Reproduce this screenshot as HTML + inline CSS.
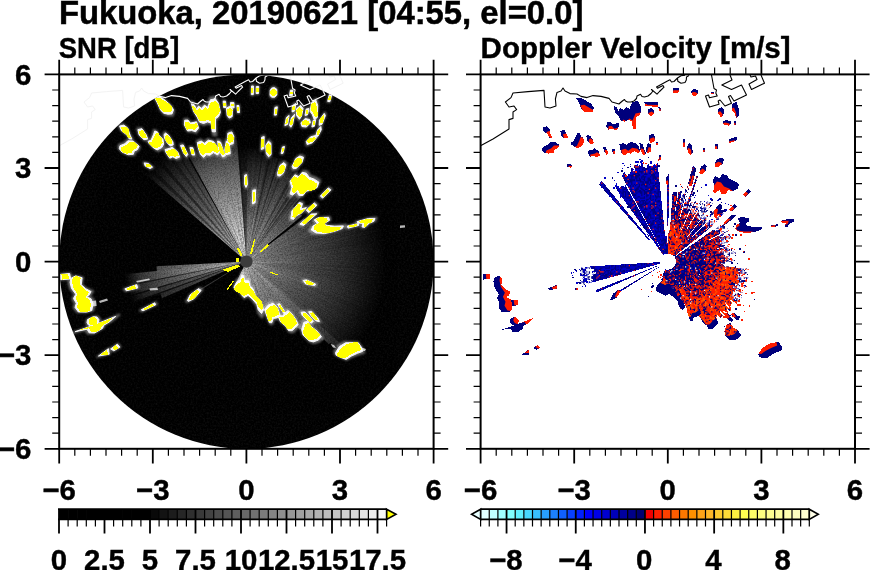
<!DOCTYPE html>
<html><head><meta charset="utf-8"><title>Fukuoka radar</title>
<style>html,body{margin:0;padding:0;background:#fff;}svg{display:block;}</style></head>
<body>
<svg width="870" height="570" viewBox="0 0 870 570" font-family="Liberation Sans, sans-serif" font-weight="bold" fill="#000">
<rect width="870" height="570" fill="#fff"/>
<defs>
<radialGradient id="gA" gradientUnits="userSpaceOnUse" cx="246.4" cy="261.6" r="128"><stop offset="0.0" stop-color="#fff" stop-opacity="0.93"/><stop offset="0.062" stop-color="#fff" stop-opacity="0.91"/><stop offset="0.25" stop-color="#fff" stop-opacity="0.8"/><stop offset="0.484" stop-color="#fff" stop-opacity="0.6"/><stop offset="0.719" stop-color="#fff" stop-opacity="0.4"/><stop offset="0.844" stop-color="#fff" stop-opacity="0.28"/><stop offset="0.938" stop-color="#fff" stop-opacity="0.13"/><stop offset="1.0" stop-color="#fff" stop-opacity="0"/></radialGradient>
<radialGradient id="gL" gradientUnits="userSpaceOnUse" cx="246.4" cy="261.6" r="136"><stop offset="0.0" stop-color="#fff" stop-opacity="0.9"/><stop offset="0.059" stop-color="#fff" stop-opacity="0.88"/><stop offset="0.221" stop-color="#fff" stop-opacity="0.72"/><stop offset="0.441" stop-color="#fff" stop-opacity="0.46"/><stop offset="0.662" stop-color="#fff" stop-opacity="0.29"/><stop offset="0.809" stop-color="#fff" stop-opacity="0.17"/><stop offset="0.912" stop-color="#fff" stop-opacity="0.07"/><stop offset="1.0" stop-color="#fff" stop-opacity="0"/></radialGradient>
<radialGradient id="gN" gradientUnits="userSpaceOnUse" cx="246.4" cy="261.6" r="115"><stop offset="0.0" stop-color="#fff" stop-opacity="0.86"/><stop offset="0.07" stop-color="#fff" stop-opacity="0.84"/><stop offset="0.217" stop-color="#fff" stop-opacity="0.68"/><stop offset="0.435" stop-color="#fff" stop-opacity="0.44"/><stop offset="0.652" stop-color="#fff" stop-opacity="0.29"/><stop offset="0.826" stop-color="#fff" stop-opacity="0.17"/><stop offset="0.939" stop-color="#fff" stop-opacity="0.07"/><stop offset="1.0" stop-color="#fff" stop-opacity="0"/></radialGradient>
<radialGradient id="gE" gradientUnits="userSpaceOnUse" cx="246.4" cy="261.6" r="112"><stop offset="0.0" stop-color="#fff" stop-opacity="0.734"/><stop offset="0.071" stop-color="#fff" stop-opacity="0.691"/><stop offset="0.268" stop-color="#fff" stop-opacity="0.54"/><stop offset="0.446" stop-color="#fff" stop-opacity="0.432"/><stop offset="0.714" stop-color="#fff" stop-opacity="0.292"/><stop offset="0.875" stop-color="#fff" stop-opacity="0.13"/><stop offset="1.0" stop-color="#fff" stop-opacity="0.0"/></radialGradient>
<radialGradient id="gE2" gradientUnits="userSpaceOnUse" cx="246.4" cy="261.6" r="140"><stop offset="0.0" stop-color="#fff" stop-opacity="0.734"/><stop offset="0.057" stop-color="#fff" stop-opacity="0.691"/><stop offset="0.214" stop-color="#fff" stop-opacity="0.497"/><stop offset="0.429" stop-color="#fff" stop-opacity="0.324"/><stop offset="0.714" stop-color="#fff" stop-opacity="0.162"/><stop offset="0.914" stop-color="#fff" stop-opacity="0.043"/><stop offset="1.0" stop-color="#fff" stop-opacity="0.0"/></radialGradient>
<radialGradient id="gS" gradientUnits="userSpaceOnUse" cx="246.4" cy="261.6" r="142"><stop offset="0.0" stop-color="#fff" stop-opacity="0.756"/><stop offset="0.056" stop-color="#fff" stop-opacity="0.713"/><stop offset="0.211" stop-color="#fff" stop-opacity="0.562"/><stop offset="0.423" stop-color="#fff" stop-opacity="0.41"/><stop offset="0.704" stop-color="#fff" stop-opacity="0.248"/><stop offset="0.88" stop-color="#fff" stop-opacity="0.13"/><stop offset="1.0" stop-color="#fff" stop-opacity="0.0"/></radialGradient>
<radialGradient id="gW" gradientUnits="userSpaceOnUse" cx="246.4" cy="261.6" r="122"><stop offset="0.0" stop-color="#fff" stop-opacity="0.756"/><stop offset="0.066" stop-color="#fff" stop-opacity="0.734"/><stop offset="0.385" stop-color="#fff" stop-opacity="0.562"/><stop offset="0.713" stop-color="#fff" stop-opacity="0.356"/><stop offset="0.877" stop-color="#fff" stop-opacity="0.216"/><stop offset="1.0" stop-color="#fff" stop-opacity="0.0"/></radialGradient>
<clipPath id="ldisc"><circle cx="246.4" cy="261.6" r="187.2"/></clipPath>
<filter id="halo" x="-5%" y="-5%" width="110%" height="110%"><feGaussianBlur stdDeviation="0.55"/></filter>
<filter id="glow" x="-5%" y="-5%" width="110%" height="110%"><feGaussianBlur stdDeviation="1.3"/></filter>
<filter id="grain" x="0" y="0" width="100%" height="100%"><feTurbulence type="fractalNoise" baseFrequency="0.55" numOctaves="2" seed="3"/><feColorMatrix type="matrix" values="0 0 0 0 1  0 0 0 0 1  0 0 0 0 1  1.6 0 0 0 -0.62"/></filter>
<filter id="grain2" x="0" y="0" width="100%" height="100%"><feTurbulence type="fractalNoise" baseFrequency="0.7" numOctaves="2" seed="9"/><feColorMatrix type="matrix" values="0 0 0 0 0  0 0 0 0 0  0 0 0 0 0  2.2 0 0 0 -0.85"/></filter>
</defs>
<path d="M59.6 145.6L71.6 139L87.6 129L87.6 119.6L91.6 118.4L91.6 112L95.2 109.6L92.6 106L87.6 107L84 102L89.6 97.6L91.6 93L106.6 91.6L122.6 90.4L123.6 107L128.6 108L134.6 106L134 99L135.6 92.4L139.6 91L141.6 88L143.6 91L148.6 93.6L155.6 94L159.6 96.4L165.6 97.6L171.6 95.6L179.6 96.4L187.6 98.4L190.6 102L197.6 104L198.6 103L201.6 100.5L203.1 99.5L204.1 101L206.1 102L209.6 102L212.6 101L215.1 98.5L215.6 96L219.1 94.2L220.6 96.5L223.1 97L226.6 96L229.6 93.5L231.6 91L230.1 89.5L235.6 94.2L238.1 91.5L242.6 87.2L241.6 85.5L236.1 88.2L235.1 87L240.6 84L245.6 81.2L248.6 79.8L250.1 82L252.6 81.5L256.1 78L259.6 75.8L263.6 75.3M256.1 78L256.4 81.2L259.6 83.2L263.6 82.5L264.9 80L265.1 77L267.6 75.6M290.1 75L292.6 88.5L295.1 90L294.4 93L295.8 96L288.1 97.8L287.1 95L284.1 96L288.1 107L297.6 104.2L296.8 101L298.6 100L303.6 106L310.1 103.2L307.1 96.5L309.1 95.5L312.6 101L325.1 95L320.1 85L310.1 89.5L300.4 85L310.6 80L308.6 75M328.6 75L329.6 77L334.1 76L335.6 79.5L327.6 84L330.1 89.5L343.1 83.2L339.6 75" fill="none" stroke="#f3f3f3" stroke-width="1"/>
<circle cx="246.4" cy="261.6" r="187.2" fill="#000"/>
<g clip-path="url(#ldisc)">
<rect x="59.20000000000002" y="74.40000000000003" width="374.4" height="374.4" filter="url(#grain)" opacity="0.07"/>
<path d="M246.4 261.6L178.8 126.6L181.3 125.3L246.4 261.6ZM246.4 261.6L208.3 115.5L211.1 114.8L246.4 261.6ZM246.4 261.6L210.9 114.8L213.7 114.2L246.4 261.6ZM246.4 261.6L223.8 112.3L226.6 111.9L246.4 261.6Z" fill="url(#gA)" fill-opacity="0.95"/>
<path d="M246.4 261.6L174.1 129L176.6 127.7L246.4 261.6ZM246.4 261.6L190.8 121.2L193.5 120.2L246.4 261.6Z" fill="url(#gA)" fill-opacity="0.97"/>
<path d="M246.4 261.6L176.4 127.8L179 126.5L246.4 261.6ZM246.4 261.6L181.2 125.4L183.7 124.2L246.4 261.6ZM246.4 261.6L183.5 124.3L186.1 123.1L246.4 261.6ZM246.4 261.6L185.9 123.2L188.6 122.1L246.4 261.6ZM246.4 261.6L188.4 122.2L191 121.1L246.4 261.6ZM246.4 261.6L193.3 120.3L195.9 119.3L246.4 261.6ZM246.4 261.6L195.7 119.3L198.4 118.4L246.4 261.6ZM246.4 261.6L198.2 118.5L200.9 117.6L246.4 261.6ZM246.4 261.6L200.7 117.7L203.5 116.8L246.4 261.6ZM246.4 261.6L203.3 116.9L206 116.1L246.4 261.6ZM246.4 261.6L205.8 116.2L208.5 115.4L246.4 261.6ZM246.4 261.6L213.5 114.2L216.2 113.6L246.4 261.6ZM246.4 261.6L216 113.7L218.8 113.1L246.4 261.6ZM246.4 261.6L218.6 113.2L221.4 112.7L246.4 261.6ZM246.4 261.6L221.2 112.7L224 112.3L246.4 261.6ZM246.4 261.6L226.4 111.9L229.3 111.6L246.4 261.6ZM246.4 261.6L229 111.6L231.9 111.3L246.4 261.6ZM246.4 261.6L231.7 111.3L234.5 111.1L246.4 261.6ZM246.4 261.6L234.3 111.1L234.8 111L246.4 261.6Z" fill="url(#gA)" fill-opacity="1"/>
<path d="M246.4 261.6L317.6 217.1L318.5 218.4L246.4 261.6ZM246.4 261.6L323.1 227.4L323.8 228.9L246.4 261.6ZM246.4 261.6L324.3 230.1L324.9 231.6L246.4 261.6ZM246.4 261.6L324.8 231.5L325.4 233L246.4 261.6ZM246.4 261.6L388.3 210L389.2 212.6L246.4 261.6ZM246.4 261.6L389.2 212.4L390.1 215.1L246.4 261.6ZM246.4 261.6L390.8 217.5L391.6 220.2L246.4 261.6ZM246.4 261.6L392.3 222.5L393 225.3L246.4 261.6ZM246.4 261.6L393.5 227.6L394.1 230.4L246.4 261.6ZM246.4 261.6L395.1 235.4L395.6 238.2L246.4 261.6ZM246.4 261.6L395.5 238L396 240.8L246.4 261.6ZM246.4 261.6L397.3 256.3L397.4 259.2L246.4 261.6ZM246.4 261.6L397.3 266.9L397.2 269.7L246.4 261.6ZM246.4 261.6L397.2 269.5L397 272.3L246.4 261.6ZM246.4 261.6L396.8 274.8L396.6 277.6L246.4 261.6ZM246.4 261.6L396.3 280L395.9 282.8L246.4 261.6ZM246.4 261.6L395.5 285.2L395.1 288L246.4 261.6Z" fill="url(#gE2)" fill-opacity="0.85"/>
<path d="M246.4 261.6L318.4 218.3L319.2 219.7L246.4 261.6ZM246.4 261.6L319.9 220.9L320.6 222.3L246.4 261.6ZM246.4 261.6L321.2 223.5L322 224.9L246.4 261.6ZM246.4 261.6L321.9 224.8L322.6 226.2L246.4 261.6ZM246.4 261.6L394.1 230.2L394.7 233L246.4 261.6ZM246.4 261.6L394.6 232.8L395.1 235.6L246.4 261.6ZM246.4 261.6L396.6 245.8L396.8 248.6L246.4 261.6ZM246.4 261.6L396.8 248.4L397 251.3L246.4 261.6ZM246.4 261.6L395.9 282.6L395.5 285.4L246.4 261.6ZM246.4 261.6L394.1 293L393.5 295.8L246.4 261.6ZM246.4 261.6L389.2 310.8L388.2 313.4L246.4 261.6ZM246.4 261.6L379.7 332.5L378.4 335L246.4 261.6ZM246.4 261.6L374.5 341.6L372.9 344L246.4 261.6ZM246.4 261.6L371.6 346L370 348.4L246.4 261.6ZM246.4 261.6L367 352.5L365.3 354.7L246.4 261.6Z" fill="url(#gE2)" fill-opacity="0.9"/>
<path d="M246.4 261.6L303.9 218.3L304.7 219.4L246.4 261.6ZM246.4 261.6L304.6 219.3L305.4 220.4L246.4 261.6ZM246.4 261.6L305.4 220.3L306.1 221.4L246.4 261.6ZM246.4 261.6L306.1 221.3L306.8 222.5L246.4 261.6ZM246.4 261.6L306.8 222.4L307.5 223.5L246.4 261.6Z" fill="url(#gE2)" fill-opacity="0.92"/>
<path d="M246.4 261.6L319.1 219.6L319.9 221L246.4 261.6ZM246.4 261.6L320.6 222.2L321.3 223.6L246.4 261.6ZM246.4 261.6L322.5 226.1L323.2 227.5L246.4 261.6ZM246.4 261.6L323.7 228.8L324.3 230.2L246.4 261.6ZM246.4 261.6L390 214.9L390.9 217.7L246.4 261.6ZM246.4 261.6L391.6 220L392.3 222.7L246.4 261.6ZM246.4 261.6L392.9 225.1L393.6 227.8L246.4 261.6ZM246.4 261.6L395.9 240.6L396.3 243.4L246.4 261.6ZM246.4 261.6L396.3 243.2L396.6 246L246.4 261.6ZM246.4 261.6L397 251.1L397.2 253.9L246.4 261.6ZM246.4 261.6L397.2 253.7L397.3 256.5L246.4 261.6ZM246.4 261.6L397.4 259L397.4 261.8L246.4 261.6ZM246.4 261.6L397.4 261.6L397.4 264.4L246.4 261.6ZM246.4 261.6L397.4 264.2L397.3 267.1L246.4 261.6ZM246.4 261.6L397 272.1L396.8 275L246.4 261.6ZM246.4 261.6L396.6 277.4L396.2 280.2L246.4 261.6ZM246.4 261.6L395.1 287.8L394.6 290.6L246.4 261.6ZM246.4 261.6L392.9 298.1L392.2 300.9L246.4 261.6ZM246.4 261.6L390.8 305.7L389.9 308.5L246.4 261.6ZM246.4 261.6L387.4 315.7L386.3 318.4L246.4 261.6ZM246.4 261.6L386.4 318.2L385.3 320.8L246.4 261.6ZM246.4 261.6L385.4 320.6L384.3 323.2L246.4 261.6ZM246.4 261.6L382.1 327.8L380.8 330.3L246.4 261.6ZM246.4 261.6L380.9 330.2L379.6 332.7L246.4 261.6ZM246.4 261.6L378.5 334.8L377.1 337.3L246.4 261.6ZM246.4 261.6L375.8 339.4L374.3 341.8L246.4 261.6ZM246.4 261.6L373 343.8L371.5 346.2L246.4 261.6ZM246.4 261.6L370.1 348.2L368.4 350.5L246.4 261.6ZM246.4 261.6L368.6 350.4L366.9 352.6L246.4 261.6ZM246.4 261.6L365.4 354.6L363.6 356.8L246.4 261.6Z" fill="url(#gE2)" fill-opacity="0.95"/>
<path d="M246.4 261.6L394.6 290.4L394.1 293.2L246.4 261.6ZM246.4 261.6L393.5 295.6L392.9 298.3L246.4 261.6ZM246.4 261.6L392.3 300.7L391.5 303.4L246.4 261.6ZM246.4 261.6L391.6 303.2L390.7 305.9L246.4 261.6ZM246.4 261.6L390 308.3L389.1 311L246.4 261.6ZM246.4 261.6L388.3 313.2L387.3 315.9L246.4 261.6ZM246.4 261.6L384.3 323L383.2 325.6L246.4 261.6ZM246.4 261.6L383.3 325.4L382 328L246.4 261.6ZM246.4 261.6L377.2 337.1L375.7 339.6L246.4 261.6ZM246.4 261.6L363.7 356.6L361.9 358.8L246.4 261.6ZM246.4 261.6L362.1 358.7L360.2 360.8L246.4 261.6Z" fill="url(#gE2)" fill-opacity="1"/>
<path d="M246.4 261.6L172 130.2L174.3 128.9L246.4 261.6Z" fill="url(#gL)" fill-opacity="0.04"/>
<path d="M246.4 261.6L145.4 149.4L147.5 147.5L246.4 261.6ZM246.4 261.6L147.3 147.6L149.5 145.8L246.4 261.6Z" fill="url(#gL)" fill-opacity="0.45"/>
<path d="M246.4 261.6L136 158.6L137.9 156.6L246.4 261.6ZM246.4 261.6L137.8 156.7L139.8 154.7L246.4 261.6Z" fill="url(#gL)" fill-opacity="0.5"/>
<path d="M246.4 261.6L164.2 135L166.6 133.4L246.4 261.6Z" fill="url(#gL)" fill-opacity="0.55"/>
<path d="M246.4 261.6L155.5 141L157.8 139.3L246.4 261.6ZM246.4 261.6L157.6 139.4L160 137.8L246.4 261.6Z" fill="url(#gL)" fill-opacity="0.6"/>
<path d="M246.4 261.6L149.3 145.9L151.5 144.1L246.4 261.6ZM246.4 261.6L151.4 144.3L153.6 142.5L246.4 261.6ZM246.4 261.6L153.4 142.6L155.7 140.9L246.4 261.6ZM246.4 261.6L166.4 133.5L168.8 132.1L246.4 261.6ZM246.4 261.6L168.6 132.2L171.1 130.7L246.4 261.6ZM246.4 261.6L170.9 130.8L172.2 130.1L246.4 261.6Z" fill="url(#gL)" fill-opacity="0.85"/>
<path d="M246.4 261.6L132.4 162.5L134.3 160.4L246.4 261.6ZM246.4 261.6L134.2 160.6L136.1 158.5L246.4 261.6ZM246.4 261.6L139.6 154.8L141.7 152.8L246.4 261.6ZM246.4 261.6L141.5 153L143.6 151L246.4 261.6ZM246.4 261.6L143.4 151.2L145.5 149.2L246.4 261.6ZM246.4 261.6L159.8 137.9L162.1 136.3L246.4 261.6ZM246.4 261.6L162 136.4L164.3 134.8L246.4 261.6Z" fill="url(#gL)" fill-opacity="0.9"/>
<path d="M246.4 261.6L234.6 111.1L237.4 110.9L246.4 261.6ZM246.4 261.6L237.2 110.9L238.7 110.8L246.4 261.6Z" fill="url(#gN)" fill-opacity="0.3"/>
<path d="M246.4 261.6L238.5 110.8L241.3 110.7L246.4 261.6ZM246.4 261.6L241.1 110.7L244 110.6L246.4 261.6ZM246.4 261.6L243.8 110.6L246.6 110.6L246.4 261.6ZM246.4 261.6L246.4 110.6L247.9 110.6L246.4 261.6ZM246.4 261.6L268.9 156L270.8 156.4L246.4 261.6ZM246.4 261.6L278 158.3L279.9 158.9L246.4 261.6ZM246.4 261.6L300.3 184.6L301.8 185.6L246.4 261.6Z" fill="url(#gN)" fill-opacity="0.45"/>
<path d="M246.4 261.6L297.1 166.2L298.9 167.2L246.4 261.6ZM246.4 261.6L296.2 181.9L297.7 182.8L246.4 261.6ZM246.4 261.6L297.6 182.8L299.1 183.7L246.4 261.6Z" fill="url(#gN)" fill-opacity="0.55"/>
<path d="M246.4 261.6L261.4 154.7L263.4 155L246.4 261.6ZM246.4 261.6L285.1 160.8L287 161.5L246.4 261.6ZM246.4 261.6L295.4 165.4L297.2 166.3L246.4 261.6ZM246.4 261.6L301.7 185.6L303.1 186.6L246.4 261.6ZM246.4 261.6L304.3 187.5L305.7 188.6L246.4 261.6Z" fill="url(#gN)" fill-opacity="0.6"/>
<path d="M246.4 261.6L292.7 206.4L293.7 207.3L246.4 261.6ZM246.4 261.6L294.6 208.1L295.6 209L246.4 261.6ZM246.4 261.6L297.3 210.7L298.3 211.7L246.4 261.6ZM246.4 261.6L299.9 213.4L300.8 214.4L246.4 261.6Z" fill="url(#gN)" fill-opacity="0.7"/>
<path d="M246.4 261.6L267 155.6L269 156L246.4 261.6ZM246.4 261.6L272.5 156.8L274.5 157.3L246.4 261.6ZM246.4 261.6L281.6 159.5L283.5 160.2L246.4 261.6ZM246.4 261.6L303 186.5L304.4 187.6L246.4 261.6Z" fill="url(#gN)" fill-opacity="0.75"/>
<path d="M246.4 261.6L247.7 110.6L250.6 110.7L246.4 261.6ZM246.4 261.6L250.4 110.7L253.2 110.8L246.4 261.6ZM246.4 261.6L253 110.7L255.8 110.9L246.4 261.6ZM246.4 261.6L258.2 111.1L261.1 111.3L246.4 261.6ZM246.4 261.6L260.9 111.3L263.7 111.6L246.4 261.6ZM246.4 261.6L270.7 156.4L272.7 156.8L246.4 261.6ZM246.4 261.6L293.4 180.2L294.9 181.1L246.4 261.6ZM246.4 261.6L293.6 207.3L294.7 208.2L246.4 261.6ZM246.4 261.6L295.5 208.9L296.5 209.9L246.4 261.6ZM246.4 261.6L296.4 209.8L297.4 210.8L246.4 261.6ZM246.4 261.6L298.2 211.6L299.1 212.6L246.4 261.6ZM246.4 261.6L299.1 212.5L300 213.5L246.4 261.6Z" fill="url(#gN)" fill-opacity="0.8"/>
<path d="M246.4 261.6L263.5 111.6L266.3 111.9L246.4 261.6ZM246.4 261.6L276.2 157.8L278.1 158.4L246.4 261.6ZM246.4 261.6L283.3 160.1L285.2 160.8L246.4 261.6ZM246.4 261.6L288.6 162.2L290.5 163L246.4 261.6ZM246.4 261.6L292 163.7L293.9 164.6L246.4 261.6ZM246.4 261.6L305.6 188.5L306.9 189.7L246.4 261.6ZM246.4 261.6L300.7 214.4L301.6 215.4L246.4 261.6ZM246.4 261.6L301.6 215.3L302 215.9L246.4 261.6Z" fill="url(#gN)" fill-opacity="0.9"/>
<path d="M246.4 261.6L255.6 110.9L258.5 111.1L246.4 261.6ZM246.4 261.6L266.1 111.9L267.6 112.1L246.4 261.6ZM246.4 261.6L286.9 161.5L288.7 162.2L246.4 261.6ZM246.4 261.6L294.8 181L296.3 182L246.4 261.6ZM246.4 261.6L299 183.7L300.4 184.7L246.4 261.6Z" fill="url(#gN)" fill-opacity="0.95"/>
<path d="M246.4 261.6L263.3 154.9L265.3 155.3L246.4 261.6ZM246.4 261.6L265.2 155.2L267.2 155.6L246.4 261.6ZM246.4 261.6L274.4 157.3L276.3 157.8L246.4 261.6ZM246.4 261.6L279.8 158.9L281.7 159.5L246.4 261.6ZM246.4 261.6L290.3 162.9L292.2 163.8L246.4 261.6ZM246.4 261.6L293.7 164.5L295.6 165.4L246.4 261.6ZM246.4 261.6L298.8 167.1L300.5 168.1L246.4 261.6ZM246.4 261.6L267.2 244.4L267.6 244.8L246.4 261.6ZM246.4 261.6L267.5 244.8L267.8 245.2L246.4 261.6ZM246.4 261.6L267.8 245.2L268 245.4L246.4 261.6Z" fill="url(#gN)" fill-opacity="1"/>
<path d="M246.4 261.6L310.3 332.6L309 333.8L246.4 261.6ZM246.4 261.6L300.8 328.8L299.6 329.8L246.4 261.6ZM246.4 261.6L297.8 327.4L296.6 328.4L246.4 261.6ZM246.4 261.6L289.4 323L288.3 323.8L246.4 261.6ZM246.4 261.6L285.1 321.1L283.9 321.9L246.4 261.6ZM246.4 261.6L278.9 317.9L277.8 318.5L246.4 261.6ZM246.4 261.6L265.3 310.8L264.4 311.1L246.4 261.6ZM246.4 261.6L261.5 308L260.6 308.3L246.4 261.6ZM246.4 261.6L260.3 306.9L259.4 307.2L246.4 261.6ZM246.4 261.6L259.1 305.8L258.2 306L246.4 261.6Z" fill="url(#gS)" fill-opacity="0.95"/>
<path d="M246.4 261.6L349.5 351.3L347.8 353.2L246.4 261.6ZM246.4 261.6L343 348.6L341.4 350.4L246.4 261.6ZM246.4 261.6L336.6 345.7L335 347.4L246.4 261.6ZM246.4 261.6L330.3 342.6L328.8 344.2L246.4 261.6ZM246.4 261.6L324.2 339.4L322.7 340.8L246.4 261.6ZM246.4 261.6L318.2 335.9L316.8 337.3L246.4 261.6ZM246.4 261.6L313.6 333.6L312.2 334.9L246.4 261.6ZM246.4 261.6L307.1 331.4L305.8 332.5L246.4 261.6ZM246.4 261.6L303.9 330.2L302.6 331.2L246.4 261.6ZM246.4 261.6L294.8 325.9L293.6 326.8L246.4 261.6ZM246.4 261.6L292 324.3L290.8 325.1L246.4 261.6ZM246.4 261.6L287.2 322.1L286.1 322.9L246.4 261.6ZM246.4 261.6L283 320.1L281.9 320.8L246.4 261.6ZM246.4 261.6L280.9 319L279.8 319.7L246.4 261.6ZM246.4 261.6L276.9 316.7L275.9 317.3L246.4 261.6ZM246.4 261.6L275 315.5L274 316L246.4 261.6ZM246.4 261.6L273.4 314.6L272.4 315.1L246.4 261.6ZM246.4 261.6L272 314L271 314.5L246.4 261.6ZM246.4 261.6L270.6 313.4L269.6 313.9L246.4 261.6ZM246.4 261.6L269.2 312.8L268.2 313.2L246.4 261.6ZM246.4 261.6L267.9 312.2L266.9 312.6L246.4 261.6ZM246.4 261.6L266.6 311.5L265.6 311.9L246.4 261.6ZM246.4 261.6L264 310.1L263.1 310.4L246.4 261.6ZM246.4 261.6L262.8 309.1L261.9 309.4L246.4 261.6Z" fill="url(#gS)" fill-opacity="1"/>
<path d="M246.4 261.6L257.9 304.6L257.1 304.8L246.4 261.6ZM246.4 261.6L256.8 303.4L256 303.6L246.4 261.6ZM246.4 261.6L255.8 302.1L255 302.3L246.4 261.6ZM246.4 261.6L254.8 300.9L254 301L246.4 261.6ZM246.4 261.6L253.8 299.6L253.1 299.7L246.4 261.6ZM246.4 261.6L253 298.8L252.3 298.9L246.4 261.6ZM246.4 261.6L252.2 298.3L251.5 298.4L246.4 261.6ZM246.4 261.6L251.5 297.9L250.8 298L246.4 261.6ZM246.4 261.6L250.8 297.4L250.1 297.5L246.4 261.6ZM246.4 261.6L250.1 297L249.5 297L246.4 261.6ZM246.4 261.6L249.5 296.5L248.8 296.6L246.4 261.6ZM246.4 261.6L248.8 296L248.2 296.1L246.4 261.6ZM246.4 261.6L248.2 295.5L247.5 295.5L246.4 261.6ZM246.4 261.6L247.6 295L246.9 295L246.4 261.6ZM246.4 261.6L247 294.5L246.4 294.5L246.4 261.6ZM246.4 261.6L246.4 293.9L245.8 293.9L246.4 261.6ZM246.4 261.6L245.8 293.4L245.2 293.4L246.4 261.6ZM246.4 261.6L245.3 292.9L244.7 292.8L246.4 261.6ZM246.4 261.6L244.8 292.5L244.2 292.5L246.4 261.6ZM246.4 261.6L244.2 292.4L243.7 292.4L246.4 261.6ZM246.4 261.6L243.7 292.3L243.1 292.2L246.4 261.6ZM246.4 261.6L243.2 292.1L242.6 292.1L246.4 261.6ZM246.4 261.6L242.7 292L242.1 291.9L246.4 261.6ZM246.4 261.6L242.1 291.8L241.6 291.8L246.4 261.6ZM246.4 261.6L241.6 291.7L241.1 291.6L246.4 261.6ZM246.4 261.6L241.1 291.5L240.6 291.4L246.4 261.6ZM246.4 261.6L240.6 291.3L240.1 291.2L246.4 261.6ZM246.4 261.6L240.1 291.1L239.6 291L246.4 261.6ZM246.4 261.6L239.6 291L239.1 290.8L246.4 261.6ZM246.4 261.6L239.1 290.7L238.6 290.6L246.4 261.6ZM246.4 261.6L238.7 290.5L238.1 290.3L246.4 261.6ZM246.4 261.6L238.2 290.2L237.7 290L246.4 261.6ZM246.4 261.6L237.8 289.9L237.2 289.7L246.4 261.6ZM246.4 261.6L237.3 289.5L236.8 289.4L246.4 261.6ZM246.4 261.6L236.9 289.2L236.4 289L246.4 261.6ZM246.4 261.6L236.5 288.9L236 288.7L246.4 261.6ZM246.4 261.6L236.1 288.5L235.6 288.3L246.4 261.6ZM246.4 261.6L235.7 288.2L235.2 287.9L246.4 261.6ZM246.4 261.6L235.3 287.8L234.8 287.6L246.4 261.6ZM246.4 261.6L234.9 287.4L234.4 287.2L246.4 261.6ZM246.4 261.6L234.5 287.1L234.1 286.8L246.4 261.6Z" fill="url(#gS)" fill-opacity="1.05"/>
<path d="M246.4 261.6L105 314.5L104 311.8L246.4 261.6Z" fill="url(#gW)" fill-opacity="0.12"/>
<path d="M246.4 261.6L102 305.7L101.2 303L246.4 261.6Z" fill="url(#gW)" fill-opacity="0.2"/>
<path d="M246.4 261.6L98.7 293L98.1 290.2L246.4 261.6Z" fill="url(#gW)" fill-opacity="0.35"/>
<path d="M246.4 261.6L190.4 296.6L189.8 295.5L246.4 261.6ZM246.4 261.6L189.8 295.6L189.7 295.3L246.4 261.6Z" fill="url(#gW)" fill-opacity="0.4"/>
<path d="M246.4 261.6L162 298.3L161.4 296.7L246.4 261.6ZM246.4 261.6L161.4 296.8L160.8 295.2L246.4 261.6ZM246.4 261.6L160.8 295.3L160.2 293.7L246.4 261.6Z" fill="url(#gW)" fill-opacity="0.5"/>
<path d="M246.4 261.6L104.1 312L103.1 309.3L246.4 261.6ZM246.4 261.6L103.2 309.5L102.3 306.8L246.4 261.6ZM246.4 261.6L102.4 307L101.9 305.5L246.4 261.6Z" fill="url(#gW)" fill-opacity="0.6"/>
<path d="M246.4 261.6L101.2 303.2L100.5 300.5L246.4 261.6ZM246.4 261.6L100.5 300.7L99.8 297.9L246.4 261.6ZM246.4 261.6L99.9 298.1L99.2 295.4L246.4 261.6ZM246.4 261.6L99.3 295.6L98.7 292.8L246.4 261.6Z" fill="url(#gW)" fill-opacity="0.85"/>
<path d="M246.4 261.6L156.9 271L156.7 269.3L246.4 261.6ZM246.4 261.6L156.7 269.4L156.6 267.8L246.4 261.6ZM246.4 261.6L156.6 267.9L156.5 266.2L246.4 261.6Z" fill="url(#gW)" fill-opacity="0.9"/>
<path d="M246.4 261.6L98.2 290.4L97.7 287.6L246.4 261.6ZM246.4 261.6L97.7 287.8L97.2 285L246.4 261.6ZM246.4 261.6L97.3 285.2L96.8 282.4L246.4 261.6ZM246.4 261.6L96.9 282.6L96.5 279.8L246.4 261.6ZM246.4 261.6L96.5 280L96.2 277.2L246.4 261.6Z" fill="url(#gW)" fill-opacity="1"/>
<rect x="96.4" y="111.60000000000002" width="300" height="300" filter="url(#grain2)" opacity="0.36"/>
<circle cx="246.4" cy="261.6" r="6.2" fill="#3c3c3c"/>
<path d="M59.6 145.6L71.6 139L87.6 129L87.6 119.6L91.6 118.4L91.6 112L95.2 109.6L92.6 106L87.6 107L84 102L89.6 97.6L91.6 93L106.6 91.6L122.6 90.4L123.6 107L128.6 108L134.6 106L134 99L135.6 92.4L139.6 91L141.6 88L143.6 91L148.6 93.6L155.6 94L159.6 96.4L165.6 97.6L171.6 95.6L179.6 96.4L187.6 98.4L190.6 102L197.6 104L198.6 103L201.6 100.5L203.1 99.5L204.1 101L206.1 102L209.6 102L212.6 101L215.1 98.5L215.6 96L219.1 94.2L220.6 96.5L223.1 97L226.6 96L229.6 93.5L231.6 91L230.1 89.5L235.6 94.2L238.1 91.5L242.6 87.2L241.6 85.5L236.1 88.2L235.1 87L240.6 84L245.6 81.2L248.6 79.8L250.1 82L252.6 81.5L256.1 78L259.6 75.8L263.6 75.3M256.1 78L256.4 81.2L259.6 83.2L263.6 82.5L264.9 80L265.1 77L267.6 75.6M290.1 75L292.6 88.5L295.1 90L294.4 93L295.8 96L288.1 97.8L287.1 95L284.1 96L288.1 107L297.6 104.2L296.8 101L298.6 100L303.6 106L310.1 103.2L307.1 96.5L309.1 95.5L312.6 101L325.1 95L320.1 85L310.1 89.5L300.4 85L310.6 80L308.6 75M328.6 75L329.6 77L334.1 76L335.6 79.5L327.6 84L330.1 89.5L343.1 83.2L339.6 75" fill="none" stroke="#fff" stroke-width="1.1" stroke-linejoin="round"/>
<path d="M400 225.6L405 225.2L405 227.6L400 228ZM99 301L107 298.4L108 300.4L100 303ZM92 301L96 300.4L96.6 306L92.6 306.4ZM136 281L149 278.4L150 280L137.4 282.4ZM149.4 288.4L157.4 287.6L158 290L150 290.4ZM330.6 344L334 345L336 348L333 347.6ZM360 347L366 349L365 351L361 351Z" fill="#fff" filter="url(#halo)" opacity=".72"/>
<path d="M152.8 94.2L157 93.7L163.8 98.7L170.9 105.6L174.1 110.9L172.9 115.6L168.7 115.6L164.4 114.2L160.8 110.6L156.7 101.5ZM190.8 101.4L193.9 102.9L196.2 108.2L198.1 104.5L201.3 107.3L204.1 103.7L207.3 106.5L209.9 97.7L214.9 96.8L218.2 102.2L220.5 112.8L218.8 117.8L215.8 120.1L216.3 135.5L213.1 135.2L211.7 124.9L207.9 123.4L204 125.1L199.8 123.3L197.4 117.5L193.3 110.5ZM184.2 119.1L187.5 118.9L190.3 122.7L196.4 121.5L198.9 128.7L196.2 132.9L191.9 131.2L187.8 131.6L184.2 124.5ZM223.1 100.6L225.5 100.7L226.1 108L223.7 107.9ZM118.5 124.9L122.9 124.2L127.4 127.7L130.6 135.8L133 140.2L130 139.8L127.2 135.3L121 130.3ZM137.1 128.6L141.4 128.1L146.6 135.4L148.5 139.9L144.5 140.3L138.9 134.7ZM119 144.6L124 143L127 140.1L132.8 140.8L140 146.9L138.2 150.5L135 151.9L134.3 155.2L128.6 155.1L121.7 151.8L118.5 148ZM147.6 140.7L150.8 139.7L152.9 133.7L153.9 129.8L156.9 131.2L158.2 134.4L163.1 139.5L164.5 145.1L162.7 148.9L158 151.1L154 148.4L149 143.3ZM163.4 133.5L165 132L168.3 134.8L173.3 142.6L173.9 146L171 146.8L167.6 143.5L164.3 137.7ZM164.3 148.5L169.5 147.5L171.6 146.3L178 152.5L180.4 158.2L176.7 159.4L173.2 157.3L170.1 158.6L165.8 152.2ZM180 144.5L182.7 144.1L188.2 155.2L186.8 157.5L183.8 153.5ZM189.6 146.9L192.5 147.2L195 155.7L192.3 155.4ZM196.8 140.9L200.8 139.5L204.1 142.3L207.9 138.9L213.2 140.6L217.5 147.5L220 154.1L218.2 156.4L213.9 153.5L210 156.4L206.8 155.4L204 158.4L200.6 154.8L197.8 146ZM217.2 139.5L220.3 140.9L223.9 153L225.7 157L222.7 158.1L218.7 148.5ZM143.6 162.3L148.3 163.3L153 167.5L150.5 169L145 165.8ZM226.3 107.3L229.7 105.3L232.4 108L232.3 117.4L229.3 119.1L227.2 115.9ZM230.4 102.1L233.8 102.2L234.2 108.3L230.8 108.2ZM236.9 104.9L238.9 104.9L239.5 113.1L237.5 113.1ZM251.5 85.3L253.5 85.3L253.3 95.3L251.3 95.3ZM256.3 85.9L258.7 85.9L258.5 94.1L256.1 94.1ZM270.3 90L271.8 87.4L274.4 86.7L276.9 88.7L276.7 95.2L274.6 97.9L271.8 98L269.9 96.1ZM275 107L277.5 106.1L276.2 115.7L274.2 115.8ZM290.5 89.9L293.1 89.7L292.1 96.1L289.5 96.3ZM286.5 117.2L289.4 114.4L287.4 125L284.7 126.5ZM291.7 117L295 112.9L292.4 124.7L290.6 128.2L289.3 126.3ZM296.6 108.3L301 104.1L303.4 107.7L301.3 116.9L299 120.4L296.2 116.1ZM292.5 105.4L296.1 102.6L294.5 111.4L291.9 112.6ZM312.1 101.5L316.5 98.6L318.1 104.6L316.9 118.5L313.6 120.8L312 115.3L309.8 111.8ZM306.3 108.7L309.2 107.9L307.3 115.3L304.8 116ZM300.7 123.1L305.4 118L309.9 118.8L310.7 122.4L306.2 127.5L301.6 127.3ZM313.4 120L316 119L314.2 126.6L311.6 127.6ZM319.2 120.5L324.8 112.5L325.8 114.8L321.5 125.1L318.6 126.1ZM329.5 94.3L332 94.5L329.7 102.1L327.4 101.9ZM317.7 129.7L321.3 125.6L321.6 129.2L317.5 137L315.4 136.5ZM306 141.9L310.8 136.5L316.3 134.6L317.1 136.9L312.2 143.2L306.7 145.5ZM227.7 132.4L231.6 130.8L233.8 136L233.3 144.7L229.4 145.8L227.6 140.6ZM224.9 150.6L226.1 140L229 141.4L230.5 154.7L225.9 155.8ZM261.8 136.4L264.4 135.5L263.6 149.6L261 150.5ZM265.8 145.1L268.6 139.8L271.1 142.2L270.9 155.4L268.4 158.1L266.1 154.4ZM282.6 146.6L284.7 145.9L282.8 153.9L280.9 154ZM291.8 167.4L295.9 158.3L300.4 154.9L304.1 156.1L302.2 162L295.8 169.4L292.6 169.8ZM277.1 174.3L280.2 165L284.2 161.4L286.4 163.6L283.4 173.2L279.6 177L277.4 176.7ZM244.6 174.3L246.6 173.5L247.4 185.1L246 188.5L244.6 185.1ZM289.6 181.9L295.3 174.2L299.4 176.1L303.3 170.8L307.6 171.5L310.3 175.8L315.6 177.5L320.2 180.4L317.7 186.6L311.9 189.7L305.9 191.5L302 196.7L297.6 196.8L295.9 192.8L291.1 197L288.6 196.1L291 188.8ZM319.5 196.8L329 187.3L331.7 189.2L322 198.7ZM291.3 211.6L300.2 201.4L303.5 202.6L301.6 208.5L307.5 206.6L302.2 212.5L295.2 216.8L292.4 220.5L289.6 219.7ZM305.6 210.7L315 202.4L317.7 204.7L308 213.3ZM298.6 225.1L312.3 213.4L318.3 212.7L302.5 226.1ZM313.1 220.3L318.3 217.8L329.6 216.8L330.5 219.8L323 224.2L327.5 225.3L336.1 225.6L346.1 224.7L344.5 227.5L335.5 230.8L323.9 233.9L314.1 233.8L308.9 231.1L311.1 226.8L316.3 224.2ZM346.5 226.4L359.6 223.1L359.4 225.2L347.1 228.5ZM355.9 222L369.1 218.3L376.7 217.8L375.1 221L369.9 223L364.2 227.6L361.2 227.2L362.5 223.6L356.5 223.4ZM252.9 189.2L255.8 188.6L255.1 203.7L252.2 205.1ZM58.9 274.6L70.4 273.4L71.6 278.8L59.5 279.8ZM69.6 278.6L75.4 275.9L82.9 277.5L81.7 284.7L86.6 288.5L92.9 291.2L90.1 295.4L86.9 296.5L92.5 298.3L94.8 303.2L93.1 310.4L86.5 312.1L77.2 312.2L73.6 307.7L75.1 303.6L72.1 298.7L74.9 294.5L70.1 288.7L68.6 282.7ZM86.9 319.8L93.6 316.6L97.9 316.6L100.1 319.4L98.7 323.2L91.2 326.3L87.6 325.3L86 323ZM71.5 333.2L92.2 325.8L119.5 314.8L111.4 321.1L104.8 324.8L103.2 328L93.8 333.3L87.6 333.5L85.5 329.9ZM97.4 356.7L109.2 348.2L109.6 353.9ZM110 349.3L117.8 343.8L120.5 346.8L113.4 351.1ZM123.7 289.1L137.7 284.4L138.7 287.8L125.4 291ZM140 310.4L155.8 302.3L156.8 304.3L141.9 311.3ZM186.2 301.4L189.9 295L199.8 287.8L202.4 289.7L193.7 298.8L187.3 302.1ZM233.8 286.2L236.7 279.7L240.3 277.2L241.6 272L243.6 272.6L244.3 278.6L248.7 278.7L249.8 285.2L252.9 287.8L256.2 298.7L261.7 305.3L263.8 313.1L261.9 317.5L258.4 313L256.9 306.5L252.2 299.9L248.1 295.9L244.2 298.5L238.9 291.5L234.9 288.8ZM264 308.2L267.4 303.7L272.4 301.8L277.1 307.2L280.5 316.3L277.2 318.9L273.7 319.2L272.5 324L269.9 323.7L266.3 314.6ZM276.9 303.4L279.1 302.9L286.2 313.8L284.6 314.5ZM276.6 313.7L281.6 315L284.1 312.3L286.9 309.1L291.3 313.2L296.7 320.8L299 325.9L296.2 329L293.3 332.2L289.3 331.7L286.1 326.6L280.1 321.2ZM300.2 311.4L304.1 311.2L310.3 317.6L314.3 322.1L312.3 324.1L308 320.9L301.6 314.7ZM307.5 311L311 310.8L318.8 319.1L320.4 322.4L316.8 321.5L310.4 315.1ZM300.7 328.5L302.4 320.7L306.4 320.1L310.4 325.9L317.4 331.5L322.6 337.9L319.7 341.4L314.4 343L309.7 341.5L302.6 334.5ZM334.4 351.7L338.1 345.5L344.6 341.9L358.2 342.6L362.3 348L364.1 352.7L358.5 354.2L352 356.7L346.6 359.8L339.6 356.8L335.2 354.5ZM302.2 280.1L306 279.7L316.7 284.5L315.6 285.9L305.1 283.7Z" fill="#fff" stroke="#fff" stroke-width="2" stroke-linejoin="round" filter="url(#glow)" opacity=".4"/>
<path d="M153.9 96.3L157.9 95.6L164.2 99.5L170.7 105.3L173.5 109.7L172 113.9L167.9 114.2L163.8 113.2L160.7 110.2L157.2 102.5ZM191.4 103.7L194.4 104.9L196.5 109.3L198.5 106.1L201.5 108.3L204.5 105.1L207.6 107.4L210.4 99.8L215.4 98.8L218.5 103.3L220.4 112.4L218.5 116.7L215.5 118.8L215.4 131.9L212.2 131.8L211.2 123.1L207.5 121.9L203.5 123.5L199.5 122.1L197.3 117.3L193.6 111.4ZM184.7 120.3L187.9 120L190.5 123.1L196.5 121.8L198.6 127.9L195.7 131.7L191.6 130.5L187.6 131L184.4 125ZM223.2 101.1L225.6 101.2L226 107.5L223.6 107.4ZM119.6 126.1L123.8 125.1L127.7 128L130.1 135.2L131.9 139.1L129.2 138.9L127 135L121.5 130.8ZM137.9 129.6L142 128.7L146.3 135.1L147.7 139L144 139.7L139.1 134.9ZM120 145.7L124.8 143.8L127.8 140.8L133 141L139.2 146.2L137.3 149.7L134.2 151.2L133.3 154.3L128.1 154.7L122 152L119.3 148.8ZM148.1 141.3L151.1 140.2L153.5 134.6L154.8 131L157.6 132L158.5 134.8L162.9 139.2L163.7 144.1L161.8 147.6L157.1 149.9L153.5 147.9L149.2 143.5ZM164 134.5L165.6 133.1L168.6 135.3L172.9 141.9L173.2 144.9L170.3 145.9L167.4 143.2L164.6 138.2ZM165 149.5L170.1 148.2L172.1 147L177.8 152.1L179.7 157.1L176 158.5L172.8 156.8L169.8 158.2L166.1 152.7ZM180.5 145.5L183.2 144.9L187.8 154.4L186.3 156.5L183.7 153.2ZM189.9 147.6L192.8 147.7L194.7 155L192 154.9ZM197.3 142.5L201.3 141.1L204.4 143.3L208.4 140.2L213.5 141.4L217.4 147.3L219.6 152.8L217.6 154.9L213.5 152.6L209.6 155.3L206.5 154.6L203.6 157.3L200.5 154.4L198.1 146.9ZM217.6 141L220.6 142.2L223.7 152.5L225.4 155.8L222.4 156.8L218.7 148.7ZM144.2 162.9L148.5 163.5L152.5 167.1L150.1 168.6L145.2 166ZM226.4 108L229.8 106.3L232.4 108.5L232.2 116.6L229.2 118.1L227.2 115.4ZM230.5 102.6L233.9 102.6L234.1 107.8L230.7 107.8ZM236.9 105.5L238.9 105.5L239.5 112.5L237.5 112.5ZM251.5 86L253.5 86L253.3 94.6L251.3 94.6ZM256.3 86.5L258.7 86.5L258.5 93.5L256.1 93.5ZM270.2 90.3L271.6 88.1L274.3 87.6L276.8 89.3L276.8 94.9L274.8 97.2L271.9 97.2L270 95.5ZM274.9 107.5L277.3 106.8L276.3 115.1L274.3 115.1ZM290.4 90.2L293 90.2L292.2 95.8L289.6 95.8ZM286.4 117.6L289.1 115.4L287.6 124.4L284.9 125.6ZM291.5 117.6L294.6 114.2L292.6 124.3L290.9 127.2L289.5 125.5ZM296.5 108.7L300.6 105.3L303.1 108.5L301.5 116.4L299.4 119.3L296.5 115.5ZM292.4 105.7L295.9 103.4L294.6 111L292.1 111.9ZM311.7 102.4L315.8 100.1L317.7 105.5L317.3 117.6L314.2 119.4L312.3 114.5L310 111.3ZM306.1 109.1L309 108.6L307.5 114.9L305 115.4ZM300.9 122.8L305.2 118.6L309.6 119.5L310.5 122.7L306.4 127L302 126.5ZM313.2 120.3L315.7 119.6L314.4 126.3L311.9 127ZM319.4 120.2L324.2 113.4L325.4 115.6L321.9 124.4L319.2 125.2ZM329.3 94.7L331.7 95L329.9 101.7L327.7 101.4ZM317.6 129.9L320.8 126.5L321.3 129.7L317.8 136.4L315.8 135.8ZM306.3 141.4L310.7 136.8L315.8 135.5L316.7 137.6L312.3 142.8L307.2 144.5ZM227.8 133.3L231.8 131.9L233.8 136.3L233.2 143.7L229.2 144.7L227.6 140.3ZM224.8 150.3L226.3 141.2L229.1 142.3L230.3 153.7L225.7 154.7ZM261.6 137.3L264.2 136.6L263.8 148.7L261.2 149.4ZM265.7 145.6L268.4 141.1L270.9 143.3L271.1 154.6L268.6 156.8L266.3 153.6ZM282.4 147L284.5 146.5L282.9 153.4L281.1 153.4ZM292.2 166.5L295.7 158.7L299.8 156L303.5 157.3L302 162.4L296.2 168.5L293.2 168.6ZM277.4 173.5L279.9 165.6L283.7 162.6L286 164.7L283.5 172.9L280 176L277.8 175.7ZM244.6 175.3L246.6 174.6L247.4 184.5L246 187.4L244.6 184.5ZM290.1 181.3L294.9 174.8L298.9 176.7L302.2 172.3L306.3 173.2L309.2 177.3L314.3 179.2L318.9 182.2L317.1 187.6L311.8 189.9L306.2 191.2L302.9 195.6L298.7 195.3L296.8 191.6L292.6 195L290.1 194L291.9 187.6ZM320.3 196.1L328.3 187.9L330.9 189.9L322.7 198.1ZM291.9 211.1L299.3 202.3L302.4 203.6L301.1 208.9L306.4 207.6L302 212.7L295.8 216.1L293.6 219.4L290.9 218.5ZM306.3 210.1L314.3 202.9L316.9 205.3L308.7 212.7ZM299.9 224.1L311.4 214L316.8 213.8L303.5 225.4ZM314.3 219.8L318.7 217.6L328.6 217.3L329.6 220.3L323.2 224.1L327.2 225.4L334.8 226.2L343.4 225.9L342.2 228.6L334.6 231.3L324.6 233.6L316 232.9L311.3 230L313 225.9L317.4 223.7ZM347.4 226.1L358.6 223.5L358.6 225.5L348 228.1ZM357.2 221.6L368.4 218.5L375 218.4L373.8 221.4L369.4 223.1L364.6 227.4L362 226.9L363 223.4L357.8 223ZM252.8 190.3L255.6 189.8L255.2 202.7L252.4 203.8ZM59.8 274.5L69.6 273.5L70.7 278.9L60.4 279.7ZM70.8 278.4L75.7 275.9L82.1 277.7L81.3 284.7L85.7 288.7L91.1 291.6L88.8 295.6L86.2 296.7L90.9 298.6L93 303.6L91.8 310.6L86.3 312.1L78.3 311.9L75.1 307.4L76.3 303.3L73.5 298.4L75.8 294.3L71.5 288.4L70.1 282.4ZM87.5 319.6L93.3 316.7L97 317L99 319.8L98.1 323.4L91.7 326.1L88.4 325L87 322.6ZM75.1 331.7L92.7 325.6L115.9 316.3L109.2 322L103.7 325.3L102.5 328.4L94.5 333L89.1 332.8L87.1 329.2ZM98.5 356L108.4 348.7L109.2 354.2ZM110.7 348.9L117.3 344.2L119.9 347.1L113.8 350.8ZM124.9 288.8L136.7 284.6L137.7 288L126.4 290.8ZM141.3 309.8L154.7 302.8L155.7 304.8L143 310.8ZM187.4 300.6L190.2 294.8L198.6 288.6L201.1 290.5L193.9 298.7L188.4 301.4ZM233.9 287.3L236.9 281.8L240.4 279.6L241.8 275.2L243.8 275.7L244.4 280.7L248.9 280.8L249.9 286.3L252.9 288.5L256.1 297.7L261.5 303.2L263.6 309.8L261.6 313.6L258.2 309.8L256.8 304.3L252.1 298.8L248.1 295.4L244.1 297.6L238.9 291.7L234.9 289.5ZM264.6 309.3L268.1 305.2L273.1 303.2L277.4 307.7L280.1 315.5L276.8 317.9L273.3 318.4L271.8 322.7L269.4 322.6L266.4 314.8ZM277.6 304.2L279.6 303.7L285.6 313L284 313.7ZM277.7 315.2L282.3 316.1L284.9 313.4L287.8 310.4L291.7 313.7L296.3 320.3L298.1 324.6L295.2 327.7L292.2 330.7L288.5 330.6L285.8 326.2L280.5 321.7ZM301.2 312.3L304.8 311.9L310 317.3L313.4 321.2L311.4 323.2L307.6 320.6L302.2 315.3ZM308.6 311.8L311.7 311.4L318.2 318.6L319.4 321.6L316.2 321L310.8 315.5ZM301.7 329.6L303.9 322.3L307.6 321.4L310.9 326.4L317 331.1L321.4 336.6L318.5 340L313.3 341.9L309.1 340.8L303 334.9ZM335.5 352.7L339.4 346.6L345.6 342.8L358 342.5L361.4 347.2L362.6 351.4L357.4 353.3L351.3 356.1L346.1 359.4L339.9 357.1L336.1 355.2ZM303.3 280.4L306.6 279.9L315.7 284.2L314.6 285.5L305.6 283.9Z" fill="#fff" stroke="#fff" stroke-width="1.0" stroke-linejoin="round" filter="url(#halo)" opacity=".95"/>
<path d="M155 98.4L159 97.6L165 101L170 104L172.6 108L171 112L167 112.4L163 111.6L160 109L158 104ZM192 106L195 107L197 111L199 108L202 110L205 107L208 109L211 102L216 101L219 105L220 111L218 115L215 117L214.6 129L211.4 129L210.6 121L207 120L203 121.6L199 120.4L197 116L194 113ZM185.4 122L188.6 121.6L191 124.4L197 123L198 126.4L195 130L191 129L187 129.6L185 126.4ZM223.4 102.6L225.8 102.6L225.8 106L223.4 106ZM121 127.6L125 126.4L128.6 129L129 134L130.6 137.6L128 137.6L126 134L122.6 132ZM139 131L143 130L145.4 134L146.6 137.6L143 138.4L140 136ZM121.4 147L126 145L129 142L134 142L138 145L136 148.4L133 150L132 153L127 153.6L123 153L120.6 150ZM149 142.6L152 141.4L154.6 136L156 132.6L158.6 133.4L159.4 136L162 138L162.6 142.6L160.6 146L156 148.4L152.6 146.6L150 144.6ZM165 136L166.6 134.6L169.4 136.6L172 140.6L172.2 143.4L169.4 144.4L166.6 142L165.4 139.4ZM166 151L171 149.6L173 148.4L177 151L178.6 155.6L175 157L172 155.6L169 157L167 154ZM181.4 147L184 146.4L187 153L185.4 155L183 152ZM190.6 149L193.4 149L194 153.6L191.4 153.6ZM198 144.4L202 143L205 145L209 142L214 143L217 146L219 151L217 153L213 151L209 153.6L206 153L203 155.6L200 153L198.6 148.4ZM218 143L221 144L223.4 151L225 154L222 155L219 150ZM145.4 164L149.4 164.4L151.4 166L149 167.6L146.2 167ZM226.6 109.6L230 108L232.6 110L232 115L229 116.4L227 114ZM230.6 104L234 104L234 106.4L230.6 106.4ZM237 107L239 107L239.4 111L237.4 111ZM251.4 87.6L253.4 87.6L253.4 93L251.4 93ZM256.2 88L258.6 88L258.6 92L256.2 92ZM270 91.6L271.4 89.6L274 89.2L276.6 90.8L277 93.6L275 95.6L272.2 95.6L270.2 94ZM274.6 109L277 108.4L276.6 113.6L274.6 113.6ZM290 91.6L292.6 91.6L292.6 94.4L290 94.4ZM286 119L288.6 117L288 123L285.4 124ZM291 119L294 116L293 123L291.4 125.6L290 124ZM296 110L300 107L302.6 110L302 115L300 117.6L297 114ZM292 107L295.4 105L295 109.6L292.6 110.4ZM311 104L315 102L317 107L318 116L315 117.6L313 113L310.6 110ZM305.6 110.4L308.4 110L308 113.6L305.6 114ZM301.4 121.6L304.6 120L309 121L310 124L307 125.6L302.6 125ZM312.6 121.6L315 121L315 125L312.6 125.6ZM320 119L323.4 115L324.6 117L322.6 123L320 123.6ZM328.6 96L331 96.4L330.6 100.4L328.4 100ZM317 131L320 128L320.6 131L318.6 135L316.6 134.4ZM307 140L310 138L315 137L316 139L313 141.6L308 143ZM228 135L232 133.6L234 137.6L233 142L229 143L227.4 139ZM224.6 149L226.6 143L229.4 144L230 152L225.4 153ZM261.4 139L264 138.4L264 147L261.4 147.6ZM265.4 147L268 143L270.6 145L271.4 153L269 155L266.6 152ZM282 148.4L284 148L283.4 152L281.6 152ZM293 165L295 160L299 157.6L302.6 159L301.4 163.6L297 167L294 167ZM278 172L279.4 167L283 164.4L285.4 166.4L284 171.6L280.6 174.4L278.4 174ZM244.6 177L246.6 176.4L247.4 183L246 185.6L244.6 183ZM291 180L294 176L298 178L301 174L305 175L308 179L313 181L317.6 184L316 189L311 191L307 190L304 194L300 193.6L298 190L294 193L291.6 192L293 186ZM321.6 195L327 189L329.6 191L324 197ZM293 210L298 203.6L301 205L300 210L305 209L301 213.6L297 215L295 218L292.4 217ZM307.6 209L313 204L315.6 206.4L310 211.6ZM301.6 223L310 215L315 215L305 224.4ZM316 219L320 217L327 218L328 221L324.4 223.6L326 226L333 227L341 227L340 229.6L333 232L326 233L318 232L313.6 229L315 225L319 223ZM349 225.6L357 224L357 226L349.6 227.6ZM359 221L367 219L373 219L372 222L368 223.6L366 227L363.6 226.4L364.4 223L359.6 222.4ZM252.6 192L255.4 191.6L255.4 201L252.6 202ZM260 251.6L267 244L268.6 245.6L261.4 252.4ZM250 254L254 239L255 239.6L252 254.4ZM236.6 248L238.6 247.6L242.6 255L240.6 256ZM236 258.4L239.4 258L239.4 262.4L236.6 262.4ZM61.4 274.4L68 273.6L69 279L62 279.6ZM72.6 278L77 275.6L80.6 278L80 285L84 289L89 292L87 296L84.6 297L89 299L91 304L90 311L85 312.4L80 311.6L77 307L78 303L75.4 298L77.4 294L73.4 288L72 282ZM89 319L92 317.2L95.4 317.6L97.4 320.4L96.6 324L93 325.6L90 324.4L88.6 322ZM78 330.4L94 325L113 317.6L107 323L102 326L101 329L96 332.4L91 332L89 328.4ZM100 355L107 349.6L108 355ZM112 348L116 345L118.6 348L115 350ZM126.6 288.4L135 285L136 288.4L128 290.4ZM143 309L153 303.6L154 305.6L144.6 310ZM189 299.6L191.4 294L197 289.6L199.4 291.6L195 298L190 300.4ZM234 289L237 284L240.6 282L242 278L244 278.4L244.6 283L249 283L250 288L253 290L256 296L261.4 301L263.4 307L261.4 310.4L258 307L256.6 302L252 297L248 294L244 296L239 293L235 291ZM265.4 311L269 307L274 305L278 309L279.4 314L276 316.4L272.6 317L271 321L268.6 321L267 316ZM278.6 305.6L280.6 305L284.6 311.6L283 312.4ZM279 317L283.4 317.6L286 315L289 312L292.6 315L295.4 319L297 323L294 326L291 329L287.4 329L285 325L281.4 323ZM302.6 313.6L306 313L309 316.4L312 320L310 322L306.6 319.6L303.4 316.4ZM310 313L313 312.4L317 317.6L318 320.4L315 320L312 316.4ZM303 331L305.4 324L309 323L312 327.6L316 330L320 335L317 338.4L312 340.4L308 339.6L304 336ZM337 354L341 348L347 344L357 341.6L360 346L361 350L356 352L350 355L345 358.4L341 358L337.4 356.4ZM305 281L308 280.4L314 283.6L313 285L307 284.4ZM270 271.6L278 274.4L277.6 275.4L269.6 272.6ZM226.6 289.6L233 280.4L234 281.2L227.6 290.2ZM222 270L236 265L241 266L228 272Z" fill="#ffff00" shape-rendering="crispEdges"/>
</g>
<defs>
<pattern id="pBlue" patternUnits="userSpaceOnUse" width="35.0" height="35.0"><rect width="35.0" height="35.0" fill="#0000c4"/><path d="M0 0h1.25v1.25h-1.25zM0 3.8h1.25v1.25h-1.25zM0 5h1.25v1.25h-1.25zM0 6.2h1.25v1.25h-1.25zM0 10h1.25v1.25h-1.25zM0 11.2h1.25v1.25h-1.25zM0 13.8h1.25v1.25h-1.25zM0 16.2h1.25v1.25h-1.25zM0 17.5h1.25v1.25h-1.25zM0 20h1.25v1.25h-1.25zM0 23.8h1.25v1.25h-1.25zM0 25h1.25v1.25h-1.25zM0 28.8h1.25v1.25h-1.25zM0 30h1.25v1.25h-1.25zM0 31.2h1.25v1.25h-1.25zM0 32.5h1.25v1.25h-1.25zM0 33.8h1.25v1.25h-1.25zM1.2 0h1.25v1.25h-1.25zM1.2 1.2h1.25v1.25h-1.25zM1.2 2.5h1.25v1.25h-1.25zM1.2 3.8h1.25v1.25h-1.25zM1.2 5h1.25v1.25h-1.25zM1.2 6.2h1.25v1.25h-1.25zM1.2 7.5h1.25v1.25h-1.25zM1.2 8.8h1.25v1.25h-1.25zM1.2 13.8h1.25v1.25h-1.25zM1.2 17.5h1.25v1.25h-1.25zM1.2 18.8h1.25v1.25h-1.25zM1.2 23.8h1.25v1.25h-1.25zM1.2 27.5h1.25v1.25h-1.25zM2.5 0h1.25v1.25h-1.25zM2.5 1.2h1.25v1.25h-1.25zM2.5 3.8h1.25v1.25h-1.25zM2.5 5h1.25v1.25h-1.25zM2.5 10h1.25v1.25h-1.25zM2.5 11.2h1.25v1.25h-1.25zM2.5 16.2h1.25v1.25h-1.25zM2.5 17.5h1.25v1.25h-1.25zM2.5 18.8h1.25v1.25h-1.25zM2.5 20h1.25v1.25h-1.25zM2.5 25h1.25v1.25h-1.25zM2.5 26.2h1.25v1.25h-1.25zM2.5 33.8h1.25v1.25h-1.25zM3.8 3.8h1.25v1.25h-1.25zM3.8 5h1.25v1.25h-1.25zM3.8 8.8h1.25v1.25h-1.25zM3.8 18.8h1.25v1.25h-1.25zM3.8 20h1.25v1.25h-1.25zM3.8 23.8h1.25v1.25h-1.25zM3.8 26.2h1.25v1.25h-1.25zM3.8 27.5h1.25v1.25h-1.25zM3.8 28.8h1.25v1.25h-1.25zM3.8 33.8h1.25v1.25h-1.25zM5 0h1.25v1.25h-1.25zM5 1.2h1.25v1.25h-1.25zM5 2.5h1.25v1.25h-1.25zM5 10h1.25v1.25h-1.25zM5 13.8h1.25v1.25h-1.25zM5 15h1.25v1.25h-1.25zM5 16.2h1.25v1.25h-1.25zM5 18.8h1.25v1.25h-1.25zM5 20h1.25v1.25h-1.25zM5 22.5h1.25v1.25h-1.25zM5 23.8h1.25v1.25h-1.25zM5 25h1.25v1.25h-1.25zM5 27.5h1.25v1.25h-1.25zM5 28.8h1.25v1.25h-1.25zM5 31.2h1.25v1.25h-1.25zM5 32.5h1.25v1.25h-1.25zM5 33.8h1.25v1.25h-1.25zM6.2 0h1.25v1.25h-1.25zM6.2 1.2h1.25v1.25h-1.25zM6.2 2.5h1.25v1.25h-1.25zM6.2 3.8h1.25v1.25h-1.25zM6.2 5h1.25v1.25h-1.25zM6.2 8.8h1.25v1.25h-1.25zM6.2 12.5h1.25v1.25h-1.25zM6.2 13.8h1.25v1.25h-1.25zM6.2 15h1.25v1.25h-1.25zM6.2 17.5h1.25v1.25h-1.25zM6.2 22.5h1.25v1.25h-1.25zM6.2 27.5h1.25v1.25h-1.25zM6.2 30h1.25v1.25h-1.25zM6.2 32.5h1.25v1.25h-1.25zM7.5 0h1.25v1.25h-1.25zM7.5 1.2h1.25v1.25h-1.25zM7.5 5h1.25v1.25h-1.25zM7.5 7.5h1.25v1.25h-1.25zM7.5 11.2h1.25v1.25h-1.25zM7.5 12.5h1.25v1.25h-1.25zM7.5 13.8h1.25v1.25h-1.25zM7.5 16.2h1.25v1.25h-1.25zM7.5 21.2h1.25v1.25h-1.25zM7.5 27.5h1.25v1.25h-1.25zM7.5 28.8h1.25v1.25h-1.25zM7.5 30h1.25v1.25h-1.25zM7.5 32.5h1.25v1.25h-1.25zM7.5 33.8h1.25v1.25h-1.25zM8.8 0h1.25v1.25h-1.25zM8.8 2.5h1.25v1.25h-1.25zM8.8 3.8h1.25v1.25h-1.25zM8.8 5h1.25v1.25h-1.25zM8.8 8.8h1.25v1.25h-1.25zM8.8 10h1.25v1.25h-1.25zM8.8 11.2h1.25v1.25h-1.25zM8.8 15h1.25v1.25h-1.25zM8.8 16.2h1.25v1.25h-1.25zM8.8 21.2h1.25v1.25h-1.25zM8.8 25h1.25v1.25h-1.25zM8.8 27.5h1.25v1.25h-1.25zM8.8 30h1.25v1.25h-1.25zM8.8 31.2h1.25v1.25h-1.25zM8.8 33.8h1.25v1.25h-1.25zM10 3.8h1.25v1.25h-1.25zM10 5h1.25v1.25h-1.25zM10 6.2h1.25v1.25h-1.25zM10 12.5h1.25v1.25h-1.25zM10 15h1.25v1.25h-1.25zM10 16.2h1.25v1.25h-1.25zM10 17.5h1.25v1.25h-1.25zM10 22.5h1.25v1.25h-1.25zM10 26.2h1.25v1.25h-1.25zM10 28.8h1.25v1.25h-1.25zM10 30h1.25v1.25h-1.25zM10 31.2h1.25v1.25h-1.25zM11.2 1.2h1.25v1.25h-1.25zM11.2 2.5h1.25v1.25h-1.25zM11.2 6.2h1.25v1.25h-1.25zM11.2 8.8h1.25v1.25h-1.25zM11.2 10h1.25v1.25h-1.25zM11.2 12.5h1.25v1.25h-1.25zM11.2 13.8h1.25v1.25h-1.25zM11.2 16.2h1.25v1.25h-1.25zM11.2 17.5h1.25v1.25h-1.25zM11.2 18.8h1.25v1.25h-1.25zM11.2 20h1.25v1.25h-1.25zM11.2 22.5h1.25v1.25h-1.25zM11.2 25h1.25v1.25h-1.25zM11.2 28.8h1.25v1.25h-1.25zM11.2 30h1.25v1.25h-1.25zM11.2 31.2h1.25v1.25h-1.25zM11.2 32.5h1.25v1.25h-1.25zM12.5 0h1.25v1.25h-1.25zM12.5 1.2h1.25v1.25h-1.25zM12.5 3.8h1.25v1.25h-1.25zM12.5 6.2h1.25v1.25h-1.25zM12.5 7.5h1.25v1.25h-1.25zM12.5 8.8h1.25v1.25h-1.25zM12.5 13.8h1.25v1.25h-1.25zM12.5 15h1.25v1.25h-1.25zM12.5 22.5h1.25v1.25h-1.25zM12.5 25h1.25v1.25h-1.25zM12.5 26.2h1.25v1.25h-1.25zM12.5 27.5h1.25v1.25h-1.25zM12.5 28.8h1.25v1.25h-1.25zM12.5 31.2h1.25v1.25h-1.25zM13.8 1.2h1.25v1.25h-1.25zM13.8 2.5h1.25v1.25h-1.25zM13.8 3.8h1.25v1.25h-1.25zM13.8 5h1.25v1.25h-1.25zM13.8 8.8h1.25v1.25h-1.25zM13.8 10h1.25v1.25h-1.25zM13.8 15h1.25v1.25h-1.25zM13.8 16.2h1.25v1.25h-1.25zM13.8 17.5h1.25v1.25h-1.25zM13.8 18.8h1.25v1.25h-1.25zM13.8 21.2h1.25v1.25h-1.25zM13.8 22.5h1.25v1.25h-1.25zM13.8 25h1.25v1.25h-1.25zM13.8 27.5h1.25v1.25h-1.25zM13.8 30h1.25v1.25h-1.25zM13.8 33.8h1.25v1.25h-1.25zM15 1.2h1.25v1.25h-1.25zM15 6.2h1.25v1.25h-1.25zM15 7.5h1.25v1.25h-1.25zM15 11.2h1.25v1.25h-1.25zM15 13.8h1.25v1.25h-1.25zM15 16.2h1.25v1.25h-1.25zM15 17.5h1.25v1.25h-1.25zM15 26.2h1.25v1.25h-1.25zM15 27.5h1.25v1.25h-1.25zM15 28.8h1.25v1.25h-1.25zM15 32.5h1.25v1.25h-1.25zM15 33.8h1.25v1.25h-1.25zM16.2 6.2h1.25v1.25h-1.25zM16.2 7.5h1.25v1.25h-1.25zM16.2 8.8h1.25v1.25h-1.25zM16.2 10h1.25v1.25h-1.25zM16.2 11.2h1.25v1.25h-1.25zM16.2 13.8h1.25v1.25h-1.25zM16.2 16.2h1.25v1.25h-1.25zM16.2 17.5h1.25v1.25h-1.25zM16.2 18.8h1.25v1.25h-1.25zM16.2 20h1.25v1.25h-1.25zM16.2 21.2h1.25v1.25h-1.25zM16.2 23.8h1.25v1.25h-1.25zM16.2 25h1.25v1.25h-1.25zM16.2 27.5h1.25v1.25h-1.25zM16.2 28.8h1.25v1.25h-1.25zM16.2 33.8h1.25v1.25h-1.25zM17.5 2.5h1.25v1.25h-1.25zM17.5 3.8h1.25v1.25h-1.25zM17.5 5h1.25v1.25h-1.25zM17.5 6.2h1.25v1.25h-1.25zM17.5 7.5h1.25v1.25h-1.25zM17.5 12.5h1.25v1.25h-1.25zM17.5 15h1.25v1.25h-1.25zM17.5 16.2h1.25v1.25h-1.25zM17.5 20h1.25v1.25h-1.25zM17.5 23.8h1.25v1.25h-1.25zM17.5 27.5h1.25v1.25h-1.25zM18.8 2.5h1.25v1.25h-1.25zM18.8 3.8h1.25v1.25h-1.25zM18.8 5h1.25v1.25h-1.25zM18.8 8.8h1.25v1.25h-1.25zM18.8 12.5h1.25v1.25h-1.25zM18.8 15h1.25v1.25h-1.25zM18.8 17.5h1.25v1.25h-1.25zM18.8 22.5h1.25v1.25h-1.25zM18.8 26.2h1.25v1.25h-1.25zM18.8 32.5h1.25v1.25h-1.25zM20 1.2h1.25v1.25h-1.25zM20 3.8h1.25v1.25h-1.25zM20 5h1.25v1.25h-1.25zM20 6.2h1.25v1.25h-1.25zM20 7.5h1.25v1.25h-1.25zM20 11.2h1.25v1.25h-1.25zM20 13.8h1.25v1.25h-1.25zM20 15h1.25v1.25h-1.25zM20 16.2h1.25v1.25h-1.25zM20 17.5h1.25v1.25h-1.25zM20 20h1.25v1.25h-1.25zM20 21.2h1.25v1.25h-1.25zM20 22.5h1.25v1.25h-1.25zM20 23.8h1.25v1.25h-1.25zM20 28.8h1.25v1.25h-1.25zM20 30h1.25v1.25h-1.25zM20 32.5h1.25v1.25h-1.25zM21.2 0h1.25v1.25h-1.25zM21.2 7.5h1.25v1.25h-1.25zM21.2 12.5h1.25v1.25h-1.25zM21.2 13.8h1.25v1.25h-1.25zM21.2 15h1.25v1.25h-1.25zM21.2 17.5h1.25v1.25h-1.25zM21.2 25h1.25v1.25h-1.25zM21.2 28.8h1.25v1.25h-1.25zM21.2 31.2h1.25v1.25h-1.25zM21.2 33.8h1.25v1.25h-1.25zM22.5 0h1.25v1.25h-1.25zM22.5 1.2h1.25v1.25h-1.25zM22.5 2.5h1.25v1.25h-1.25zM22.5 3.8h1.25v1.25h-1.25zM22.5 7.5h1.25v1.25h-1.25zM22.5 10h1.25v1.25h-1.25zM22.5 11.2h1.25v1.25h-1.25zM22.5 12.5h1.25v1.25h-1.25zM22.5 13.8h1.25v1.25h-1.25zM22.5 21.2h1.25v1.25h-1.25zM22.5 23.8h1.25v1.25h-1.25zM22.5 27.5h1.25v1.25h-1.25zM22.5 28.8h1.25v1.25h-1.25zM22.5 32.5h1.25v1.25h-1.25zM22.5 33.8h1.25v1.25h-1.25zM23.8 0h1.25v1.25h-1.25zM23.8 1.2h1.25v1.25h-1.25zM23.8 2.5h1.25v1.25h-1.25zM23.8 10h1.25v1.25h-1.25zM23.8 16.2h1.25v1.25h-1.25zM23.8 27.5h1.25v1.25h-1.25zM23.8 28.8h1.25v1.25h-1.25zM23.8 33.8h1.25v1.25h-1.25zM25 1.2h1.25v1.25h-1.25zM25 2.5h1.25v1.25h-1.25zM25 3.8h1.25v1.25h-1.25zM25 7.5h1.25v1.25h-1.25zM25 8.8h1.25v1.25h-1.25zM25 11.2h1.25v1.25h-1.25zM25 16.2h1.25v1.25h-1.25zM25 20h1.25v1.25h-1.25zM25 21.2h1.25v1.25h-1.25zM25 23.8h1.25v1.25h-1.25zM25 25h1.25v1.25h-1.25zM25 28.8h1.25v1.25h-1.25zM25 32.5h1.25v1.25h-1.25zM26.2 2.5h1.25v1.25h-1.25zM26.2 5h1.25v1.25h-1.25zM26.2 7.5h1.25v1.25h-1.25zM26.2 11.2h1.25v1.25h-1.25zM26.2 12.5h1.25v1.25h-1.25zM26.2 17.5h1.25v1.25h-1.25zM26.2 21.2h1.25v1.25h-1.25zM26.2 22.5h1.25v1.25h-1.25zM26.2 26.2h1.25v1.25h-1.25zM26.2 28.8h1.25v1.25h-1.25zM26.2 31.2h1.25v1.25h-1.25zM27.5 1.2h1.25v1.25h-1.25zM27.5 3.8h1.25v1.25h-1.25zM27.5 5h1.25v1.25h-1.25zM27.5 7.5h1.25v1.25h-1.25zM27.5 10h1.25v1.25h-1.25zM27.5 13.8h1.25v1.25h-1.25zM27.5 15h1.25v1.25h-1.25zM27.5 16.2h1.25v1.25h-1.25zM27.5 17.5h1.25v1.25h-1.25zM27.5 18.8h1.25v1.25h-1.25zM27.5 20h1.25v1.25h-1.25zM27.5 21.2h1.25v1.25h-1.25zM27.5 25h1.25v1.25h-1.25zM27.5 26.2h1.25v1.25h-1.25zM27.5 32.5h1.25v1.25h-1.25zM28.8 0h1.25v1.25h-1.25zM28.8 2.5h1.25v1.25h-1.25zM28.8 3.8h1.25v1.25h-1.25zM28.8 5h1.25v1.25h-1.25zM28.8 6.2h1.25v1.25h-1.25zM28.8 7.5h1.25v1.25h-1.25zM28.8 8.8h1.25v1.25h-1.25zM28.8 11.2h1.25v1.25h-1.25zM28.8 13.8h1.25v1.25h-1.25zM28.8 16.2h1.25v1.25h-1.25zM28.8 21.2h1.25v1.25h-1.25zM28.8 25h1.25v1.25h-1.25zM28.8 26.2h1.25v1.25h-1.25zM28.8 30h1.25v1.25h-1.25zM28.8 33.8h1.25v1.25h-1.25zM30 1.2h1.25v1.25h-1.25zM30 2.5h1.25v1.25h-1.25zM30 5h1.25v1.25h-1.25zM30 6.2h1.25v1.25h-1.25zM30 7.5h1.25v1.25h-1.25zM30 8.8h1.25v1.25h-1.25zM30 12.5h1.25v1.25h-1.25zM30 13.8h1.25v1.25h-1.25zM30 16.2h1.25v1.25h-1.25zM30 17.5h1.25v1.25h-1.25zM30 18.8h1.25v1.25h-1.25zM30 20h1.25v1.25h-1.25zM30 21.2h1.25v1.25h-1.25zM30 28.8h1.25v1.25h-1.25zM30 33.8h1.25v1.25h-1.25zM31.2 0h1.25v1.25h-1.25zM31.2 3.8h1.25v1.25h-1.25zM31.2 8.8h1.25v1.25h-1.25zM31.2 10h1.25v1.25h-1.25zM31.2 11.2h1.25v1.25h-1.25zM31.2 12.5h1.25v1.25h-1.25zM31.2 15h1.25v1.25h-1.25zM31.2 22.5h1.25v1.25h-1.25zM31.2 25h1.25v1.25h-1.25zM31.2 30h1.25v1.25h-1.25zM31.2 31.2h1.25v1.25h-1.25zM31.2 33.8h1.25v1.25h-1.25zM32.5 0h1.25v1.25h-1.25zM32.5 2.5h1.25v1.25h-1.25zM32.5 5h1.25v1.25h-1.25zM32.5 6.2h1.25v1.25h-1.25zM32.5 7.5h1.25v1.25h-1.25zM32.5 11.2h1.25v1.25h-1.25zM32.5 13.8h1.25v1.25h-1.25zM32.5 16.2h1.25v1.25h-1.25zM32.5 17.5h1.25v1.25h-1.25zM32.5 18.8h1.25v1.25h-1.25zM32.5 21.2h1.25v1.25h-1.25zM32.5 22.5h1.25v1.25h-1.25zM32.5 27.5h1.25v1.25h-1.25zM32.5 28.8h1.25v1.25h-1.25zM32.5 30h1.25v1.25h-1.25zM32.5 32.5h1.25v1.25h-1.25zM32.5 33.8h1.25v1.25h-1.25zM33.8 3.8h1.25v1.25h-1.25zM33.8 6.2h1.25v1.25h-1.25zM33.8 16.2h1.25v1.25h-1.25zM33.8 17.5h1.25v1.25h-1.25zM33.8 18.8h1.25v1.25h-1.25zM33.8 21.2h1.25v1.25h-1.25zM33.8 22.5h1.25v1.25h-1.25zM33.8 25h1.25v1.25h-1.25zM33.8 28.8h1.25v1.25h-1.25zM33.8 30h1.25v1.25h-1.25zM33.8 31.2h1.25v1.25h-1.25zM33.8 32.5h1.25v1.25h-1.25z" fill="#00007c"/><path d="M1.2 32.5h1.25v1.25h-1.25zM2.5 12.5h1.25v1.25h-1.25zM2.5 15h1.25v1.25h-1.25zM2.5 27.5h1.25v1.25h-1.25zM2.5 31.2h1.25v1.25h-1.25zM3.8 0h1.25v1.25h-1.25zM3.8 16.2h1.25v1.25h-1.25zM3.8 25h1.25v1.25h-1.25zM3.8 30h1.25v1.25h-1.25zM5 26.2h1.25v1.25h-1.25zM6.2 7.5h1.25v1.25h-1.25zM6.2 26.2h1.25v1.25h-1.25zM7.5 26.2h1.25v1.25h-1.25zM13.8 31.2h1.25v1.25h-1.25zM15 8.8h1.25v1.25h-1.25zM16.2 30h1.25v1.25h-1.25zM16.2 31.2h1.25v1.25h-1.25zM17.5 17.5h1.25v1.25h-1.25zM18.8 13.8h1.25v1.25h-1.25zM21.2 26.2h1.25v1.25h-1.25zM21.2 30h1.25v1.25h-1.25zM21.2 32.5h1.25v1.25h-1.25zM22.5 18.8h1.25v1.25h-1.25zM22.5 31.2h1.25v1.25h-1.25zM25 5h1.25v1.25h-1.25zM25 12.5h1.25v1.25h-1.25zM25 27.5h1.25v1.25h-1.25zM25 30h1.25v1.25h-1.25zM27.5 2.5h1.25v1.25h-1.25zM31.2 7.5h1.25v1.25h-1.25zM32.5 3.8h1.25v1.25h-1.25zM32.5 12.5h1.25v1.25h-1.25zM33.8 12.5h1.25v1.25h-1.25zM33.8 20h1.25v1.25h-1.25z" fill="#ff1c00"/></pattern>
<pattern id="pNavy" patternUnits="userSpaceOnUse" width="35.0" height="35.0"><rect width="35.0" height="35.0" fill="#00007c"/><path d="M0 2.5h1.25v1.25h-1.25zM0 3.8h1.25v1.25h-1.25zM0 13.8h1.25v1.25h-1.25zM0 25h1.25v1.25h-1.25zM0 26.2h1.25v1.25h-1.25zM1.2 1.2h1.25v1.25h-1.25zM1.2 3.8h1.25v1.25h-1.25zM1.2 8.8h1.25v1.25h-1.25zM1.2 21.2h1.25v1.25h-1.25zM2.5 11.2h1.25v1.25h-1.25zM2.5 26.2h1.25v1.25h-1.25zM2.5 31.2h1.25v1.25h-1.25zM3.8 1.2h1.25v1.25h-1.25zM3.8 3.8h1.25v1.25h-1.25zM3.8 10h1.25v1.25h-1.25zM3.8 15h1.25v1.25h-1.25zM3.8 20h1.25v1.25h-1.25zM3.8 22.5h1.25v1.25h-1.25zM3.8 25h1.25v1.25h-1.25zM3.8 27.5h1.25v1.25h-1.25zM3.8 30h1.25v1.25h-1.25zM3.8 33.8h1.25v1.25h-1.25zM5 0h1.25v1.25h-1.25zM5 3.8h1.25v1.25h-1.25zM5 6.2h1.25v1.25h-1.25zM5 7.5h1.25v1.25h-1.25zM5 12.5h1.25v1.25h-1.25zM5 15h1.25v1.25h-1.25zM5 30h1.25v1.25h-1.25zM5 33.8h1.25v1.25h-1.25zM6.2 3.8h1.25v1.25h-1.25zM6.2 10h1.25v1.25h-1.25zM6.2 12.5h1.25v1.25h-1.25zM6.2 13.8h1.25v1.25h-1.25zM6.2 15h1.25v1.25h-1.25zM6.2 16.2h1.25v1.25h-1.25zM6.2 17.5h1.25v1.25h-1.25zM7.5 2.5h1.25v1.25h-1.25zM7.5 3.8h1.25v1.25h-1.25zM7.5 6.2h1.25v1.25h-1.25zM7.5 10h1.25v1.25h-1.25zM7.5 11.2h1.25v1.25h-1.25zM7.5 13.8h1.25v1.25h-1.25zM7.5 20h1.25v1.25h-1.25zM7.5 28.8h1.25v1.25h-1.25zM7.5 32.5h1.25v1.25h-1.25zM7.5 33.8h1.25v1.25h-1.25zM8.8 10h1.25v1.25h-1.25zM8.8 12.5h1.25v1.25h-1.25zM8.8 17.5h1.25v1.25h-1.25zM8.8 22.5h1.25v1.25h-1.25zM8.8 25h1.25v1.25h-1.25zM8.8 30h1.25v1.25h-1.25zM8.8 32.5h1.25v1.25h-1.25zM10 5h1.25v1.25h-1.25zM10 6.2h1.25v1.25h-1.25zM10 7.5h1.25v1.25h-1.25zM10 13.8h1.25v1.25h-1.25zM11.2 8.8h1.25v1.25h-1.25zM11.2 12.5h1.25v1.25h-1.25zM11.2 15h1.25v1.25h-1.25zM11.2 16.2h1.25v1.25h-1.25zM11.2 21.2h1.25v1.25h-1.25zM11.2 30h1.25v1.25h-1.25zM12.5 0h1.25v1.25h-1.25zM12.5 13.8h1.25v1.25h-1.25zM12.5 16.2h1.25v1.25h-1.25zM12.5 20h1.25v1.25h-1.25zM13.8 10h1.25v1.25h-1.25zM13.8 17.5h1.25v1.25h-1.25zM13.8 25h1.25v1.25h-1.25zM13.8 28.8h1.25v1.25h-1.25zM13.8 32.5h1.25v1.25h-1.25zM15 0h1.25v1.25h-1.25zM15 7.5h1.25v1.25h-1.25zM15 10h1.25v1.25h-1.25zM15 11.2h1.25v1.25h-1.25zM15 23.8h1.25v1.25h-1.25zM15 25h1.25v1.25h-1.25zM15 27.5h1.25v1.25h-1.25zM16.2 1.2h1.25v1.25h-1.25zM16.2 2.5h1.25v1.25h-1.25zM16.2 7.5h1.25v1.25h-1.25zM16.2 23.8h1.25v1.25h-1.25zM16.2 33.8h1.25v1.25h-1.25zM17.5 15h1.25v1.25h-1.25zM17.5 21.2h1.25v1.25h-1.25zM17.5 23.8h1.25v1.25h-1.25zM18.8 0h1.25v1.25h-1.25zM18.8 2.5h1.25v1.25h-1.25zM20 1.2h1.25v1.25h-1.25zM20 7.5h1.25v1.25h-1.25zM20 10h1.25v1.25h-1.25zM20 11.2h1.25v1.25h-1.25zM20 27.5h1.25v1.25h-1.25zM20 31.2h1.25v1.25h-1.25zM20 32.5h1.25v1.25h-1.25zM20 33.8h1.25v1.25h-1.25zM21.2 12.5h1.25v1.25h-1.25zM21.2 13.8h1.25v1.25h-1.25zM21.2 18.8h1.25v1.25h-1.25zM22.5 11.2h1.25v1.25h-1.25zM22.5 12.5h1.25v1.25h-1.25zM22.5 15h1.25v1.25h-1.25zM22.5 20h1.25v1.25h-1.25zM22.5 23.8h1.25v1.25h-1.25zM22.5 25h1.25v1.25h-1.25zM22.5 27.5h1.25v1.25h-1.25zM22.5 28.8h1.25v1.25h-1.25zM22.5 31.2h1.25v1.25h-1.25zM23.8 0h1.25v1.25h-1.25zM23.8 6.2h1.25v1.25h-1.25zM23.8 8.8h1.25v1.25h-1.25zM23.8 10h1.25v1.25h-1.25zM23.8 17.5h1.25v1.25h-1.25zM23.8 20h1.25v1.25h-1.25zM23.8 21.2h1.25v1.25h-1.25zM23.8 22.5h1.25v1.25h-1.25zM23.8 23.8h1.25v1.25h-1.25zM23.8 25h1.25v1.25h-1.25zM23.8 26.2h1.25v1.25h-1.25zM25 1.2h1.25v1.25h-1.25zM25 2.5h1.25v1.25h-1.25zM25 6.2h1.25v1.25h-1.25zM25 27.5h1.25v1.25h-1.25zM25 30h1.25v1.25h-1.25zM25 31.2h1.25v1.25h-1.25zM26.2 5h1.25v1.25h-1.25zM26.2 11.2h1.25v1.25h-1.25zM26.2 12.5h1.25v1.25h-1.25zM26.2 13.8h1.25v1.25h-1.25zM26.2 17.5h1.25v1.25h-1.25zM26.2 25h1.25v1.25h-1.25zM27.5 3.8h1.25v1.25h-1.25zM27.5 8.8h1.25v1.25h-1.25zM27.5 16.2h1.25v1.25h-1.25zM27.5 27.5h1.25v1.25h-1.25zM27.5 30h1.25v1.25h-1.25zM28.8 0h1.25v1.25h-1.25zM28.8 11.2h1.25v1.25h-1.25zM28.8 15h1.25v1.25h-1.25zM28.8 17.5h1.25v1.25h-1.25zM28.8 28.8h1.25v1.25h-1.25zM28.8 31.2h1.25v1.25h-1.25zM28.8 32.5h1.25v1.25h-1.25zM30 1.2h1.25v1.25h-1.25zM30 10h1.25v1.25h-1.25zM30 15h1.25v1.25h-1.25zM30 23.8h1.25v1.25h-1.25zM30 25h1.25v1.25h-1.25zM30 27.5h1.25v1.25h-1.25zM31.2 2.5h1.25v1.25h-1.25zM31.2 7.5h1.25v1.25h-1.25zM31.2 11.2h1.25v1.25h-1.25zM31.2 16.2h1.25v1.25h-1.25zM31.2 26.2h1.25v1.25h-1.25zM31.2 28.8h1.25v1.25h-1.25zM31.2 30h1.25v1.25h-1.25zM32.5 2.5h1.25v1.25h-1.25zM32.5 5h1.25v1.25h-1.25zM32.5 8.8h1.25v1.25h-1.25zM32.5 20h1.25v1.25h-1.25zM32.5 31.2h1.25v1.25h-1.25zM33.8 0h1.25v1.25h-1.25zM33.8 6.2h1.25v1.25h-1.25zM33.8 13.8h1.25v1.25h-1.25zM33.8 15h1.25v1.25h-1.25zM33.8 23.8h1.25v1.25h-1.25zM33.8 31.2h1.25v1.25h-1.25zM33.8 33.8h1.25v1.25h-1.25z" fill="#ff1c00"/><path d="M1.2 0h1.25v1.25h-1.25zM2.5 7.5h1.25v1.25h-1.25zM3.8 7.5h1.25v1.25h-1.25zM3.8 13.8h1.25v1.25h-1.25zM5 26.2h1.25v1.25h-1.25zM6.2 25h1.25v1.25h-1.25zM7.5 8.8h1.25v1.25h-1.25zM7.5 12.5h1.25v1.25h-1.25zM10 33.8h1.25v1.25h-1.25zM11.2 23.8h1.25v1.25h-1.25zM13.8 2.5h1.25v1.25h-1.25zM17.5 8.8h1.25v1.25h-1.25zM17.5 11.2h1.25v1.25h-1.25zM18.8 1.2h1.25v1.25h-1.25zM18.8 8.8h1.25v1.25h-1.25zM20 21.2h1.25v1.25h-1.25zM21.2 6.2h1.25v1.25h-1.25zM23.8 2.5h1.25v1.25h-1.25zM25 22.5h1.25v1.25h-1.25zM28.8 3.8h1.25v1.25h-1.25zM30 22.5h1.25v1.25h-1.25zM31.2 3.8h1.25v1.25h-1.25zM31.2 25h1.25v1.25h-1.25z" fill="#fff"/><path d="M0 8.8h1.25v1.25h-1.25zM0 23.8h1.25v1.25h-1.25zM0 28.8h1.25v1.25h-1.25zM1.2 2.5h1.25v1.25h-1.25zM2.5 8.8h1.25v1.25h-1.25zM2.5 13.8h1.25v1.25h-1.25zM2.5 16.2h1.25v1.25h-1.25zM2.5 25h1.25v1.25h-1.25zM3.8 6.2h1.25v1.25h-1.25zM3.8 31.2h1.25v1.25h-1.25zM5 8.8h1.25v1.25h-1.25zM5 13.8h1.25v1.25h-1.25zM5 28.8h1.25v1.25h-1.25zM6.2 6.2h1.25v1.25h-1.25zM6.2 27.5h1.25v1.25h-1.25zM6.2 33.8h1.25v1.25h-1.25zM7.5 17.5h1.25v1.25h-1.25zM8.8 6.2h1.25v1.25h-1.25zM8.8 13.8h1.25v1.25h-1.25zM8.8 26.2h1.25v1.25h-1.25zM10 23.8h1.25v1.25h-1.25zM10 32.5h1.25v1.25h-1.25zM11.2 1.2h1.25v1.25h-1.25zM11.2 22.5h1.25v1.25h-1.25zM12.5 3.8h1.25v1.25h-1.25zM12.5 31.2h1.25v1.25h-1.25zM15 3.8h1.25v1.25h-1.25zM15 20h1.25v1.25h-1.25zM15 21.2h1.25v1.25h-1.25zM16.2 6.2h1.25v1.25h-1.25zM16.2 17.5h1.25v1.25h-1.25zM16.2 26.2h1.25v1.25h-1.25zM17.5 7.5h1.25v1.25h-1.25zM17.5 12.5h1.25v1.25h-1.25zM17.5 20h1.25v1.25h-1.25zM17.5 26.2h1.25v1.25h-1.25zM17.5 33.8h1.25v1.25h-1.25zM18.8 15h1.25v1.25h-1.25zM18.8 30h1.25v1.25h-1.25zM20 25h1.25v1.25h-1.25zM20 28.8h1.25v1.25h-1.25zM21.2 0h1.25v1.25h-1.25zM21.2 2.5h1.25v1.25h-1.25zM21.2 3.8h1.25v1.25h-1.25zM21.2 5h1.25v1.25h-1.25zM21.2 8.8h1.25v1.25h-1.25zM21.2 22.5h1.25v1.25h-1.25zM21.2 32.5h1.25v1.25h-1.25zM22.5 21.2h1.25v1.25h-1.25zM25 8.8h1.25v1.25h-1.25zM25 18.8h1.25v1.25h-1.25zM26.2 23.8h1.25v1.25h-1.25zM26.2 28.8h1.25v1.25h-1.25zM27.5 6.2h1.25v1.25h-1.25zM27.5 10h1.25v1.25h-1.25zM27.5 26.2h1.25v1.25h-1.25zM27.5 33.8h1.25v1.25h-1.25zM28.8 10h1.25v1.25h-1.25zM28.8 13.8h1.25v1.25h-1.25zM28.8 18.8h1.25v1.25h-1.25zM28.8 20h1.25v1.25h-1.25zM28.8 21.2h1.25v1.25h-1.25zM28.8 23.8h1.25v1.25h-1.25zM30 11.2h1.25v1.25h-1.25zM31.2 31.2h1.25v1.25h-1.25zM32.5 10h1.25v1.25h-1.25zM32.5 16.2h1.25v1.25h-1.25zM32.5 32.5h1.25v1.25h-1.25zM33.8 21.2h1.25v1.25h-1.25zM33.8 25h1.25v1.25h-1.25z" fill="#0000c4"/></pattern>
<pattern id="pMix" patternUnits="userSpaceOnUse" width="35.0" height="35.0"><rect width="35.0" height="35.0" fill="#00007c"/><path d="M0 0h1.25v1.25h-1.25zM0 2.5h1.25v1.25h-1.25zM0 6.2h1.25v1.25h-1.25zM0 7.5h1.25v1.25h-1.25zM0 10h1.25v1.25h-1.25zM0 11.2h1.25v1.25h-1.25zM0 13.8h1.25v1.25h-1.25zM0 16.2h1.25v1.25h-1.25zM0 18.8h1.25v1.25h-1.25zM0 26.2h1.25v1.25h-1.25zM0 30h1.25v1.25h-1.25zM0 31.2h1.25v1.25h-1.25zM0 33.8h1.25v1.25h-1.25zM1.2 5h1.25v1.25h-1.25zM1.2 7.5h1.25v1.25h-1.25zM1.2 11.2h1.25v1.25h-1.25zM1.2 12.5h1.25v1.25h-1.25zM1.2 13.8h1.25v1.25h-1.25zM1.2 16.2h1.25v1.25h-1.25zM1.2 18.8h1.25v1.25h-1.25zM1.2 21.2h1.25v1.25h-1.25zM1.2 22.5h1.25v1.25h-1.25zM1.2 33.8h1.25v1.25h-1.25zM2.5 6.2h1.25v1.25h-1.25zM2.5 10h1.25v1.25h-1.25zM2.5 11.2h1.25v1.25h-1.25zM2.5 15h1.25v1.25h-1.25zM2.5 17.5h1.25v1.25h-1.25zM2.5 18.8h1.25v1.25h-1.25zM2.5 20h1.25v1.25h-1.25zM2.5 23.8h1.25v1.25h-1.25zM2.5 26.2h1.25v1.25h-1.25zM2.5 28.8h1.25v1.25h-1.25zM3.8 0h1.25v1.25h-1.25zM3.8 1.2h1.25v1.25h-1.25zM3.8 3.8h1.25v1.25h-1.25zM3.8 5h1.25v1.25h-1.25zM3.8 6.2h1.25v1.25h-1.25zM3.8 8.8h1.25v1.25h-1.25zM3.8 10h1.25v1.25h-1.25zM3.8 12.5h1.25v1.25h-1.25zM3.8 16.2h1.25v1.25h-1.25zM3.8 17.5h1.25v1.25h-1.25zM3.8 27.5h1.25v1.25h-1.25zM3.8 30h1.25v1.25h-1.25zM3.8 31.2h1.25v1.25h-1.25zM5 1.2h1.25v1.25h-1.25zM5 2.5h1.25v1.25h-1.25zM5 5h1.25v1.25h-1.25zM5 8.8h1.25v1.25h-1.25zM5 11.2h1.25v1.25h-1.25zM5 13.8h1.25v1.25h-1.25zM5 17.5h1.25v1.25h-1.25zM5 18.8h1.25v1.25h-1.25zM5 22.5h1.25v1.25h-1.25zM5 23.8h1.25v1.25h-1.25zM5 26.2h1.25v1.25h-1.25zM5 27.5h1.25v1.25h-1.25zM5 28.8h1.25v1.25h-1.25zM5 30h1.25v1.25h-1.25zM5 32.5h1.25v1.25h-1.25zM5 33.8h1.25v1.25h-1.25zM6.2 1.2h1.25v1.25h-1.25zM6.2 5h1.25v1.25h-1.25zM6.2 6.2h1.25v1.25h-1.25zM6.2 8.8h1.25v1.25h-1.25zM6.2 10h1.25v1.25h-1.25zM6.2 11.2h1.25v1.25h-1.25zM6.2 13.8h1.25v1.25h-1.25zM6.2 15h1.25v1.25h-1.25zM6.2 16.2h1.25v1.25h-1.25zM6.2 18.8h1.25v1.25h-1.25zM6.2 21.2h1.25v1.25h-1.25zM6.2 22.5h1.25v1.25h-1.25zM6.2 26.2h1.25v1.25h-1.25zM6.2 27.5h1.25v1.25h-1.25zM6.2 28.8h1.25v1.25h-1.25zM6.2 31.2h1.25v1.25h-1.25zM7.5 0h1.25v1.25h-1.25zM7.5 1.2h1.25v1.25h-1.25zM7.5 6.2h1.25v1.25h-1.25zM7.5 7.5h1.25v1.25h-1.25zM7.5 8.8h1.25v1.25h-1.25zM7.5 11.2h1.25v1.25h-1.25zM7.5 12.5h1.25v1.25h-1.25zM7.5 13.8h1.25v1.25h-1.25zM7.5 15h1.25v1.25h-1.25zM7.5 16.2h1.25v1.25h-1.25zM7.5 18.8h1.25v1.25h-1.25zM7.5 20h1.25v1.25h-1.25zM7.5 25h1.25v1.25h-1.25zM7.5 28.8h1.25v1.25h-1.25zM8.8 0h1.25v1.25h-1.25zM8.8 1.2h1.25v1.25h-1.25zM8.8 2.5h1.25v1.25h-1.25zM8.8 3.8h1.25v1.25h-1.25zM8.8 6.2h1.25v1.25h-1.25zM8.8 8.8h1.25v1.25h-1.25zM8.8 17.5h1.25v1.25h-1.25zM8.8 20h1.25v1.25h-1.25zM8.8 21.2h1.25v1.25h-1.25zM8.8 25h1.25v1.25h-1.25zM8.8 28.8h1.25v1.25h-1.25zM8.8 30h1.25v1.25h-1.25zM8.8 32.5h1.25v1.25h-1.25zM10 0h1.25v1.25h-1.25zM10 1.2h1.25v1.25h-1.25zM10 5h1.25v1.25h-1.25zM10 11.2h1.25v1.25h-1.25zM10 15h1.25v1.25h-1.25zM10 16.2h1.25v1.25h-1.25zM10 17.5h1.25v1.25h-1.25zM10 20h1.25v1.25h-1.25zM10 21.2h1.25v1.25h-1.25zM10 23.8h1.25v1.25h-1.25zM10 25h1.25v1.25h-1.25zM10 26.2h1.25v1.25h-1.25zM10 27.5h1.25v1.25h-1.25zM10 28.8h1.25v1.25h-1.25zM10 32.5h1.25v1.25h-1.25zM11.2 0h1.25v1.25h-1.25zM11.2 1.2h1.25v1.25h-1.25zM11.2 2.5h1.25v1.25h-1.25zM11.2 6.2h1.25v1.25h-1.25zM11.2 7.5h1.25v1.25h-1.25zM11.2 8.8h1.25v1.25h-1.25zM11.2 10h1.25v1.25h-1.25zM11.2 13.8h1.25v1.25h-1.25zM11.2 15h1.25v1.25h-1.25zM11.2 16.2h1.25v1.25h-1.25zM11.2 17.5h1.25v1.25h-1.25zM11.2 21.2h1.25v1.25h-1.25zM11.2 25h1.25v1.25h-1.25zM11.2 26.2h1.25v1.25h-1.25zM11.2 30h1.25v1.25h-1.25zM11.2 32.5h1.25v1.25h-1.25zM11.2 33.8h1.25v1.25h-1.25zM12.5 2.5h1.25v1.25h-1.25zM12.5 3.8h1.25v1.25h-1.25zM12.5 5h1.25v1.25h-1.25zM12.5 8.8h1.25v1.25h-1.25zM12.5 12.5h1.25v1.25h-1.25zM12.5 13.8h1.25v1.25h-1.25zM12.5 15h1.25v1.25h-1.25zM12.5 25h1.25v1.25h-1.25zM12.5 27.5h1.25v1.25h-1.25zM12.5 28.8h1.25v1.25h-1.25zM12.5 31.2h1.25v1.25h-1.25zM12.5 32.5h1.25v1.25h-1.25zM12.5 33.8h1.25v1.25h-1.25zM13.8 1.2h1.25v1.25h-1.25zM13.8 2.5h1.25v1.25h-1.25zM13.8 5h1.25v1.25h-1.25zM13.8 13.8h1.25v1.25h-1.25zM13.8 18.8h1.25v1.25h-1.25zM13.8 22.5h1.25v1.25h-1.25zM13.8 23.8h1.25v1.25h-1.25zM13.8 27.5h1.25v1.25h-1.25zM13.8 28.8h1.25v1.25h-1.25zM13.8 30h1.25v1.25h-1.25zM13.8 33.8h1.25v1.25h-1.25zM15 0h1.25v1.25h-1.25zM15 1.2h1.25v1.25h-1.25zM15 2.5h1.25v1.25h-1.25zM15 3.8h1.25v1.25h-1.25zM15 5h1.25v1.25h-1.25zM15 8.8h1.25v1.25h-1.25zM15 11.2h1.25v1.25h-1.25zM15 21.2h1.25v1.25h-1.25zM15 22.5h1.25v1.25h-1.25zM15 27.5h1.25v1.25h-1.25zM15 30h1.25v1.25h-1.25zM15 31.2h1.25v1.25h-1.25zM15 32.5h1.25v1.25h-1.25zM16.2 0h1.25v1.25h-1.25zM16.2 1.2h1.25v1.25h-1.25zM16.2 5h1.25v1.25h-1.25zM16.2 7.5h1.25v1.25h-1.25zM16.2 11.2h1.25v1.25h-1.25zM16.2 12.5h1.25v1.25h-1.25zM16.2 13.8h1.25v1.25h-1.25zM16.2 15h1.25v1.25h-1.25zM16.2 16.2h1.25v1.25h-1.25zM16.2 17.5h1.25v1.25h-1.25zM16.2 18.8h1.25v1.25h-1.25zM16.2 20h1.25v1.25h-1.25zM16.2 22.5h1.25v1.25h-1.25zM16.2 25h1.25v1.25h-1.25zM16.2 27.5h1.25v1.25h-1.25zM17.5 1.2h1.25v1.25h-1.25zM17.5 5h1.25v1.25h-1.25zM17.5 6.2h1.25v1.25h-1.25zM17.5 7.5h1.25v1.25h-1.25zM17.5 13.8h1.25v1.25h-1.25zM17.5 15h1.25v1.25h-1.25zM17.5 16.2h1.25v1.25h-1.25zM17.5 17.5h1.25v1.25h-1.25zM17.5 22.5h1.25v1.25h-1.25zM17.5 25h1.25v1.25h-1.25zM17.5 26.2h1.25v1.25h-1.25zM17.5 28.8h1.25v1.25h-1.25zM17.5 30h1.25v1.25h-1.25zM17.5 32.5h1.25v1.25h-1.25zM17.5 33.8h1.25v1.25h-1.25zM18.8 2.5h1.25v1.25h-1.25zM18.8 3.8h1.25v1.25h-1.25zM18.8 5h1.25v1.25h-1.25zM18.8 7.5h1.25v1.25h-1.25zM18.8 11.2h1.25v1.25h-1.25zM18.8 13.8h1.25v1.25h-1.25zM18.8 15h1.25v1.25h-1.25zM18.8 17.5h1.25v1.25h-1.25zM18.8 21.2h1.25v1.25h-1.25zM18.8 23.8h1.25v1.25h-1.25zM18.8 27.5h1.25v1.25h-1.25zM18.8 32.5h1.25v1.25h-1.25zM20 3.8h1.25v1.25h-1.25zM20 6.2h1.25v1.25h-1.25zM20 11.2h1.25v1.25h-1.25zM20 15h1.25v1.25h-1.25zM20 18.8h1.25v1.25h-1.25zM20 21.2h1.25v1.25h-1.25zM20 22.5h1.25v1.25h-1.25zM20 28.8h1.25v1.25h-1.25zM20 30h1.25v1.25h-1.25zM20 31.2h1.25v1.25h-1.25zM20 32.5h1.25v1.25h-1.25zM21.2 3.8h1.25v1.25h-1.25zM21.2 5h1.25v1.25h-1.25zM21.2 6.2h1.25v1.25h-1.25zM21.2 8.8h1.25v1.25h-1.25zM21.2 11.2h1.25v1.25h-1.25zM21.2 13.8h1.25v1.25h-1.25zM21.2 15h1.25v1.25h-1.25zM21.2 16.2h1.25v1.25h-1.25zM21.2 20h1.25v1.25h-1.25zM21.2 22.5h1.25v1.25h-1.25zM21.2 23.8h1.25v1.25h-1.25zM21.2 25h1.25v1.25h-1.25zM21.2 26.2h1.25v1.25h-1.25zM21.2 30h1.25v1.25h-1.25zM21.2 31.2h1.25v1.25h-1.25zM21.2 32.5h1.25v1.25h-1.25zM22.5 3.8h1.25v1.25h-1.25zM22.5 5h1.25v1.25h-1.25zM22.5 6.2h1.25v1.25h-1.25zM22.5 10h1.25v1.25h-1.25zM22.5 11.2h1.25v1.25h-1.25zM22.5 13.8h1.25v1.25h-1.25zM22.5 18.8h1.25v1.25h-1.25zM22.5 26.2h1.25v1.25h-1.25zM22.5 32.5h1.25v1.25h-1.25zM23.8 3.8h1.25v1.25h-1.25zM23.8 5h1.25v1.25h-1.25zM23.8 7.5h1.25v1.25h-1.25zM23.8 11.2h1.25v1.25h-1.25zM23.8 16.2h1.25v1.25h-1.25zM23.8 20h1.25v1.25h-1.25zM23.8 21.2h1.25v1.25h-1.25zM23.8 22.5h1.25v1.25h-1.25zM23.8 23.8h1.25v1.25h-1.25zM23.8 27.5h1.25v1.25h-1.25zM23.8 31.2h1.25v1.25h-1.25zM25 3.8h1.25v1.25h-1.25zM25 8.8h1.25v1.25h-1.25zM25 12.5h1.25v1.25h-1.25zM25 13.8h1.25v1.25h-1.25zM25 15h1.25v1.25h-1.25zM25 16.2h1.25v1.25h-1.25zM25 17.5h1.25v1.25h-1.25zM25 22.5h1.25v1.25h-1.25zM25 25h1.25v1.25h-1.25zM25 26.2h1.25v1.25h-1.25zM25 28.8h1.25v1.25h-1.25zM25 30h1.25v1.25h-1.25zM25 33.8h1.25v1.25h-1.25zM26.2 0h1.25v1.25h-1.25zM26.2 3.8h1.25v1.25h-1.25zM26.2 5h1.25v1.25h-1.25zM26.2 6.2h1.25v1.25h-1.25zM26.2 8.8h1.25v1.25h-1.25zM26.2 10h1.25v1.25h-1.25zM26.2 11.2h1.25v1.25h-1.25zM26.2 12.5h1.25v1.25h-1.25zM26.2 13.8h1.25v1.25h-1.25zM26.2 15h1.25v1.25h-1.25zM26.2 16.2h1.25v1.25h-1.25zM26.2 17.5h1.25v1.25h-1.25zM26.2 18.8h1.25v1.25h-1.25zM26.2 20h1.25v1.25h-1.25zM26.2 22.5h1.25v1.25h-1.25zM26.2 23.8h1.25v1.25h-1.25zM26.2 25h1.25v1.25h-1.25zM26.2 26.2h1.25v1.25h-1.25zM26.2 28.8h1.25v1.25h-1.25zM26.2 30h1.25v1.25h-1.25zM26.2 31.2h1.25v1.25h-1.25zM26.2 32.5h1.25v1.25h-1.25zM27.5 0h1.25v1.25h-1.25zM27.5 1.2h1.25v1.25h-1.25zM27.5 2.5h1.25v1.25h-1.25zM27.5 3.8h1.25v1.25h-1.25zM27.5 6.2h1.25v1.25h-1.25zM27.5 7.5h1.25v1.25h-1.25zM27.5 8.8h1.25v1.25h-1.25zM27.5 11.2h1.25v1.25h-1.25zM27.5 13.8h1.25v1.25h-1.25zM27.5 16.2h1.25v1.25h-1.25zM27.5 17.5h1.25v1.25h-1.25zM27.5 18.8h1.25v1.25h-1.25zM27.5 22.5h1.25v1.25h-1.25zM27.5 23.8h1.25v1.25h-1.25zM27.5 28.8h1.25v1.25h-1.25zM27.5 30h1.25v1.25h-1.25zM27.5 31.2h1.25v1.25h-1.25zM27.5 32.5h1.25v1.25h-1.25zM27.5 33.8h1.25v1.25h-1.25zM28.8 0h1.25v1.25h-1.25zM28.8 3.8h1.25v1.25h-1.25zM28.8 6.2h1.25v1.25h-1.25zM28.8 11.2h1.25v1.25h-1.25zM28.8 12.5h1.25v1.25h-1.25zM28.8 16.2h1.25v1.25h-1.25zM28.8 17.5h1.25v1.25h-1.25zM28.8 20h1.25v1.25h-1.25zM28.8 21.2h1.25v1.25h-1.25zM28.8 22.5h1.25v1.25h-1.25zM28.8 26.2h1.25v1.25h-1.25zM28.8 33.8h1.25v1.25h-1.25zM30 0h1.25v1.25h-1.25zM30 1.2h1.25v1.25h-1.25zM30 5h1.25v1.25h-1.25zM30 6.2h1.25v1.25h-1.25zM30 11.2h1.25v1.25h-1.25zM30 13.8h1.25v1.25h-1.25zM30 16.2h1.25v1.25h-1.25zM30 17.5h1.25v1.25h-1.25zM30 21.2h1.25v1.25h-1.25zM30 22.5h1.25v1.25h-1.25zM30 28.8h1.25v1.25h-1.25zM30 32.5h1.25v1.25h-1.25zM30 33.8h1.25v1.25h-1.25zM31.2 0h1.25v1.25h-1.25zM31.2 1.2h1.25v1.25h-1.25zM31.2 3.8h1.25v1.25h-1.25zM31.2 6.2h1.25v1.25h-1.25zM31.2 7.5h1.25v1.25h-1.25zM31.2 10h1.25v1.25h-1.25zM31.2 11.2h1.25v1.25h-1.25zM31.2 12.5h1.25v1.25h-1.25zM31.2 16.2h1.25v1.25h-1.25zM31.2 17.5h1.25v1.25h-1.25zM31.2 20h1.25v1.25h-1.25zM31.2 22.5h1.25v1.25h-1.25zM31.2 28.8h1.25v1.25h-1.25zM31.2 30h1.25v1.25h-1.25zM31.2 31.2h1.25v1.25h-1.25zM31.2 33.8h1.25v1.25h-1.25zM32.5 0h1.25v1.25h-1.25zM32.5 2.5h1.25v1.25h-1.25zM32.5 5h1.25v1.25h-1.25zM32.5 6.2h1.25v1.25h-1.25zM32.5 7.5h1.25v1.25h-1.25zM32.5 15h1.25v1.25h-1.25zM32.5 17.5h1.25v1.25h-1.25zM32.5 18.8h1.25v1.25h-1.25zM32.5 23.8h1.25v1.25h-1.25zM32.5 26.2h1.25v1.25h-1.25zM32.5 28.8h1.25v1.25h-1.25zM32.5 30h1.25v1.25h-1.25zM32.5 32.5h1.25v1.25h-1.25zM33.8 1.2h1.25v1.25h-1.25zM33.8 5h1.25v1.25h-1.25zM33.8 6.2h1.25v1.25h-1.25zM33.8 8.8h1.25v1.25h-1.25zM33.8 10h1.25v1.25h-1.25zM33.8 11.2h1.25v1.25h-1.25zM33.8 12.5h1.25v1.25h-1.25zM33.8 13.8h1.25v1.25h-1.25zM33.8 23.8h1.25v1.25h-1.25zM33.8 31.2h1.25v1.25h-1.25z" fill="#ff1c00"/><path d="M11.2 27.5h1.25v1.25h-1.25zM15 17.5h1.25v1.25h-1.25zM16.2 32.5h1.25v1.25h-1.25zM18.8 6.2h1.25v1.25h-1.25zM20 5h1.25v1.25h-1.25zM22.5 28.8h1.25v1.25h-1.25zM23.8 1.2h1.25v1.25h-1.25zM25 11.2h1.25v1.25h-1.25zM25 18.8h1.25v1.25h-1.25zM26.2 21.2h1.25v1.25h-1.25zM30 3.8h1.25v1.25h-1.25zM30 12.5h1.25v1.25h-1.25zM32.5 31.2h1.25v1.25h-1.25zM33.8 28.8h1.25v1.25h-1.25z" fill="#fff"/></pattern>
<pattern id="pRed" patternUnits="userSpaceOnUse" width="35.0" height="35.0"><rect width="35.0" height="35.0" fill="#ff1c00"/><path d="M0 1.2h1.25v1.25h-1.25zM0 5h1.25v1.25h-1.25zM0 16.2h1.25v1.25h-1.25zM0 31.2h1.25v1.25h-1.25zM1.2 3.8h1.25v1.25h-1.25zM1.2 23.8h1.25v1.25h-1.25zM1.2 25h1.25v1.25h-1.25zM2.5 11.2h1.25v1.25h-1.25zM2.5 12.5h1.25v1.25h-1.25zM2.5 22.5h1.25v1.25h-1.25zM2.5 30h1.25v1.25h-1.25zM3.8 8.8h1.25v1.25h-1.25zM3.8 13.8h1.25v1.25h-1.25zM3.8 15h1.25v1.25h-1.25zM3.8 21.2h1.25v1.25h-1.25zM3.8 26.2h1.25v1.25h-1.25zM3.8 27.5h1.25v1.25h-1.25zM3.8 31.2h1.25v1.25h-1.25zM3.8 32.5h1.25v1.25h-1.25zM5 2.5h1.25v1.25h-1.25zM5 12.5h1.25v1.25h-1.25zM5 20h1.25v1.25h-1.25zM5 27.5h1.25v1.25h-1.25zM5 28.8h1.25v1.25h-1.25zM6.2 6.2h1.25v1.25h-1.25zM6.2 26.2h1.25v1.25h-1.25zM6.2 31.2h1.25v1.25h-1.25zM6.2 33.8h1.25v1.25h-1.25zM7.5 2.5h1.25v1.25h-1.25zM7.5 11.2h1.25v1.25h-1.25zM7.5 13.8h1.25v1.25h-1.25zM7.5 16.2h1.25v1.25h-1.25zM7.5 32.5h1.25v1.25h-1.25zM7.5 33.8h1.25v1.25h-1.25zM8.8 5h1.25v1.25h-1.25zM8.8 10h1.25v1.25h-1.25zM8.8 13.8h1.25v1.25h-1.25zM8.8 23.8h1.25v1.25h-1.25zM8.8 25h1.25v1.25h-1.25zM8.8 33.8h1.25v1.25h-1.25zM10 11.2h1.25v1.25h-1.25zM10 18.8h1.25v1.25h-1.25zM10 26.2h1.25v1.25h-1.25zM11.2 13.8h1.25v1.25h-1.25zM11.2 18.8h1.25v1.25h-1.25zM11.2 20h1.25v1.25h-1.25zM11.2 21.2h1.25v1.25h-1.25zM11.2 31.2h1.25v1.25h-1.25zM12.5 5h1.25v1.25h-1.25zM12.5 6.2h1.25v1.25h-1.25zM12.5 22.5h1.25v1.25h-1.25zM13.8 16.2h1.25v1.25h-1.25zM13.8 27.5h1.25v1.25h-1.25zM15 0h1.25v1.25h-1.25zM15 7.5h1.25v1.25h-1.25zM15 22.5h1.25v1.25h-1.25zM15 23.8h1.25v1.25h-1.25zM15 26.2h1.25v1.25h-1.25zM15 27.5h1.25v1.25h-1.25zM16.2 15h1.25v1.25h-1.25zM16.2 27.5h1.25v1.25h-1.25zM16.2 30h1.25v1.25h-1.25zM17.5 20h1.25v1.25h-1.25zM17.5 28.8h1.25v1.25h-1.25zM18.8 17.5h1.25v1.25h-1.25zM18.8 26.2h1.25v1.25h-1.25zM18.8 31.2h1.25v1.25h-1.25zM20 1.2h1.25v1.25h-1.25zM20 6.2h1.25v1.25h-1.25zM20 8.8h1.25v1.25h-1.25zM20 11.2h1.25v1.25h-1.25zM20 21.2h1.25v1.25h-1.25zM21.2 0h1.25v1.25h-1.25zM21.2 15h1.25v1.25h-1.25zM21.2 20h1.25v1.25h-1.25zM21.2 22.5h1.25v1.25h-1.25zM21.2 26.2h1.25v1.25h-1.25zM21.2 33.8h1.25v1.25h-1.25zM22.5 7.5h1.25v1.25h-1.25zM22.5 15h1.25v1.25h-1.25zM22.5 20h1.25v1.25h-1.25zM22.5 25h1.25v1.25h-1.25zM23.8 6.2h1.25v1.25h-1.25zM23.8 12.5h1.25v1.25h-1.25zM23.8 15h1.25v1.25h-1.25zM23.8 25h1.25v1.25h-1.25zM25 8.8h1.25v1.25h-1.25zM25 16.2h1.25v1.25h-1.25zM25 21.2h1.25v1.25h-1.25zM25 27.5h1.25v1.25h-1.25zM25 28.8h1.25v1.25h-1.25zM25 33.8h1.25v1.25h-1.25zM26.2 13.8h1.25v1.25h-1.25zM26.2 17.5h1.25v1.25h-1.25zM26.2 18.8h1.25v1.25h-1.25zM27.5 8.8h1.25v1.25h-1.25zM27.5 13.8h1.25v1.25h-1.25zM27.5 17.5h1.25v1.25h-1.25zM27.5 21.2h1.25v1.25h-1.25zM27.5 28.8h1.25v1.25h-1.25zM28.8 7.5h1.25v1.25h-1.25zM28.8 12.5h1.25v1.25h-1.25zM28.8 15h1.25v1.25h-1.25zM28.8 28.8h1.25v1.25h-1.25zM28.8 30h1.25v1.25h-1.25zM30 0h1.25v1.25h-1.25zM30 8.8h1.25v1.25h-1.25zM30 11.2h1.25v1.25h-1.25zM30 12.5h1.25v1.25h-1.25zM30 20h1.25v1.25h-1.25zM30 22.5h1.25v1.25h-1.25zM32.5 3.8h1.25v1.25h-1.25zM32.5 6.2h1.25v1.25h-1.25zM32.5 7.5h1.25v1.25h-1.25zM32.5 10h1.25v1.25h-1.25zM32.5 23.8h1.25v1.25h-1.25zM32.5 26.2h1.25v1.25h-1.25zM32.5 27.5h1.25v1.25h-1.25zM32.5 28.8h1.25v1.25h-1.25zM33.8 5h1.25v1.25h-1.25zM33.8 16.2h1.25v1.25h-1.25zM33.8 20h1.25v1.25h-1.25zM33.8 22.5h1.25v1.25h-1.25z" fill="#00007c"/><path d="M0 0h1.25v1.25h-1.25zM0 3.8h1.25v1.25h-1.25zM0 11.2h1.25v1.25h-1.25zM0 13.8h1.25v1.25h-1.25zM0 15h1.25v1.25h-1.25zM0 17.5h1.25v1.25h-1.25zM0 23.8h1.25v1.25h-1.25zM0 25h1.25v1.25h-1.25zM1.2 1.2h1.25v1.25h-1.25zM1.2 8.8h1.25v1.25h-1.25zM1.2 20h1.25v1.25h-1.25zM1.2 21.2h1.25v1.25h-1.25zM1.2 27.5h1.25v1.25h-1.25zM1.2 31.2h1.25v1.25h-1.25zM1.2 33.8h1.25v1.25h-1.25zM2.5 1.2h1.25v1.25h-1.25zM2.5 3.8h1.25v1.25h-1.25zM2.5 5h1.25v1.25h-1.25zM2.5 7.5h1.25v1.25h-1.25zM2.5 13.8h1.25v1.25h-1.25zM2.5 17.5h1.25v1.25h-1.25zM2.5 18.8h1.25v1.25h-1.25zM2.5 20h1.25v1.25h-1.25zM2.5 31.2h1.25v1.25h-1.25zM3.8 5h1.25v1.25h-1.25zM3.8 6.2h1.25v1.25h-1.25zM3.8 12.5h1.25v1.25h-1.25zM3.8 16.2h1.25v1.25h-1.25zM3.8 18.8h1.25v1.25h-1.25zM3.8 20h1.25v1.25h-1.25zM3.8 25h1.25v1.25h-1.25zM3.8 28.8h1.25v1.25h-1.25zM5 0h1.25v1.25h-1.25zM5 10h1.25v1.25h-1.25zM5 15h1.25v1.25h-1.25zM5 21.2h1.25v1.25h-1.25zM5 22.5h1.25v1.25h-1.25zM5 23.8h1.25v1.25h-1.25zM5 25h1.25v1.25h-1.25zM6.2 7.5h1.25v1.25h-1.25zM6.2 12.5h1.25v1.25h-1.25zM6.2 22.5h1.25v1.25h-1.25zM7.5 3.8h1.25v1.25h-1.25zM7.5 10h1.25v1.25h-1.25zM7.5 23.8h1.25v1.25h-1.25zM7.5 26.2h1.25v1.25h-1.25zM8.8 6.2h1.25v1.25h-1.25zM8.8 18.8h1.25v1.25h-1.25zM8.8 20h1.25v1.25h-1.25zM10 1.2h1.25v1.25h-1.25zM10 2.5h1.25v1.25h-1.25zM10 7.5h1.25v1.25h-1.25zM10 10h1.25v1.25h-1.25zM10 13.8h1.25v1.25h-1.25zM10 20h1.25v1.25h-1.25zM10 27.5h1.25v1.25h-1.25zM10 30h1.25v1.25h-1.25zM11.2 2.5h1.25v1.25h-1.25zM11.2 7.5h1.25v1.25h-1.25zM11.2 16.2h1.25v1.25h-1.25zM11.2 23.8h1.25v1.25h-1.25zM11.2 28.8h1.25v1.25h-1.25zM12.5 0h1.25v1.25h-1.25zM12.5 2.5h1.25v1.25h-1.25zM12.5 3.8h1.25v1.25h-1.25zM12.5 13.8h1.25v1.25h-1.25zM12.5 30h1.25v1.25h-1.25zM13.8 2.5h1.25v1.25h-1.25zM13.8 3.8h1.25v1.25h-1.25zM13.8 5h1.25v1.25h-1.25zM13.8 13.8h1.25v1.25h-1.25zM13.8 17.5h1.25v1.25h-1.25zM13.8 22.5h1.25v1.25h-1.25zM13.8 26.2h1.25v1.25h-1.25zM13.8 33.8h1.25v1.25h-1.25zM15 1.2h1.25v1.25h-1.25zM15 2.5h1.25v1.25h-1.25zM15 8.8h1.25v1.25h-1.25zM15 10h1.25v1.25h-1.25zM15 12.5h1.25v1.25h-1.25zM15 18.8h1.25v1.25h-1.25zM15 21.2h1.25v1.25h-1.25zM15 25h1.25v1.25h-1.25zM15 30h1.25v1.25h-1.25zM16.2 11.2h1.25v1.25h-1.25zM16.2 16.2h1.25v1.25h-1.25zM16.2 18.8h1.25v1.25h-1.25zM16.2 23.8h1.25v1.25h-1.25zM16.2 32.5h1.25v1.25h-1.25zM16.2 33.8h1.25v1.25h-1.25zM17.5 2.5h1.25v1.25h-1.25zM17.5 7.5h1.25v1.25h-1.25zM17.5 23.8h1.25v1.25h-1.25zM17.5 31.2h1.25v1.25h-1.25zM18.8 0h1.25v1.25h-1.25zM18.8 3.8h1.25v1.25h-1.25zM18.8 16.2h1.25v1.25h-1.25zM18.8 23.8h1.25v1.25h-1.25zM18.8 25h1.25v1.25h-1.25zM20 12.5h1.25v1.25h-1.25zM20 17.5h1.25v1.25h-1.25zM20 27.5h1.25v1.25h-1.25zM20 33.8h1.25v1.25h-1.25zM21.2 3.8h1.25v1.25h-1.25zM21.2 10h1.25v1.25h-1.25zM21.2 12.5h1.25v1.25h-1.25zM21.2 16.2h1.25v1.25h-1.25zM21.2 17.5h1.25v1.25h-1.25zM21.2 25h1.25v1.25h-1.25zM21.2 27.5h1.25v1.25h-1.25zM22.5 0h1.25v1.25h-1.25zM22.5 3.8h1.25v1.25h-1.25zM22.5 5h1.25v1.25h-1.25zM22.5 10h1.25v1.25h-1.25zM22.5 17.5h1.25v1.25h-1.25zM22.5 22.5h1.25v1.25h-1.25zM22.5 23.8h1.25v1.25h-1.25zM22.5 26.2h1.25v1.25h-1.25zM22.5 27.5h1.25v1.25h-1.25zM22.5 31.2h1.25v1.25h-1.25zM22.5 33.8h1.25v1.25h-1.25zM23.8 0h1.25v1.25h-1.25zM23.8 13.8h1.25v1.25h-1.25zM23.8 20h1.25v1.25h-1.25zM23.8 26.2h1.25v1.25h-1.25zM23.8 27.5h1.25v1.25h-1.25zM23.8 28.8h1.25v1.25h-1.25zM23.8 31.2h1.25v1.25h-1.25zM23.8 33.8h1.25v1.25h-1.25zM25 0h1.25v1.25h-1.25zM25 3.8h1.25v1.25h-1.25zM25 5h1.25v1.25h-1.25zM25 7.5h1.25v1.25h-1.25zM25 10h1.25v1.25h-1.25zM25 17.5h1.25v1.25h-1.25zM25 25h1.25v1.25h-1.25zM26.2 0h1.25v1.25h-1.25zM26.2 7.5h1.25v1.25h-1.25zM26.2 20h1.25v1.25h-1.25zM26.2 21.2h1.25v1.25h-1.25zM26.2 23.8h1.25v1.25h-1.25zM26.2 26.2h1.25v1.25h-1.25zM26.2 27.5h1.25v1.25h-1.25zM26.2 33.8h1.25v1.25h-1.25zM27.5 0h1.25v1.25h-1.25zM27.5 3.8h1.25v1.25h-1.25zM27.5 6.2h1.25v1.25h-1.25zM27.5 27.5h1.25v1.25h-1.25zM27.5 32.5h1.25v1.25h-1.25zM28.8 0h1.25v1.25h-1.25zM28.8 5h1.25v1.25h-1.25zM28.8 18.8h1.25v1.25h-1.25zM28.8 23.8h1.25v1.25h-1.25zM28.8 31.2h1.25v1.25h-1.25zM30 15h1.25v1.25h-1.25zM30 16.2h1.25v1.25h-1.25zM30 17.5h1.25v1.25h-1.25zM30 25h1.25v1.25h-1.25zM30 30h1.25v1.25h-1.25zM30 31.2h1.25v1.25h-1.25zM31.2 1.2h1.25v1.25h-1.25zM31.2 3.8h1.25v1.25h-1.25zM31.2 11.2h1.25v1.25h-1.25zM31.2 18.8h1.25v1.25h-1.25zM31.2 20h1.25v1.25h-1.25zM31.2 21.2h1.25v1.25h-1.25zM31.2 22.5h1.25v1.25h-1.25zM31.2 23.8h1.25v1.25h-1.25zM31.2 25h1.25v1.25h-1.25zM31.2 27.5h1.25v1.25h-1.25zM31.2 28.8h1.25v1.25h-1.25zM31.2 31.2h1.25v1.25h-1.25zM32.5 0h1.25v1.25h-1.25zM32.5 2.5h1.25v1.25h-1.25zM32.5 13.8h1.25v1.25h-1.25zM32.5 15h1.25v1.25h-1.25zM32.5 18.8h1.25v1.25h-1.25zM32.5 22.5h1.25v1.25h-1.25zM33.8 1.2h1.25v1.25h-1.25zM33.8 2.5h1.25v1.25h-1.25zM33.8 6.2h1.25v1.25h-1.25zM33.8 18.8h1.25v1.25h-1.25zM33.8 21.2h1.25v1.25h-1.25zM33.8 28.8h1.25v1.25h-1.25z" fill="#ff5a00"/><path d="M3.8 10h1.25v1.25h-1.25zM8.8 16.2h1.25v1.25h-1.25zM11.2 26.2h1.25v1.25h-1.25zM17.5 15h1.25v1.25h-1.25zM25 22.5h1.25v1.25h-1.25z" fill="#fff"/></pattern>
<pattern id="pSparseB" patternUnits="userSpaceOnUse" width="35.0" height="35.0"><rect width="35.0" height="35.0" fill="#fff"/><path d="M0 5h1.25v1.25h-1.25zM0 20h1.25v1.25h-1.25zM0 30h1.25v1.25h-1.25zM1.2 0h1.25v1.25h-1.25zM1.2 1.2h1.25v1.25h-1.25zM1.2 20h1.25v1.25h-1.25zM1.2 26.2h1.25v1.25h-1.25zM1.2 30h1.25v1.25h-1.25zM1.2 33.8h1.25v1.25h-1.25zM2.5 1.2h1.25v1.25h-1.25zM2.5 6.2h1.25v1.25h-1.25zM2.5 8.8h1.25v1.25h-1.25zM2.5 17.5h1.25v1.25h-1.25zM2.5 20h1.25v1.25h-1.25zM3.8 6.2h1.25v1.25h-1.25zM3.8 12.5h1.25v1.25h-1.25zM3.8 13.8h1.25v1.25h-1.25zM3.8 15h1.25v1.25h-1.25zM3.8 31.2h1.25v1.25h-1.25zM5 16.2h1.25v1.25h-1.25zM5 18.8h1.25v1.25h-1.25zM5 20h1.25v1.25h-1.25zM5 22.5h1.25v1.25h-1.25zM5 28.8h1.25v1.25h-1.25zM5 30h1.25v1.25h-1.25zM6.2 5h1.25v1.25h-1.25zM6.2 7.5h1.25v1.25h-1.25zM6.2 11.2h1.25v1.25h-1.25zM6.2 13.8h1.25v1.25h-1.25zM6.2 15h1.25v1.25h-1.25zM6.2 22.5h1.25v1.25h-1.25zM6.2 25h1.25v1.25h-1.25zM7.5 0h1.25v1.25h-1.25zM7.5 10h1.25v1.25h-1.25zM7.5 16.2h1.25v1.25h-1.25zM7.5 23.8h1.25v1.25h-1.25zM7.5 25h1.25v1.25h-1.25zM7.5 30h1.25v1.25h-1.25zM7.5 31.2h1.25v1.25h-1.25zM7.5 33.8h1.25v1.25h-1.25zM8.8 6.2h1.25v1.25h-1.25zM8.8 8.8h1.25v1.25h-1.25zM8.8 13.8h1.25v1.25h-1.25zM8.8 15h1.25v1.25h-1.25zM8.8 17.5h1.25v1.25h-1.25zM8.8 20h1.25v1.25h-1.25zM8.8 22.5h1.25v1.25h-1.25zM8.8 32.5h1.25v1.25h-1.25zM10 5h1.25v1.25h-1.25zM10 22.5h1.25v1.25h-1.25zM10 26.2h1.25v1.25h-1.25zM10 27.5h1.25v1.25h-1.25zM10 30h1.25v1.25h-1.25zM10 32.5h1.25v1.25h-1.25zM11.2 0h1.25v1.25h-1.25zM11.2 12.5h1.25v1.25h-1.25zM11.2 15h1.25v1.25h-1.25zM11.2 16.2h1.25v1.25h-1.25zM11.2 18.8h1.25v1.25h-1.25zM12.5 10h1.25v1.25h-1.25zM12.5 12.5h1.25v1.25h-1.25zM12.5 15h1.25v1.25h-1.25zM12.5 17.5h1.25v1.25h-1.25zM12.5 23.8h1.25v1.25h-1.25zM12.5 25h1.25v1.25h-1.25zM12.5 26.2h1.25v1.25h-1.25zM12.5 27.5h1.25v1.25h-1.25zM12.5 28.8h1.25v1.25h-1.25zM12.5 31.2h1.25v1.25h-1.25zM13.8 0h1.25v1.25h-1.25zM13.8 2.5h1.25v1.25h-1.25zM13.8 12.5h1.25v1.25h-1.25zM13.8 15h1.25v1.25h-1.25zM13.8 23.8h1.25v1.25h-1.25zM15 1.2h1.25v1.25h-1.25zM15 8.8h1.25v1.25h-1.25zM15 13.8h1.25v1.25h-1.25zM15 16.2h1.25v1.25h-1.25zM15 21.2h1.25v1.25h-1.25zM15 23.8h1.25v1.25h-1.25zM16.2 7.5h1.25v1.25h-1.25zM16.2 8.8h1.25v1.25h-1.25zM16.2 10h1.25v1.25h-1.25zM16.2 13.8h1.25v1.25h-1.25zM16.2 16.2h1.25v1.25h-1.25zM16.2 20h1.25v1.25h-1.25zM16.2 23.8h1.25v1.25h-1.25zM16.2 26.2h1.25v1.25h-1.25zM16.2 30h1.25v1.25h-1.25zM16.2 31.2h1.25v1.25h-1.25zM17.5 2.5h1.25v1.25h-1.25zM17.5 15h1.25v1.25h-1.25zM17.5 17.5h1.25v1.25h-1.25zM17.5 21.2h1.25v1.25h-1.25zM17.5 27.5h1.25v1.25h-1.25zM17.5 32.5h1.25v1.25h-1.25zM18.8 2.5h1.25v1.25h-1.25zM18.8 6.2h1.25v1.25h-1.25zM18.8 8.8h1.25v1.25h-1.25zM18.8 15h1.25v1.25h-1.25zM18.8 16.2h1.25v1.25h-1.25zM18.8 33.8h1.25v1.25h-1.25zM20 3.8h1.25v1.25h-1.25zM20 8.8h1.25v1.25h-1.25zM20 10h1.25v1.25h-1.25zM20 11.2h1.25v1.25h-1.25zM20 15h1.25v1.25h-1.25zM20 16.2h1.25v1.25h-1.25zM20 25h1.25v1.25h-1.25zM20 28.8h1.25v1.25h-1.25zM20 30h1.25v1.25h-1.25zM21.2 3.8h1.25v1.25h-1.25zM21.2 28.8h1.25v1.25h-1.25zM22.5 1.2h1.25v1.25h-1.25zM22.5 2.5h1.25v1.25h-1.25zM22.5 6.2h1.25v1.25h-1.25zM22.5 8.8h1.25v1.25h-1.25zM22.5 25h1.25v1.25h-1.25zM22.5 26.2h1.25v1.25h-1.25zM22.5 30h1.25v1.25h-1.25zM23.8 1.2h1.25v1.25h-1.25zM23.8 3.8h1.25v1.25h-1.25zM23.8 5h1.25v1.25h-1.25zM23.8 8.8h1.25v1.25h-1.25zM23.8 11.2h1.25v1.25h-1.25zM23.8 12.5h1.25v1.25h-1.25zM23.8 13.8h1.25v1.25h-1.25zM23.8 15h1.25v1.25h-1.25zM23.8 26.2h1.25v1.25h-1.25zM23.8 27.5h1.25v1.25h-1.25zM23.8 28.8h1.25v1.25h-1.25zM23.8 31.2h1.25v1.25h-1.25zM25 5h1.25v1.25h-1.25zM25 12.5h1.25v1.25h-1.25zM25 33.8h1.25v1.25h-1.25zM26.2 1.2h1.25v1.25h-1.25zM26.2 10h1.25v1.25h-1.25zM26.2 26.2h1.25v1.25h-1.25zM26.2 28.8h1.25v1.25h-1.25zM27.5 12.5h1.25v1.25h-1.25zM27.5 16.2h1.25v1.25h-1.25zM27.5 18.8h1.25v1.25h-1.25zM27.5 20h1.25v1.25h-1.25zM27.5 21.2h1.25v1.25h-1.25zM27.5 31.2h1.25v1.25h-1.25zM27.5 32.5h1.25v1.25h-1.25zM28.8 10h1.25v1.25h-1.25zM28.8 22.5h1.25v1.25h-1.25zM28.8 26.2h1.25v1.25h-1.25zM28.8 27.5h1.25v1.25h-1.25zM28.8 31.2h1.25v1.25h-1.25zM28.8 33.8h1.25v1.25h-1.25zM30 8.8h1.25v1.25h-1.25zM30 15h1.25v1.25h-1.25zM30 16.2h1.25v1.25h-1.25zM31.2 0h1.25v1.25h-1.25zM31.2 6.2h1.25v1.25h-1.25zM31.2 8.8h1.25v1.25h-1.25zM31.2 22.5h1.25v1.25h-1.25zM31.2 31.2h1.25v1.25h-1.25zM31.2 32.5h1.25v1.25h-1.25zM32.5 1.2h1.25v1.25h-1.25zM32.5 7.5h1.25v1.25h-1.25zM32.5 11.2h1.25v1.25h-1.25zM32.5 18.8h1.25v1.25h-1.25zM32.5 21.2h1.25v1.25h-1.25zM32.5 32.5h1.25v1.25h-1.25zM33.8 0h1.25v1.25h-1.25zM33.8 11.2h1.25v1.25h-1.25zM33.8 18.8h1.25v1.25h-1.25zM33.8 20h1.25v1.25h-1.25zM33.8 25h1.25v1.25h-1.25zM33.8 26.2h1.25v1.25h-1.25zM33.8 30h1.25v1.25h-1.25zM33.8 32.5h1.25v1.25h-1.25z" fill="#00007c"/><path d="M0 3.8h1.25v1.25h-1.25zM0 10h1.25v1.25h-1.25zM0 12.5h1.25v1.25h-1.25zM0 16.2h1.25v1.25h-1.25zM0 23.8h1.25v1.25h-1.25zM0 28.8h1.25v1.25h-1.25zM1.2 3.8h1.25v1.25h-1.25zM1.2 7.5h1.25v1.25h-1.25zM1.2 10h1.25v1.25h-1.25zM1.2 21.2h1.25v1.25h-1.25zM1.2 23.8h1.25v1.25h-1.25zM1.2 32.5h1.25v1.25h-1.25zM2.5 2.5h1.25v1.25h-1.25zM2.5 10h1.25v1.25h-1.25zM2.5 13.8h1.25v1.25h-1.25zM2.5 15h1.25v1.25h-1.25zM2.5 16.2h1.25v1.25h-1.25zM2.5 23.8h1.25v1.25h-1.25zM2.5 26.2h1.25v1.25h-1.25zM3.8 5h1.25v1.25h-1.25zM3.8 8.8h1.25v1.25h-1.25zM3.8 17.5h1.25v1.25h-1.25zM3.8 18.8h1.25v1.25h-1.25zM3.8 22.5h1.25v1.25h-1.25zM3.8 23.8h1.25v1.25h-1.25zM3.8 27.5h1.25v1.25h-1.25zM3.8 32.5h1.25v1.25h-1.25zM3.8 33.8h1.25v1.25h-1.25zM5 1.2h1.25v1.25h-1.25zM5 6.2h1.25v1.25h-1.25zM5 8.8h1.25v1.25h-1.25zM5 10h1.25v1.25h-1.25zM5 15h1.25v1.25h-1.25zM5 25h1.25v1.25h-1.25zM6.2 6.2h1.25v1.25h-1.25zM7.5 7.5h1.25v1.25h-1.25zM7.5 13.8h1.25v1.25h-1.25zM7.5 18.8h1.25v1.25h-1.25zM7.5 32.5h1.25v1.25h-1.25zM8.8 5h1.25v1.25h-1.25zM8.8 21.2h1.25v1.25h-1.25zM8.8 25h1.25v1.25h-1.25zM8.8 26.2h1.25v1.25h-1.25zM8.8 27.5h1.25v1.25h-1.25zM8.8 31.2h1.25v1.25h-1.25zM8.8 33.8h1.25v1.25h-1.25zM10 0h1.25v1.25h-1.25zM10 6.2h1.25v1.25h-1.25zM10 7.5h1.25v1.25h-1.25zM10 10h1.25v1.25h-1.25zM10 18.8h1.25v1.25h-1.25zM10 25h1.25v1.25h-1.25zM10 33.8h1.25v1.25h-1.25zM11.2 3.8h1.25v1.25h-1.25zM11.2 7.5h1.25v1.25h-1.25zM11.2 26.2h1.25v1.25h-1.25zM11.2 28.8h1.25v1.25h-1.25zM11.2 33.8h1.25v1.25h-1.25zM12.5 1.2h1.25v1.25h-1.25zM12.5 13.8h1.25v1.25h-1.25zM12.5 33.8h1.25v1.25h-1.25zM13.8 1.2h1.25v1.25h-1.25zM13.8 5h1.25v1.25h-1.25zM13.8 11.2h1.25v1.25h-1.25zM15 6.2h1.25v1.25h-1.25zM15 7.5h1.25v1.25h-1.25zM15 10h1.25v1.25h-1.25zM15 12.5h1.25v1.25h-1.25zM15 15h1.25v1.25h-1.25zM15 22.5h1.25v1.25h-1.25zM15 33.8h1.25v1.25h-1.25zM16.2 25h1.25v1.25h-1.25zM17.5 13.8h1.25v1.25h-1.25zM17.5 22.5h1.25v1.25h-1.25zM17.5 25h1.25v1.25h-1.25zM17.5 30h1.25v1.25h-1.25zM18.8 1.2h1.25v1.25h-1.25zM18.8 23.8h1.25v1.25h-1.25zM18.8 26.2h1.25v1.25h-1.25zM20 12.5h1.25v1.25h-1.25zM20 13.8h1.25v1.25h-1.25zM20 21.2h1.25v1.25h-1.25zM20 27.5h1.25v1.25h-1.25zM20 32.5h1.25v1.25h-1.25zM20 33.8h1.25v1.25h-1.25zM21.2 1.2h1.25v1.25h-1.25zM21.2 10h1.25v1.25h-1.25zM21.2 17.5h1.25v1.25h-1.25zM21.2 18.8h1.25v1.25h-1.25zM21.2 21.2h1.25v1.25h-1.25zM21.2 23.8h1.25v1.25h-1.25zM21.2 30h1.25v1.25h-1.25zM21.2 32.5h1.25v1.25h-1.25zM22.5 7.5h1.25v1.25h-1.25zM22.5 10h1.25v1.25h-1.25zM22.5 11.2h1.25v1.25h-1.25zM22.5 12.5h1.25v1.25h-1.25zM22.5 18.8h1.25v1.25h-1.25zM22.5 23.8h1.25v1.25h-1.25zM23.8 6.2h1.25v1.25h-1.25zM23.8 10h1.25v1.25h-1.25zM23.8 16.2h1.25v1.25h-1.25zM23.8 17.5h1.25v1.25h-1.25zM23.8 18.8h1.25v1.25h-1.25zM23.8 23.8h1.25v1.25h-1.25zM23.8 32.5h1.25v1.25h-1.25zM23.8 33.8h1.25v1.25h-1.25zM25 8.8h1.25v1.25h-1.25zM25 10h1.25v1.25h-1.25zM25 16.2h1.25v1.25h-1.25zM25 18.8h1.25v1.25h-1.25zM25 21.2h1.25v1.25h-1.25zM25 22.5h1.25v1.25h-1.25zM25 25h1.25v1.25h-1.25zM25 27.5h1.25v1.25h-1.25zM25 30h1.25v1.25h-1.25zM26.2 6.2h1.25v1.25h-1.25zM26.2 21.2h1.25v1.25h-1.25zM26.2 22.5h1.25v1.25h-1.25zM26.2 30h1.25v1.25h-1.25zM27.5 5h1.25v1.25h-1.25zM27.5 7.5h1.25v1.25h-1.25zM27.5 11.2h1.25v1.25h-1.25zM27.5 15h1.25v1.25h-1.25zM27.5 28.8h1.25v1.25h-1.25zM27.5 33.8h1.25v1.25h-1.25zM28.8 1.2h1.25v1.25h-1.25zM28.8 2.5h1.25v1.25h-1.25zM28.8 3.8h1.25v1.25h-1.25zM28.8 5h1.25v1.25h-1.25zM28.8 8.8h1.25v1.25h-1.25zM28.8 15h1.25v1.25h-1.25zM30 2.5h1.25v1.25h-1.25zM30 10h1.25v1.25h-1.25zM30 12.5h1.25v1.25h-1.25zM30 18.8h1.25v1.25h-1.25zM30 20h1.25v1.25h-1.25zM30 21.2h1.25v1.25h-1.25zM31.2 2.5h1.25v1.25h-1.25zM31.2 3.8h1.25v1.25h-1.25zM31.2 5h1.25v1.25h-1.25zM31.2 10h1.25v1.25h-1.25zM31.2 15h1.25v1.25h-1.25zM31.2 17.5h1.25v1.25h-1.25zM31.2 18.8h1.25v1.25h-1.25zM31.2 20h1.25v1.25h-1.25zM31.2 21.2h1.25v1.25h-1.25zM32.5 2.5h1.25v1.25h-1.25zM32.5 3.8h1.25v1.25h-1.25zM32.5 8.8h1.25v1.25h-1.25zM32.5 10h1.25v1.25h-1.25zM32.5 12.5h1.25v1.25h-1.25zM32.5 16.2h1.25v1.25h-1.25zM32.5 28.8h1.25v1.25h-1.25zM32.5 31.2h1.25v1.25h-1.25zM33.8 1.2h1.25v1.25h-1.25zM33.8 2.5h1.25v1.25h-1.25zM33.8 3.8h1.25v1.25h-1.25zM33.8 7.5h1.25v1.25h-1.25zM33.8 17.5h1.25v1.25h-1.25zM33.8 21.2h1.25v1.25h-1.25zM33.8 22.5h1.25v1.25h-1.25zM33.8 33.8h1.25v1.25h-1.25z" fill="#0000c4"/></pattern>
<pattern id="pSparse" patternUnits="userSpaceOnUse" width="35.0" height="35.0"><rect width="35.0" height="35.0" fill="#fff"/><path d="M0 7.5h1.25v1.25h-1.25zM0 13.8h1.25v1.25h-1.25zM0 16.2h1.25v1.25h-1.25zM0 20h1.25v1.25h-1.25zM0 21.2h1.25v1.25h-1.25zM0 22.5h1.25v1.25h-1.25zM0 26.2h1.25v1.25h-1.25zM0 28.8h1.25v1.25h-1.25zM0 31.2h1.25v1.25h-1.25zM0 32.5h1.25v1.25h-1.25zM1.2 0h1.25v1.25h-1.25zM1.2 1.2h1.25v1.25h-1.25zM1.2 5h1.25v1.25h-1.25zM1.2 10h1.25v1.25h-1.25zM1.2 16.2h1.25v1.25h-1.25zM1.2 18.8h1.25v1.25h-1.25zM1.2 20h1.25v1.25h-1.25zM1.2 21.2h1.25v1.25h-1.25zM1.2 22.5h1.25v1.25h-1.25zM1.2 25h1.25v1.25h-1.25zM1.2 27.5h1.25v1.25h-1.25zM1.2 28.8h1.25v1.25h-1.25zM1.2 32.5h1.25v1.25h-1.25zM2.5 1.2h1.25v1.25h-1.25zM2.5 3.8h1.25v1.25h-1.25zM2.5 7.5h1.25v1.25h-1.25zM2.5 12.5h1.25v1.25h-1.25zM2.5 13.8h1.25v1.25h-1.25zM2.5 15h1.25v1.25h-1.25zM2.5 17.5h1.25v1.25h-1.25zM2.5 22.5h1.25v1.25h-1.25zM2.5 27.5h1.25v1.25h-1.25zM2.5 32.5h1.25v1.25h-1.25zM3.8 0h1.25v1.25h-1.25zM3.8 1.2h1.25v1.25h-1.25zM3.8 5h1.25v1.25h-1.25zM3.8 8.8h1.25v1.25h-1.25zM3.8 10h1.25v1.25h-1.25zM3.8 11.2h1.25v1.25h-1.25zM3.8 12.5h1.25v1.25h-1.25zM3.8 13.8h1.25v1.25h-1.25zM3.8 17.5h1.25v1.25h-1.25zM3.8 18.8h1.25v1.25h-1.25zM3.8 23.8h1.25v1.25h-1.25zM3.8 30h1.25v1.25h-1.25zM3.8 32.5h1.25v1.25h-1.25zM5 1.2h1.25v1.25h-1.25zM5 7.5h1.25v1.25h-1.25zM5 10h1.25v1.25h-1.25zM5 12.5h1.25v1.25h-1.25zM5 23.8h1.25v1.25h-1.25zM5 26.2h1.25v1.25h-1.25zM5 33.8h1.25v1.25h-1.25zM6.2 0h1.25v1.25h-1.25zM6.2 1.2h1.25v1.25h-1.25zM6.2 15h1.25v1.25h-1.25zM6.2 20h1.25v1.25h-1.25zM6.2 25h1.25v1.25h-1.25zM6.2 27.5h1.25v1.25h-1.25zM7.5 0h1.25v1.25h-1.25zM7.5 15h1.25v1.25h-1.25zM7.5 23.8h1.25v1.25h-1.25zM8.8 0h1.25v1.25h-1.25zM8.8 1.2h1.25v1.25h-1.25zM8.8 5h1.25v1.25h-1.25zM8.8 8.8h1.25v1.25h-1.25zM8.8 11.2h1.25v1.25h-1.25zM8.8 12.5h1.25v1.25h-1.25zM8.8 13.8h1.25v1.25h-1.25zM8.8 15h1.25v1.25h-1.25zM8.8 16.2h1.25v1.25h-1.25zM8.8 17.5h1.25v1.25h-1.25zM8.8 18.8h1.25v1.25h-1.25zM8.8 25h1.25v1.25h-1.25zM8.8 27.5h1.25v1.25h-1.25zM8.8 30h1.25v1.25h-1.25zM8.8 32.5h1.25v1.25h-1.25zM10 1.2h1.25v1.25h-1.25zM10 3.8h1.25v1.25h-1.25zM10 6.2h1.25v1.25h-1.25zM10 16.2h1.25v1.25h-1.25zM10 26.2h1.25v1.25h-1.25zM10 27.5h1.25v1.25h-1.25zM10 31.2h1.25v1.25h-1.25zM11.2 2.5h1.25v1.25h-1.25zM11.2 3.8h1.25v1.25h-1.25zM11.2 11.2h1.25v1.25h-1.25zM11.2 16.2h1.25v1.25h-1.25zM11.2 20h1.25v1.25h-1.25zM11.2 22.5h1.25v1.25h-1.25zM11.2 26.2h1.25v1.25h-1.25zM11.2 30h1.25v1.25h-1.25zM11.2 32.5h1.25v1.25h-1.25zM12.5 1.2h1.25v1.25h-1.25zM12.5 2.5h1.25v1.25h-1.25zM12.5 3.8h1.25v1.25h-1.25zM12.5 6.2h1.25v1.25h-1.25zM12.5 13.8h1.25v1.25h-1.25zM12.5 16.2h1.25v1.25h-1.25zM12.5 18.8h1.25v1.25h-1.25zM12.5 20h1.25v1.25h-1.25zM12.5 27.5h1.25v1.25h-1.25zM12.5 28.8h1.25v1.25h-1.25zM13.8 0h1.25v1.25h-1.25zM13.8 13.8h1.25v1.25h-1.25zM13.8 15h1.25v1.25h-1.25zM13.8 17.5h1.25v1.25h-1.25zM13.8 22.5h1.25v1.25h-1.25zM13.8 26.2h1.25v1.25h-1.25zM13.8 31.2h1.25v1.25h-1.25zM13.8 32.5h1.25v1.25h-1.25zM15 1.2h1.25v1.25h-1.25zM15 2.5h1.25v1.25h-1.25zM15 7.5h1.25v1.25h-1.25zM15 13.8h1.25v1.25h-1.25zM15 16.2h1.25v1.25h-1.25zM15 21.2h1.25v1.25h-1.25zM15 22.5h1.25v1.25h-1.25zM15 25h1.25v1.25h-1.25zM15 28.8h1.25v1.25h-1.25zM15 31.2h1.25v1.25h-1.25zM15 32.5h1.25v1.25h-1.25zM16.2 0h1.25v1.25h-1.25zM16.2 1.2h1.25v1.25h-1.25zM16.2 6.2h1.25v1.25h-1.25zM16.2 8.8h1.25v1.25h-1.25zM16.2 15h1.25v1.25h-1.25zM16.2 17.5h1.25v1.25h-1.25zM16.2 25h1.25v1.25h-1.25zM16.2 27.5h1.25v1.25h-1.25zM16.2 31.2h1.25v1.25h-1.25zM16.2 32.5h1.25v1.25h-1.25zM17.5 1.2h1.25v1.25h-1.25zM17.5 5h1.25v1.25h-1.25zM17.5 7.5h1.25v1.25h-1.25zM17.5 8.8h1.25v1.25h-1.25zM17.5 11.2h1.25v1.25h-1.25zM17.5 15h1.25v1.25h-1.25zM17.5 17.5h1.25v1.25h-1.25zM17.5 20h1.25v1.25h-1.25zM17.5 21.2h1.25v1.25h-1.25zM17.5 25h1.25v1.25h-1.25zM17.5 26.2h1.25v1.25h-1.25zM17.5 31.2h1.25v1.25h-1.25zM18.8 0h1.25v1.25h-1.25zM18.8 1.2h1.25v1.25h-1.25zM18.8 3.8h1.25v1.25h-1.25zM18.8 6.2h1.25v1.25h-1.25zM18.8 20h1.25v1.25h-1.25zM18.8 21.2h1.25v1.25h-1.25zM18.8 22.5h1.25v1.25h-1.25zM18.8 23.8h1.25v1.25h-1.25zM18.8 28.8h1.25v1.25h-1.25zM20 1.2h1.25v1.25h-1.25zM20 2.5h1.25v1.25h-1.25zM20 3.8h1.25v1.25h-1.25zM20 8.8h1.25v1.25h-1.25zM20 10h1.25v1.25h-1.25zM20 11.2h1.25v1.25h-1.25zM20 12.5h1.25v1.25h-1.25zM20 13.8h1.25v1.25h-1.25zM20 15h1.25v1.25h-1.25zM20 17.5h1.25v1.25h-1.25zM20 27.5h1.25v1.25h-1.25zM20 30h1.25v1.25h-1.25zM20 33.8h1.25v1.25h-1.25zM21.2 0h1.25v1.25h-1.25zM21.2 1.2h1.25v1.25h-1.25zM21.2 2.5h1.25v1.25h-1.25zM21.2 3.8h1.25v1.25h-1.25zM21.2 8.8h1.25v1.25h-1.25zM21.2 11.2h1.25v1.25h-1.25zM21.2 15h1.25v1.25h-1.25zM21.2 16.2h1.25v1.25h-1.25zM21.2 23.8h1.25v1.25h-1.25zM21.2 25h1.25v1.25h-1.25zM21.2 28.8h1.25v1.25h-1.25zM22.5 0h1.25v1.25h-1.25zM22.5 1.2h1.25v1.25h-1.25zM22.5 6.2h1.25v1.25h-1.25zM22.5 7.5h1.25v1.25h-1.25zM22.5 8.8h1.25v1.25h-1.25zM22.5 11.2h1.25v1.25h-1.25zM22.5 12.5h1.25v1.25h-1.25zM22.5 15h1.25v1.25h-1.25zM22.5 16.2h1.25v1.25h-1.25zM22.5 17.5h1.25v1.25h-1.25zM22.5 20h1.25v1.25h-1.25zM22.5 25h1.25v1.25h-1.25zM22.5 26.2h1.25v1.25h-1.25zM22.5 27.5h1.25v1.25h-1.25zM22.5 33.8h1.25v1.25h-1.25zM23.8 0h1.25v1.25h-1.25zM23.8 10h1.25v1.25h-1.25zM23.8 13.8h1.25v1.25h-1.25zM23.8 15h1.25v1.25h-1.25zM23.8 16.2h1.25v1.25h-1.25zM23.8 17.5h1.25v1.25h-1.25zM23.8 21.2h1.25v1.25h-1.25zM23.8 22.5h1.25v1.25h-1.25zM23.8 23.8h1.25v1.25h-1.25zM23.8 25h1.25v1.25h-1.25zM23.8 26.2h1.25v1.25h-1.25zM23.8 30h1.25v1.25h-1.25zM23.8 31.2h1.25v1.25h-1.25zM23.8 33.8h1.25v1.25h-1.25zM25 0h1.25v1.25h-1.25zM25 1.2h1.25v1.25h-1.25zM25 3.8h1.25v1.25h-1.25zM25 6.2h1.25v1.25h-1.25zM25 22.5h1.25v1.25h-1.25zM25 26.2h1.25v1.25h-1.25zM25 27.5h1.25v1.25h-1.25zM25 28.8h1.25v1.25h-1.25zM25 30h1.25v1.25h-1.25zM25 32.5h1.25v1.25h-1.25zM25 33.8h1.25v1.25h-1.25zM26.2 2.5h1.25v1.25h-1.25zM26.2 3.8h1.25v1.25h-1.25zM26.2 5h1.25v1.25h-1.25zM26.2 11.2h1.25v1.25h-1.25zM26.2 15h1.25v1.25h-1.25zM26.2 16.2h1.25v1.25h-1.25zM26.2 21.2h1.25v1.25h-1.25zM26.2 23.8h1.25v1.25h-1.25zM26.2 30h1.25v1.25h-1.25zM26.2 31.2h1.25v1.25h-1.25zM27.5 8.8h1.25v1.25h-1.25zM27.5 12.5h1.25v1.25h-1.25zM27.5 15h1.25v1.25h-1.25zM27.5 21.2h1.25v1.25h-1.25zM27.5 22.5h1.25v1.25h-1.25zM27.5 23.8h1.25v1.25h-1.25zM27.5 28.8h1.25v1.25h-1.25zM27.5 31.2h1.25v1.25h-1.25zM28.8 3.8h1.25v1.25h-1.25zM28.8 7.5h1.25v1.25h-1.25zM28.8 8.8h1.25v1.25h-1.25zM28.8 10h1.25v1.25h-1.25zM28.8 13.8h1.25v1.25h-1.25zM28.8 16.2h1.25v1.25h-1.25zM28.8 23.8h1.25v1.25h-1.25zM28.8 27.5h1.25v1.25h-1.25zM28.8 30h1.25v1.25h-1.25zM28.8 31.2h1.25v1.25h-1.25zM28.8 32.5h1.25v1.25h-1.25zM30 17.5h1.25v1.25h-1.25zM30 18.8h1.25v1.25h-1.25zM30 20h1.25v1.25h-1.25zM30 26.2h1.25v1.25h-1.25zM30 28.8h1.25v1.25h-1.25zM30 31.2h1.25v1.25h-1.25zM31.2 7.5h1.25v1.25h-1.25zM31.2 11.2h1.25v1.25h-1.25zM31.2 16.2h1.25v1.25h-1.25zM31.2 18.8h1.25v1.25h-1.25zM31.2 26.2h1.25v1.25h-1.25zM31.2 33.8h1.25v1.25h-1.25zM32.5 0h1.25v1.25h-1.25zM32.5 1.2h1.25v1.25h-1.25zM32.5 5h1.25v1.25h-1.25zM32.5 8.8h1.25v1.25h-1.25zM32.5 10h1.25v1.25h-1.25zM32.5 21.2h1.25v1.25h-1.25zM32.5 22.5h1.25v1.25h-1.25zM32.5 26.2h1.25v1.25h-1.25zM32.5 27.5h1.25v1.25h-1.25zM32.5 28.8h1.25v1.25h-1.25zM32.5 32.5h1.25v1.25h-1.25zM32.5 33.8h1.25v1.25h-1.25zM33.8 5h1.25v1.25h-1.25zM33.8 10h1.25v1.25h-1.25zM33.8 15h1.25v1.25h-1.25zM33.8 20h1.25v1.25h-1.25zM33.8 21.2h1.25v1.25h-1.25zM33.8 22.5h1.25v1.25h-1.25zM33.8 23.8h1.25v1.25h-1.25zM33.8 25h1.25v1.25h-1.25zM33.8 27.5h1.25v1.25h-1.25z" fill="#00007c"/><path d="M0 8.8h1.25v1.25h-1.25zM0 15h1.25v1.25h-1.25zM1.2 17.5h1.25v1.25h-1.25zM2.5 10h1.25v1.25h-1.25zM2.5 23.8h1.25v1.25h-1.25zM3.8 22.5h1.25v1.25h-1.25zM3.8 27.5h1.25v1.25h-1.25zM3.8 28.8h1.25v1.25h-1.25zM5 8.8h1.25v1.25h-1.25zM5 13.8h1.25v1.25h-1.25zM5 18.8h1.25v1.25h-1.25zM5 25h1.25v1.25h-1.25zM5 27.5h1.25v1.25h-1.25zM6.2 5h1.25v1.25h-1.25zM6.2 12.5h1.25v1.25h-1.25zM6.2 30h1.25v1.25h-1.25zM7.5 5h1.25v1.25h-1.25zM7.5 28.8h1.25v1.25h-1.25zM8.8 2.5h1.25v1.25h-1.25zM8.8 20h1.25v1.25h-1.25zM8.8 21.2h1.25v1.25h-1.25zM8.8 28.8h1.25v1.25h-1.25zM8.8 31.2h1.25v1.25h-1.25zM10 0h1.25v1.25h-1.25zM10 11.2h1.25v1.25h-1.25zM10 15h1.25v1.25h-1.25zM10 23.8h1.25v1.25h-1.25zM11.2 0h1.25v1.25h-1.25zM11.2 1.2h1.25v1.25h-1.25zM11.2 6.2h1.25v1.25h-1.25zM11.2 15h1.25v1.25h-1.25zM11.2 25h1.25v1.25h-1.25zM12.5 22.5h1.25v1.25h-1.25zM12.5 23.8h1.25v1.25h-1.25zM12.5 30h1.25v1.25h-1.25zM13.8 2.5h1.25v1.25h-1.25zM13.8 10h1.25v1.25h-1.25zM13.8 11.2h1.25v1.25h-1.25zM13.8 21.2h1.25v1.25h-1.25zM15 27.5h1.25v1.25h-1.25zM15 33.8h1.25v1.25h-1.25zM16.2 7.5h1.25v1.25h-1.25zM16.2 13.8h1.25v1.25h-1.25zM16.2 33.8h1.25v1.25h-1.25zM17.5 33.8h1.25v1.25h-1.25zM18.8 5h1.25v1.25h-1.25zM18.8 11.2h1.25v1.25h-1.25zM18.8 18.8h1.25v1.25h-1.25zM18.8 33.8h1.25v1.25h-1.25zM20 0h1.25v1.25h-1.25zM20 5h1.25v1.25h-1.25zM20 6.2h1.25v1.25h-1.25zM20 20h1.25v1.25h-1.25zM21.2 5h1.25v1.25h-1.25zM21.2 7.5h1.25v1.25h-1.25zM21.2 10h1.25v1.25h-1.25zM21.2 21.2h1.25v1.25h-1.25zM21.2 27.5h1.25v1.25h-1.25zM21.2 33.8h1.25v1.25h-1.25zM22.5 10h1.25v1.25h-1.25zM22.5 13.8h1.25v1.25h-1.25zM22.5 22.5h1.25v1.25h-1.25zM23.8 5h1.25v1.25h-1.25zM23.8 11.2h1.25v1.25h-1.25zM23.8 27.5h1.25v1.25h-1.25zM25 2.5h1.25v1.25h-1.25zM25 5h1.25v1.25h-1.25zM25 15h1.25v1.25h-1.25zM25 25h1.25v1.25h-1.25zM26.2 6.2h1.25v1.25h-1.25zM26.2 12.5h1.25v1.25h-1.25zM26.2 13.8h1.25v1.25h-1.25zM26.2 26.2h1.25v1.25h-1.25zM26.2 33.8h1.25v1.25h-1.25zM27.5 0h1.25v1.25h-1.25zM27.5 1.2h1.25v1.25h-1.25zM27.5 11.2h1.25v1.25h-1.25zM27.5 20h1.25v1.25h-1.25zM27.5 26.2h1.25v1.25h-1.25zM27.5 30h1.25v1.25h-1.25zM28.8 2.5h1.25v1.25h-1.25zM28.8 22.5h1.25v1.25h-1.25zM28.8 28.8h1.25v1.25h-1.25zM28.8 33.8h1.25v1.25h-1.25zM30 2.5h1.25v1.25h-1.25zM30 12.5h1.25v1.25h-1.25zM30 21.2h1.25v1.25h-1.25zM31.2 15h1.25v1.25h-1.25zM31.2 17.5h1.25v1.25h-1.25zM31.2 25h1.25v1.25h-1.25zM31.2 31.2h1.25v1.25h-1.25zM32.5 16.2h1.25v1.25h-1.25zM32.5 17.5h1.25v1.25h-1.25z" fill="#ff1c00"/><path d="M0 17.5h1.25v1.25h-1.25zM1.2 7.5h1.25v1.25h-1.25zM1.2 31.2h1.25v1.25h-1.25zM1.2 33.8h1.25v1.25h-1.25zM2.5 25h1.25v1.25h-1.25zM3.8 7.5h1.25v1.25h-1.25zM3.8 21.2h1.25v1.25h-1.25zM3.8 33.8h1.25v1.25h-1.25zM5 20h1.25v1.25h-1.25zM5 22.5h1.25v1.25h-1.25zM5 32.5h1.25v1.25h-1.25zM6.2 16.2h1.25v1.25h-1.25zM6.2 26.2h1.25v1.25h-1.25zM7.5 12.5h1.25v1.25h-1.25zM7.5 13.8h1.25v1.25h-1.25zM7.5 18.8h1.25v1.25h-1.25zM8.8 10h1.25v1.25h-1.25zM10 5h1.25v1.25h-1.25zM11.2 13.8h1.25v1.25h-1.25zM11.2 18.8h1.25v1.25h-1.25zM11.2 21.2h1.25v1.25h-1.25zM11.2 31.2h1.25v1.25h-1.25zM12.5 8.8h1.25v1.25h-1.25zM12.5 17.5h1.25v1.25h-1.25zM12.5 21.2h1.25v1.25h-1.25zM12.5 33.8h1.25v1.25h-1.25zM13.8 7.5h1.25v1.25h-1.25zM13.8 27.5h1.25v1.25h-1.25zM13.8 28.8h1.25v1.25h-1.25zM13.8 30h1.25v1.25h-1.25zM16.2 11.2h1.25v1.25h-1.25zM16.2 20h1.25v1.25h-1.25zM16.2 30h1.25v1.25h-1.25zM17.5 13.8h1.25v1.25h-1.25zM18.8 13.8h1.25v1.25h-1.25zM18.8 26.2h1.25v1.25h-1.25zM18.8 30h1.25v1.25h-1.25zM20 16.2h1.25v1.25h-1.25zM20 25h1.25v1.25h-1.25zM21.2 30h1.25v1.25h-1.25zM21.2 32.5h1.25v1.25h-1.25zM22.5 3.8h1.25v1.25h-1.25zM22.5 21.2h1.25v1.25h-1.25zM22.5 23.8h1.25v1.25h-1.25zM22.5 28.8h1.25v1.25h-1.25zM23.8 1.2h1.25v1.25h-1.25zM23.8 2.5h1.25v1.25h-1.25zM26.2 22.5h1.25v1.25h-1.25zM27.5 5h1.25v1.25h-1.25zM27.5 17.5h1.25v1.25h-1.25zM28.8 6.2h1.25v1.25h-1.25zM28.8 25h1.25v1.25h-1.25zM30 0h1.25v1.25h-1.25zM30 10h1.25v1.25h-1.25zM30 16.2h1.25v1.25h-1.25zM31.2 8.8h1.25v1.25h-1.25zM31.2 13.8h1.25v1.25h-1.25zM32.5 18.8h1.25v1.25h-1.25zM33.8 6.2h1.25v1.25h-1.25zM33.8 18.8h1.25v1.25h-1.25z" fill="#0000c4"/></pattern>
</defs>
<path d="M680 204.1L682 194.7L683.5 195.1L681.3 204.4ZM680.5 207.5L684.8 189.1L686.4 189.5L681.7 207.8ZM682.6 203.9L684.5 196.4L686 196.8L683.9 204.3ZM682.8 208L685 200.1L686.4 200.5L684 208.4ZM684 207.9L686 201.3L687.4 201.8L685.2 208.3ZM685.1 208.2L689.7 194.1L691.2 194.6L686.4 208.6ZM687.2 206L692 192L693.1 192.4L688 206.3ZM686 211.5L689 203.5L690.3 204L687.2 212ZM688.3 208.6L691.1 201.6L692.4 202.2L689.5 209.1ZM688.1 212.4L692.5 201.6L693.9 202.2L689.2 212.8ZM690.2 210.4L694.3 200.8L695.7 201.5L691.3 210.9ZM690.1 213.2L693.6 205.7L694.9 206.3L691.2 213.8ZM691.5 213.1L695.9 204L697.2 204.6L692.6 213.6ZM691.8 214.9L697.4 204L698.7 204.7L692.9 215.4ZM694.2 212.7L700.8 200.6L702.1 201.4L695.4 213.3ZM696.3 211.4L700.4 204.3L701.7 205L697.5 212ZM697.1 212.5L702.5 203.4L703.8 204.2L698.2 213.1ZM698.2 212.9L701.1 208.2L702.3 209L699.3 213.6ZM696.9 217.1L707.8 200.4L709.2 201.4L697.9 217.8ZM697.8 217.7L708.4 202.3L709.1 202.8L698.4 218.1ZM698 218.5L709.8 201.6L711.1 202.6L699 219.2ZM696.9 221.9L706 209.4L707.2 210.2L697.8 222.5ZM700.1 219.3L712.4 203.3L713.7 204.3L701.1 220.1ZM700.6 220.5L706.6 213.1L707.6 214L701.5 221.3ZM701.9 220.6L707.9 213.4L709 214.4L702.9 221.4ZM702.1 222.1L706.6 217L707.6 217.9L703 222.9ZM701.8 224.1L715.9 208.5L717.1 209.6L702.7 224.8ZM701.5 225.9L717.7 208.8L718.9 209.9L702.3 226.7ZM702.5 226.5L711.5 217.2L712.5 218.2L703.2 227.2ZM705.4 225L711.4 219.2L712.4 220.2L706.2 225.9ZM707.5 224.5L711.8 220.6L712.7 221.6L708.4 225.4ZM707.4 226.2L722.7 212.5L723.8 213.7L708.2 227.1ZM705.2 229.6L718.9 217.8L719.9 218.9L705.9 230.4ZM708.9 227.8L712.8 224.6L713.7 225.6L709.7 228.8ZM709.3 228.9L725.5 216.2L725.7 216.5L709.5 229.2ZM712.8 230.1L720.1 225L720.9 226.2L713.5 231.1ZM714.6 230.3L726 222.7L726.8 224L715.3 231.4ZM716.2 230.7L724.1 225.6L724.9 226.9L716.9 231.8ZM717.7 231.1L724.5 227L725.3 228.3L718.4 232.3ZM718.3 232.2L721.6 230.3L722.3 231.5L718.9 233.4ZM718.3 233.6L727.7 228.4L728.4 229.8L718.9 234.8ZM718 235.1L728.3 229.7L729 231.1L718.6 236.3ZM718.5 236.2L723.8 233.6L724.4 234.9L719 237.4ZM721.1 236.3L721.1 236.3L721.6 237.5L721.6 237.5ZM718.3 238.9L730.3 233.5L731 234.9L718.8 240.1ZM719 239.9L729.3 235.5L729.9 236.9L719.5 241ZM721.2 240.2L731 236.3L731.6 237.8L721.7 241.5ZM720.1 241.9L722.4 241.1L722.7 241.7L720.3 242.6ZM719.5 242.8L724 241.2L724.4 242.4L719.9 244ZM718.5 244.3L728.7 240.9L729.2 242.2L718.9 245.5ZM721.2 244.6L722.3 244.3L722.6 245.6L721.6 245.9ZM722.9 245.4L724.8 244.8L725.2 246.1L723.3 246.6ZM723.1 246.6L730.4 244.6L730.8 246L723.5 247.8ZM719.4 248.7L726.9 246.9L727.2 248.2L719.7 249.9ZM723.9 248.9L728.4 247.8L728.7 249.2L724.1 250.1ZM722.2 250.4L734 248L734.3 249.5L722.4 251.7ZM721.9 251.7L727.6 250.6L727.8 252L722.1 252.9ZM723.3 252.6L734 250.9L734.2 252.4L723.5 253.9ZM720.3 254.2L735.5 252.1L735.7 253.6L720.5 255.4ZM720.7 255.3L729.8 254.2L729.9 255.6L720.8 256.5ZM722.5 256.2L729.5 255.6L729.6 257L722.6 257.5ZM725.5 257.2L728.4 256.9L728.5 258.3L725.6 258.5ZM719.9 258.7L730.1 258.1L730.2 259.5L720 259.9ZM724 259.6L735.2 259.2L735.3 260.8L724 260.9ZM724.5 260.8L731.6 260.7L731.6 262.2L724.5 262.1ZM722.5 262L725 262L725 263.3L722.5 263.2ZM721.2 263.1L725.1 263.2L725 264.5L721.2 264.3ZM723.5 264.3L726.4 264.5L726.3 265.8L723.4 265.6ZM723.6 265.5L730 265.9L729.9 267.1L723.5 266.6ZM737.7 267.7L748.6 268.7L748.4 270.5L737.6 269.3ZM739.2 269.4L745.1 270L744.9 271.7L739 271ZM738.3 270.8L747.3 271.9L747 273.7L738.1 272.4ZM740.5 272.6L746.9 273.6L746.6 275.3L740.2 274.2ZM736.3 273.4L743.6 274.7L743.3 276.4L736 275ZM738.2 275.3L748.6 277.3L748.2 279.1L737.9 276.9ZM738.6 276.9L745.3 278.3L744.9 280.1L738.2 278.5ZM737.6 278.2L747.4 280.6L746.9 282.4L737.2 279.8ZM739.3 280.2L744.7 281.6L744.3 283.4L738.9 281.8ZM739.4 281.9L744.2 283.2L743.7 285L738.9 283.5ZM738.3 283.2L747 285.8L746.4 287.6L737.8 284.8ZM735.3 283.8L740.2 285.4L739.6 287L734.8 285.3ZM737.2 286.1L737.4 286.1L736.9 287.7L736.7 287.6ZM732.7 286L740.7 289L740.1 290.6L732.2 287.5ZM736.3 289L743 291.7L742.3 293.4L735.6 290.5ZM735.3 290.3L736.3 290.7L735.6 292.2L734.6 291.8ZM733.4 291.1L742 295L741.3 296.6L732.7 292.6ZM733 292.6L742.3 297L741.5 298.7L732.3 294ZM732.3 293.9L735.7 295.6L734.9 297.1L731.6 295.4ZM730.9 294.8L739.8 299.6L739 301.2L730.1 296.3ZM732.6 297.5L739 301.1L738.3 302.4L731.9 298.8Z" fill="url(#pSparse)" shape-rendering="crispEdges"/>
<path d="M592.3 282.5L583.3 285L582.8 283.1L591.8 280.8ZM593 280.7L581.4 283.6L580.9 281.7L592.6 279ZM592.2 279.2L581.3 281.7L580.9 279.8L591.8 277.5ZM592.1 277.5L582 279.7L581.6 277.7L591.8 275.8ZM594.1 275.5L582.6 277.7L582.3 275.8L593.8 273.9ZM595.7 273.7L581.1 276.1L580.8 274.1L595.5 272ZM591.8 272.7L581.2 274.2L580.9 272.3L591.5 271ZM594 270.8L580.1 272.5L579.9 270.5L593.8 269.1ZM591.2 269.5L578.9 270.8L578.8 268.8L591.1 267.8ZM591.1 267.9L580.6 268.8L580.5 267.1L591 266.4Z" fill="url(#pSparseB)" shape-rendering="crispEdges"/>
<path d="M649.2 240.7L598.8 184.2L600.6 182.6L649.7 240.3ZM649.6 240.3L600 182.2L601.7 180.8L650.1 239.9ZM663.2 255.1L615.3 187.8L617 186.6L663.3 255ZM663.3 255L618.5 189L620.1 187.9L663.5 254.9ZM663.4 254.9L619.8 187.8L621.5 186.7L663.6 254.8ZM663.6 254.8L621.2 186.4L622.9 185.3L663.7 254.7ZM663.7 254.7L624 187.5L625.7 186.5L663.9 254.6ZM663.9 254.6L624.6 184.9L625.2 184.5L663.9 254.6ZM664 254.5L621.6 175.4L623.6 174.4L664.2 254.5ZM664.2 254.5L623 173.6L625 172.6L664.3 254.4ZM664.3 254.4L626.6 176.5L628.6 175.5L664.5 254.3ZM664.5 254.3L627.9 174.5L629.9 173.6L664.6 254.3ZM664.6 254.3L630.3 174.8L632.2 174L664.8 254.2ZM664.8 254.2L630.4 170.1L630.9 169.9L664.8 254.2ZM664.8 254.2L630.3 168.7L632.4 167.9L665 254.1ZM665 254.1L633.6 171.6L635.7 170.9L665.1 254.1ZM665.1 254.1L633.6 165.6L635.8 164.9L665.3 254ZM665.3 254L635.7 165L637.9 164.3L665.4 254ZM665.4 254L638.3 166.1L640.4 165.5L665.6 253.9ZM665.6 253.9L640.3 165.8L642.5 165.2L665.8 253.9ZM665.8 253.9L643 167.9L645.2 167.3L665.9 253.8ZM665.9 253.8L645.2 168.2L647.3 167.7L666.1 253.8ZM666.1 253.8L646.5 164.7L648.7 164.3L666.3 253.7ZM666.2 253.8L649.1 167.1L651.2 166.7L666.4 253.7ZM666.4 253.7L650.9 165.9L653.1 165.6L666.6 253.7ZM666.6 253.7L652.9 165.3L655.1 165L666.8 253.7ZM666.7 253.7L655.1 166.3L657.2 166L666.9 253.6ZM666.9 253.6L656.8 163.4L657.6 163.3L667 253.6ZM667.3 225.6L666.6 175.8L668.5 175.8L668.1 225.6ZM668.1 225.6L668.4 174.2L669.2 174.2L668.4 225.6ZM667 253.6L665.1 235.7L665.7 235.6L667.1 253.6ZM667.1 253.6L665.6 235.1L666.2 235.1L667.3 253.6ZM667.3 253.6L666.2 235.7L666.8 235.6L667.5 253.6ZM667.5 253.6L666.7 235L667.3 235L667.6 253.6ZM667.6 253.6L667.3 235.8L667.4 235.8L667.7 253.6ZM659.4 267L614.8 295.4L614.1 294.1L659.2 266.8ZM659.3 266.8L614.4 294.1L614.2 293.7L659.2 266.7ZM656.8 266.4L596.7 292.6L596 291L656.7 266.2ZM656.7 266.2L596 291.2L595.6 290.2L656.6 266ZM660.1 263.7L592.3 282.5L591.8 280.8L660 263.6ZM660 263.6L593 280.7L592.6 279L660 263.4ZM660 263.4L592.2 279.2L591.8 277.5L660 263.2ZM660 263.2L592.1 277.5L591.8 275.8L659.9 263.1ZM659.9 263.1L594.1 275.5L593.8 273.9L659.9 262.9ZM659.9 262.9L595.7 273.7L595.5 272L659.9 262.7ZM659.9 262.8L591.8 272.7L591.5 271L659.9 262.6ZM659.9 262.6L594 270.8L593.8 269.1L659.8 262.4ZM659.8 262.4L591.2 269.5L591.1 267.8L659.8 262.2ZM659.8 262.3L591.1 267.9L591 266.4L659.8 262.1Z" fill="url(#pBlue)" shape-rendering="crispEdges"/>
<path d="M670.5 222.4L672.7 191.7L674.3 191.8L671.4 222.5ZM671.1 225.4L673.6 198.1L675 198.2L671.9 225.5ZM671.7 226.4L674.9 198.5L676.3 198.7L672.5 226.5ZM672.7 224.5L677 193L678.5 193.2L673.6 224.6ZM673.5 224.7L678.5 192.3L680.1 192.5L674.3 224.9ZM674.8 222.1L680.2 191.2L681.8 191.5L675.7 222.3ZM674.8 226L679.5 202.7L680.4 202.9L675.4 226.1ZM682.9 203.5L692.7 166.1L694.8 166.7L684.2 203.9ZM684.1 203.9L694.2 168.4L694.7 168.5L684.4 204ZM686.8 204.7L696.6 175.4L698.4 176L688 205.1ZM686.3 235.1L698 218.5L699 219.2L686.9 235.6ZM684.1 239.3L696.9 221.9L697.8 222.5L684.6 239.7ZM685.1 239L700.1 219.3L701.1 220.1L685.6 239.4ZM687.7 236.6L700.6 220.5L701.5 221.3L688.3 237.1ZM685.8 240L701.9 220.6L702.9 221.4L686.2 240.5ZM686.4 240.2L702.1 222.1L703 222.9L686.9 240.6ZM688.4 238.9L701.8 224.1L702.7 224.8L688.9 239.3ZM687.2 241.1L701.5 225.9L702.3 226.7L687.7 241.5ZM688.6 240.5L702.5 226.5L703.2 227.2L689.1 240.9ZM688.7 241.2L705.4 225L706.2 225.9L689.2 241.7ZM689.1 241.7L707.5 224.5L708.4 225.4L689.6 242.2ZM690.9 241L707.4 226.2L708.2 227.1L691.3 241.5ZM688.9 243.5L705.2 229.6L705.9 230.4L689.3 244ZM692.9 241L708.9 227.8L709.7 228.8L693.3 241.6ZM689.1 244.8L709.3 228.9L709.5 229.2L689.2 244.9ZM674.4 257L700.1 239L700.6 239.7L674.5 257.2ZM674.4 257.1L697.3 241.9L697.7 242.6L674.5 257.3ZM674.5 257.3L701.8 239.8L702.3 240.6L674.6 257.4ZM674.6 257.4L701.7 240.9L702.2 241.7L674.7 257.6ZM674.7 257.6L701.6 241.9L702 242.7L674.8 257.7ZM674.8 257.7L700.6 243.4L701 244.2L674.9 257.9ZM674.9 257.9L701.8 243.7L702.2 244.4L675 258ZM675 258L702.2 244.4L702.6 245.1L675 258.2ZM675 258.2L702.9 244.9L703.3 245.7L675.1 258.3ZM675.1 258.3L703.7 245.5L704.1 246.3L675.2 258.5ZM675.2 258.5L703.2 246.6L703.6 247.4L675.2 258.6ZM675.2 258.6L700.8 248.4L701.1 249.2L675.3 258.8ZM675.3 258.8L703.9 248L704.1 248.5L675.3 258.9ZM675.3 258.9L708.4 246.8L708.7 247.8L675.4 259ZM675.4 259L709.9 247.3L710.3 248.2L675.4 259.2ZM675.4 259.2L706.7 249.3L707 250.1L675.5 259.4ZM675.5 259.3L706.2 250.3L706.4 251.2L675.5 259.5ZM675.5 259.5L708 250.7L708.2 251.6L675.6 259.7ZM675.6 259.7L709.5 251.2L709.7 252.1L675.6 259.8ZM675.6 259.8L710.5 251.9L710.8 252.9L675.6 260ZM675.6 260L708.3 253.3L708.4 254.2L675.7 260.2ZM675.7 260.2L707 254.4L707.1 255.3L675.7 260.3ZM675.7 260.3L711.3 254.6L711.5 255.5L675.7 260.5ZM675.7 260.5L708.1 255.9L708.2 256.9L675.7 260.7ZM675.7 260.7L708.2 256.8L708.3 257.7L675.8 260.8ZM675.8 260.8L710.4 257.4L710.4 258.4L675.8 261ZM675.8 261L711.7 258.2L711.8 259.2L675.8 261.2ZM675.8 261.2L707.2 259.4L707.2 260.3L675.8 261.3ZM675.8 261.3L707 260.2L707 261.1L675.8 261.5ZM675.8 261.5L708.7 261L708.7 262L675.8 261.7ZM675.8 261.7L707.6 261.9L707.6 262.8L675.8 261.8ZM675.8 261.8L711.8 262.8L711.7 263.8L675.8 262ZM675.8 262L707 263.5L707 264.4L675.8 262.2ZM675.8 262.2L710.5 264.6L710.4 265.4L675.8 262.3ZM675.8 262.3L706.4 265L706.3 265.9L675.8 262.5ZM675.8 262.5L701.7 265.3L701.6 266L675.7 262.6ZM675.7 262.6L701.6 266L701.5 266.8L675.7 262.8ZM675.7 262.8L703.5 267L703.4 267.8L675.7 263ZM675.7 263L705 268L704.8 268.9L675.7 263.1ZM675.7 263.1L704.4 268.7L704.3 269.6L675.6 263.3ZM675.6 263.3L705.4 269.7L705.2 270.6L675.6 263.5ZM675.6 263.5L704.6 270.4L704.3 271.2L675.5 263.6ZM675.5 263.6L700.9 270.2L700.7 271L675.5 263.8ZM675.5 263.8L703.7 271.8L703.5 272.6L675.4 264ZM675.5 263.9L705 273L704.7 273.8L675.4 264.1ZM675.4 264.1L704.3 273.6L704.1 274.4L675.3 264.3ZM675.3 264.3L701.4 273.4L701.1 274.2L675.3 264.4ZM675.3 264.4L698.8 273.3L698.6 274L675.2 264.6ZM675.2 264.6L699.4 274.2L699.1 275L675.2 264.7ZM675.2 264.7L699 274.8L698.7 275.5L675.1 264.9ZM675.1 264.9L701.7 276.8L701.3 277.6L675 265ZM675 265L698.1 276L697.7 276.7L674.9 265.2ZM675 265.2L701.2 278.3L700.8 279.1L674.9 265.3ZM674.9 265.3L700 278.6L699.6 279.3L674.8 265.5ZM674.8 265.5L701.4 280.2L701 280.9L674.7 265.6ZM674.7 265.6L695.6 277.7L695.3 278.3L674.6 265.8ZM674.6 265.7L695.4 278.3L695 278.9L674.5 265.9ZM674.6 265.9L692.4 277.2L692.1 277.8L674.5 266ZM674.5 266L694 279L693.6 279.6L674.4 266.2ZM674.4 266.2L694 279.8L693.6 280.4L674.3 266.3ZM674.3 266.3L693.9 280.5L693.4 281.1L674.2 266.4ZM674.2 266.4L695.3 282.5L694.8 283.1L674.1 266.6ZM674.1 266.6L691.1 280.1L690.7 280.6L674 266.7ZM674 266.7L694.3 283.5L693.8 284.1L673.8 266.8ZM673.9 266.8L690.6 281.3L690.2 281.8L673.7 267ZM673.7 267L689.9 281.5L689.5 282L673.6 267.1ZM673.6 267.1L689.8 282.2L689.3 282.7L673.5 267.2ZM673.5 267.2L689.9 283.2L689.4 283.7L673.4 267.3ZM673.4 267.3L688.5 282.8L688 283.2L673.3 267.4ZM673.3 267.4L689.7 285L689.2 285.5L673.1 267.6ZM673.2 267.5L689.3 285.5L688.8 286L673 267.7ZM673 267.7L688.4 285.4L688 285.8L672.9 267.7ZM672.9 267.7L685.9 283.2L685.4 283.6L672.8 267.8ZM672.8 267.8L686.7 285.1L686.2 285.5L672.7 267.9ZM672.7 267.9L687.4 287.1L686.8 287.5L672.5 268ZM672.5 268L686.7 287.2L686.1 287.7L672.4 268.1ZM672.4 268.1L684.5 285.2L683.9 285.6L672.3 268.2ZM672.3 268.2L686.2 289L685.6 289.4L672.1 268.3ZM672.1 268.3L683.2 285.5L682.7 285.8L672 268.4ZM672 268.4L682.3 285.1L681.7 285.4L671.8 268.5ZM671.8 268.5L683.9 289L683.6 289.1L671.8 268.5ZM671.8 268.5L682.4 286.8L681.8 287.1L671.6 268.6ZM671.7 268.6L680.4 284.6L679.9 284.8L671.5 268.7ZM671.5 268.7L681.9 288.6L681.3 288.9L671.3 268.8ZM671.4 268.8L679.2 284.6L678.7 284.9L671.2 268.8ZM671.2 268.8L680.4 288.3L679.8 288.6L671 268.9ZM671.1 268.9L679.6 288.2L679 288.5L670.9 269ZM670.9 269L677.7 285L677.3 285.2L670.8 269ZM670.8 269L676.5 283.1L676 283.3L670.6 269.1ZM670.6 269.1L677.1 286L676.5 286.2L670.5 269.1ZM670.5 269.1L675.8 284.1L675.3 284.3L670.3 269.2ZM670.3 269.2L675.4 284.6L674.9 284.8L670.2 269.2ZM670.2 269.2L676.4 289.2L675.7 289.4L670 269.3ZM670 269.3L674.3 284.3L673.8 284.4L669.8 269.3ZM669.8 269.3L675.1 289.4L674.7 289.5L669.7 269.4ZM669.7 269.4L675 290.6L674.4 290.7L669.6 269.4ZM669.6 269.4L674.7 291.9L674 292L669.4 269.4ZM669.4 269.4L673.7 290.3L673 290.4L669.2 269.5ZM669.2 269.5L673.2 291L672.5 291.1L669.1 269.5ZM669.1 269.5L672.6 291.3L671.9 291.4L668.9 269.5ZM668.9 269.5L671.9 291L671.3 291.1L668.7 269.5ZM668.7 269.5L671.4 291.8L670.7 291.9L668.6 269.6ZM668.6 269.6L670.5 289.5L669.9 289.6L668.4 269.6ZM668.4 269.6L670.2 292.3L669.5 292.4L668.2 269.6ZM668.2 269.6L669.6 292.9L668.8 293L668.1 269.6ZM668.1 269.6L668.8 290.3L668.2 290.3L667.9 269.6ZM667.9 269.6L668.2 291.4L667.5 291.4L667.7 269.6ZM667.7 269.6L667.6 292.6L666.9 292.5L667.6 269.6ZM667.6 269.6L667 291.2L666.3 291.2L667.4 269.6ZM667.4 269.6L666.4 290.3L665.7 290.3L667.2 269.6ZM667.2 269.6L665.8 290.2L665.2 290.1L667.1 269.6ZM667.1 269.6L665.1 291.5L664.4 291.5L666.9 269.5ZM666.9 269.6L664.7 289.5L664 289.4L666.7 269.5ZM666.7 269.5L663.6 292.9L662.9 292.8L666.6 269.5ZM666.6 269.5L663 292.4L662.3 292.3L666.4 269.5ZM666.4 269.5L662.4 292L661.8 291.8L666.2 269.4ZM666.2 269.4L661.7 292.4L661 292.3L666.1 269.4ZM666.1 269.4L661.2 291.4L660.6 291.2L665.9 269.4ZM665.9 269.4L660.8 290.4L660.2 290.2L665.7 269.3ZM665.8 269.3L660 291L659.4 290.8L665.6 269.3ZM665.6 269.3L659.5 290.5L658.9 290.3L665.4 269.2ZM665.4 269.2L658.4 292.1L657.7 291.9L665.3 269.2ZM665.3 269.2L657.9 291.2L657.3 291L665.1 269.1ZM665.1 269.1L658.1 289L657.8 288.9L665.1 269.1Z" fill="url(#pNavy)" shape-rendering="crispEdges"/>
<path d="M674.8 228.9L680 204.1L681.3 204.4L675.5 229.1ZM675.7 227.9L680.5 207.5L681.7 207.8L676.5 228.1ZM677.4 224L682.6 203.9L683.9 204.3L678.3 224.3ZM677.1 228.4L682.8 208L684 208.4L677.8 228.6ZM678.7 225.4L684 207.9L685.2 208.3L679.5 225.7ZM678.8 227.7L685.1 208.2L686.4 208.6L679.6 227.9ZM678.9 229.7L687.2 206L688 206.3L679.4 229.9ZM678.6 232L686 211.5L687.2 212L679.3 232.2ZM680.4 229.1L688.3 208.6L689.5 209.1L681.1 229.4ZM680.9 229.9L688.1 212.4L689.2 212.8L681.6 230.2ZM681.5 230.3L690.2 210.4L691.3 210.9L682.2 230.6ZM682.5 229.9L690.1 213.2L691.2 213.8L683.2 230.2ZM682.5 231.4L691.5 213.1L692.6 213.6L683.2 231.7ZM681.3 235.4L691.8 214.9L692.9 215.4L681.8 235.7ZM682.3 234.8L694.2 212.7L695.4 213.3L682.9 235.1ZM683.5 234L696.3 211.4L697.5 212L684.1 234.4ZM684.4 233.7L697.1 212.5L698.2 213.1L685 234.1ZM683.7 236.2L698.2 212.9L699.3 213.6L684.2 236.6ZM684.5 236.1L696.9 217.1L697.9 217.8L685.1 236.5ZM687.4 233L697.8 217.7L698.4 218.1L687.7 233.3ZM672.4 255L686.3 235.1L686.9 235.6L672.5 255.2ZM672.5 255.1L684.1 239.3L684.6 239.7L672.7 255.3ZM672.7 255.2L685.1 239L685.6 239.4L672.8 255.4ZM672.8 255.3L687.7 236.6L688.3 237.1L672.9 255.5ZM672.9 255.5L685.8 240L686.2 240.5L673.1 255.6ZM673 255.6L686.4 240.2L686.9 240.6L673.2 255.7ZM673.2 255.7L688.4 238.9L688.9 239.3L673.3 255.8ZM673.3 255.8L687.2 241.1L687.7 241.5L673.4 255.9ZM673.4 255.9L688.6 240.5L689.1 240.9L673.5 256ZM673.5 256L688.7 241.2L689.2 241.7L673.7 256.2ZM673.7 256.1L689.1 241.7L689.6 242.2L673.8 256.3ZM673.8 256.3L690.9 241L691.3 241.5L673.9 256.4ZM673.9 256.4L688.9 243.5L689.3 244L674 256.5ZM674 256.5L692.9 241L693.3 241.6L674.1 256.7ZM674.1 256.7L689.1 244.8L689.2 244.9L674.1 256.7ZM700.1 239L712.8 230.1L713.5 231.1L700.6 239.7ZM697.3 241.9L714.6 230.3L715.3 231.4L697.7 242.6ZM701.8 239.8L716.2 230.7L716.9 231.8L702.3 240.6ZM701.7 240.9L717.7 231.1L718.4 232.3L702.2 241.7ZM701.6 241.9L718.3 232.2L718.9 233.4L702 242.7ZM700.6 243.4L718.3 233.6L718.9 234.8L701 244.2ZM701.8 243.7L718 235.1L718.6 236.3L702.2 244.4ZM702.2 244.4L718.5 236.2L719 237.4L702.6 245.1ZM702.9 244.9L721.1 236.3L721.6 237.5L703.3 245.7ZM703.7 245.5L718.3 238.9L718.8 240.1L704.1 246.3ZM703.2 246.6L719 239.9L719.5 241L703.6 247.4ZM700.8 248.4L721.2 240.2L721.7 241.5L701.1 249.2ZM703.9 248L720.1 241.9L720.3 242.6L704.1 248.5ZM708.4 246.8L719.5 242.8L719.9 244L708.7 247.8ZM709.9 247.3L718.5 244.3L718.9 245.5L710.3 248.2ZM706.7 249.3L721.2 244.6L721.6 245.9L707 250.1ZM706.2 250.3L722.9 245.4L723.3 246.6L706.4 251.2ZM708 250.7L723.1 246.6L723.5 247.8L708.2 251.6ZM709.5 251.2L719.4 248.7L719.7 249.9L709.7 252.1ZM710.5 251.9L723.9 248.9L724.1 250.1L710.8 252.9ZM708.3 253.3L722.2 250.4L722.4 251.7L708.4 254.2ZM707 254.4L721.9 251.7L722.1 252.9L707.1 255.3ZM711.3 254.6L723.3 252.6L723.5 253.9L711.5 255.5ZM708.1 255.9L720.3 254.2L720.5 255.4L708.2 256.9ZM708.2 256.8L720.7 255.3L720.8 256.5L708.3 257.7ZM710.4 257.4L722.5 256.2L722.6 257.5L710.4 258.4ZM711.7 258.2L725.5 257.2L725.6 258.5L711.8 259.2ZM707.2 259.4L719.9 258.7L720 259.9L707.2 260.3ZM707 260.2L724 259.6L724 260.9L707 261.1ZM708.7 261L724.5 260.8L724.5 262.1L708.7 262ZM707.6 261.9L722.5 262L722.5 263.2L707.6 262.8ZM711.8 262.8L721.2 263.1L721.2 264.3L711.7 263.8ZM707 263.5L723.5 264.3L723.4 265.6L707 264.4ZM710.5 264.6L723.6 265.5L723.5 266.6L710.4 265.4ZM706.4 265L720.7 266.2L720.6 267.4L706.3 265.9ZM701.7 265.3L716.6 266.9L716.4 268L701.6 266ZM701.6 266L718 268.1L717.9 269.3L701.5 266.8ZM703.5 267L719.9 269.5L719.7 270.7L703.4 267.8ZM705 268L721.4 270.9L721.2 272.1L704.8 268.9ZM704.4 268.7L716.7 271.1L716.4 272.2L704.3 269.6ZM705.4 269.7L717.9 272.4L717.6 273.6L705.2 270.6ZM704.6 270.4L721 274.3L720.7 275.5L704.3 271.2ZM700.9 270.2L719.4 275L719.1 276.2L700.7 271ZM703.7 271.8L716.2 275.3L715.9 276.4L703.5 272.6ZM705 273L717.7 276.9L717.4 278L704.7 273.8ZM704.3 273.6L719.2 278.5L718.8 279.7L704.1 274.4ZM701.4 273.4L717.1 279L716.7 280.1L701.1 274.2ZM698.8 273.3L718.2 280.5L717.8 281.7L698.6 274ZM699.4 274.2L715.2 280.5L714.7 281.6L699.1 275ZM699 274.8L715.8 282L715.3 283L698.7 275.5ZM701.7 276.8L717.7 284L717.1 285.1L701.3 277.6ZM698.1 276L713.3 283.2L712.8 284.2L697.7 276.7ZM701.2 278.3L715 285.3L714.5 286.3L700.8 279.1ZM700 278.6L712.8 285.3L712.2 286.3L699.6 279.3ZM701.4 280.2L711.7 286L711.3 286.8L701 280.9ZM695.6 277.7L709.7 285.8L709.2 286.8L695.3 278.3ZM695.4 278.3L708.9 286.5L708.3 287.4L695 278.9ZM692.4 277.2L710.7 288.8L710.1 289.8L692.1 277.8ZM694 279L709.3 289.2L708.6 290.1L693.6 279.6ZM694 279.8L708.2 289.6L707.5 290.6L693.6 280.4ZM693.9 280.5L706.2 289.5L705.6 290.4L693.4 281.1ZM695.3 282.5L704.9 289.8L704.3 290.6L694.8 283.1ZM691.1 280.1L705.1 291.2L704.4 292L690.7 280.6ZM694.3 283.5L704.7 292.1L704 292.9L693.8 284.1ZM690.6 281.3L704.7 293.4L703.9 294.3L690.2 281.8ZM689.9 281.5L704.7 294.8L704 295.7L689.5 282ZM689.8 282.2L701.6 293.3L700.9 294.1L689.3 282.7ZM689.9 283.2L701.5 294.6L700.7 295.3L689.4 283.7ZM688.5 282.8L702.4 296.9L701.5 297.7L688 283.2ZM689.7 285L699.6 295.5L698.9 296.2L689.2 285.5ZM689.3 285.5L699.7 297L698.9 297.7L688.8 286ZM688.4 285.4L699.3 298.1L698.7 298.6L688 285.8ZM685.9 283.2L697.2 296.7L696.4 297.3L685.4 283.6ZM686.7 285.1L697.3 298.3L696.5 299L686.2 285.5ZM687.4 287.1L694.3 296L693.5 296.6L686.8 287.5ZM686.7 287.2L695.9 299.8L695.1 300.4L686.1 287.7ZM684.5 285.2L695.2 300.4L694.3 301.1L683.9 285.6ZM686.2 289L694.3 300.8L693.4 301.4L685.6 289.4ZM683.2 285.5L692.9 300.6L692 301.1L682.7 285.8ZM682.3 285.1L692.4 301.6L691.5 302.2L681.7 285.4ZM683.9 289L689.4 298.5L689.1 298.7L683.6 289.1ZM676.5 283.1L684.8 303.7L683.9 304.1L676 283.3ZM677.1 286L684.6 305.7L683.6 306.1L676.5 286.2ZM675.8 284.1L683.7 306.1L682.6 306.5L675.3 284.3ZM675.4 284.6L682.2 305L681.2 305.3L674.9 284.8ZM676.4 289.2L682.1 307.8L681 308.1L675.7 289.4ZM674.3 284.3L681.2 308.4L680.2 308.7L673.8 284.4ZM675.1 289.4L679.4 305.3L678.7 305.5L674.7 289.5Z" fill="url(#pMix)" shape-rendering="crispEdges"/>
<path d="M667.9 253.6L668.3 232.5L669 232.5L668.1 253.6ZM668.1 253.6L669 229.6L669.8 229.7L668.3 253.6ZM668.3 253.6L669.7 229.7L670.1 229.7L668.4 253.6ZM668.4 253.6L670.5 222.4L671.4 222.5L668.5 253.6ZM668.5 253.6L671.1 225.4L671.9 225.5L668.7 253.7ZM668.7 253.6L671.7 226.4L672.5 226.5L668.9 253.7ZM668.9 253.7L672.7 224.5L673.6 224.6L669 253.7ZM669 253.7L673.5 224.7L674.3 224.9L669.2 253.7ZM669.2 253.7L674.8 222.1L675.7 222.3L669.4 253.8ZM669.4 253.8L674.8 226L675.4 226.1L669.5 253.8ZM669.5 253.8L674.8 228.9L675.5 229.1L669.6 253.8ZM669.6 253.8L675.7 227.9L676.5 228.1L669.8 253.9ZM669.8 253.9L677.4 224L678.3 224.3L670 253.9ZM670 253.9L677.1 228.4L677.8 228.6L670.1 253.9ZM670.1 253.9L678.7 225.4L679.5 225.7L670.3 254ZM670.3 254L678.8 227.7L679.6 227.9L670.4 254ZM670.4 254L678.9 229.7L679.4 229.9L670.5 254.1ZM670.5 254.1L678.6 232L679.3 232.2L670.7 254.1ZM670.7 254.1L680.4 229.1L681.1 229.4L670.9 254.2ZM670.8 254.2L680.9 229.9L681.6 230.2L671 254.3ZM671 254.3L681.5 230.3L682.2 230.6L671.2 254.3ZM671.2 254.3L682.5 229.9L683.2 230.2L671.3 254.4ZM671.3 254.4L682.5 231.4L683.2 231.7L671.5 254.5ZM671.5 254.5L681.3 235.4L681.8 235.7L671.6 254.6ZM671.6 254.6L682.3 234.8L682.9 235.1L671.8 254.7ZM671.8 254.6L683.5 234L684.1 234.4L671.9 254.7ZM671.9 254.7L684.4 233.7L685 234.1L672.1 254.8ZM672 254.8L683.7 236.2L684.2 236.6L672.2 254.9ZM672.2 254.9L684.5 236.1L685.1 236.5L672.3 255ZM672.3 255L687.4 233L687.7 233.3L672.4 255.1ZM720.7 266.2L737.7 267.7L737.6 269.3L720.6 267.4ZM716.6 266.9L739.2 269.4L739 271L716.4 268ZM718 268.1L738.3 270.8L738.1 272.4L717.9 269.3ZM719.9 269.5L740.5 272.6L740.2 274.2L719.7 270.7ZM721.4 270.9L736.3 273.4L736 275L721.2 272.1ZM716.7 271.1L738.2 275.3L737.9 276.9L716.4 272.2ZM717.9 272.4L738.6 276.9L738.2 278.5L717.6 273.6ZM721 274.3L737.6 278.2L737.2 279.8L720.7 275.5ZM719.4 275L739.3 280.2L738.9 281.8L719.1 276.2ZM716.2 275.3L739.4 281.9L738.9 283.5L715.9 276.4ZM717.7 276.9L738.3 283.2L737.8 284.8L717.4 278ZM719.2 278.5L735.3 283.8L734.8 285.3L718.8 279.7ZM717.1 279L737.2 286.1L736.7 287.6L716.7 280.1ZM718.2 280.5L732.7 286L732.2 287.5L717.8 281.7ZM715.2 280.5L736.3 289L735.6 290.5L714.7 281.6ZM715.8 282L735.3 290.3L734.6 291.8L715.3 283ZM717.7 284L733.4 291.1L732.7 292.6L717.1 285.1ZM713.3 283.2L733 292.6L732.3 294L712.8 284.2ZM715 285.3L732.3 293.9L731.6 295.4L714.5 286.3ZM712.8 285.3L730.9 294.8L730.1 296.3L712.2 286.3ZM711.7 286L732.6 297.5L731.9 298.8L711.3 286.8ZM709.7 285.8L736.9 301.5L735.9 303L709.2 286.8ZM708.9 286.5L730.8 299.7L729.9 301.1L708.3 287.4ZM710.7 288.8L732.7 302.8L731.7 304.2L710.1 289.8ZM709.3 289.2L731.2 303.7L730.2 305.2L708.6 290.1ZM708.2 289.6L730.6 305.3L729.6 306.7L707.5 290.6ZM706.2 289.5L726.5 304.2L725.5 305.6L705.6 290.4ZM704.9 289.8L731.2 309.8L730.1 311.2L704.3 290.6ZM705.1 291.2L727.2 308.7L726.1 310L704.4 292ZM704.7 292.1L728.3 311.7L727.2 313L704 292.9ZM704.7 293.4L724.2 310.3L723.1 311.6L703.9 294.3ZM704.7 294.8L726.8 314.7L725.6 316.1L704 295.7ZM701.6 293.3L720.4 311L719.3 312.2L700.9 294.1ZM701.5 294.6L723.2 315.8L721.9 317.1L700.7 295.3ZM702.4 296.9L721.6 316.6L720.4 317.8L701.5 297.7ZM699.6 295.5L717.8 314.8L716.5 315.9L698.9 296.2ZM699.7 297L717 316.3L715.8 317.4L698.9 297.7ZM699.3 298.1L716.8 318.4L715.9 319.1L698.7 298.6ZM697.2 296.7L711.5 313.7L710.3 314.6L696.4 297.3ZM697.3 298.3L712.2 316.8L710.9 317.8L696.5 299ZM694.3 296L710.9 317.6L709.6 318.6L693.5 296.6ZM695.9 299.8L710.2 319.1L708.9 320.1L695.1 300.4ZM695.2 300.4L707.5 317.9L706.2 318.8L694.3 301.1ZM694.3 300.8L706 318.2L704.7 319.1L693.4 301.4ZM692.9 300.6L704.5 318.6L703.2 319.4L692 301.1ZM692.4 301.6L703.7 320L702.4 320.8L691.5 302.2ZM689.4 298.5L703 321.6L702.5 321.9L689.1 298.7ZM682.4 286.8L695.6 309.8L694.5 310.4L681.8 287.1ZM680.4 284.6L693.8 309L692.8 309.6L679.9 284.8ZM681.9 288.6L694.1 311.9L692.9 312.5L681.3 288.9ZM679.2 284.6L693.5 313.4L692.3 314L678.7 284.9ZM680.4 288.3L691.7 312.3L690.5 312.8L679.8 288.6ZM679.6 288.2L690.6 312.8L689.4 313.3L679 288.5ZM677.7 285L689 312.1L688.2 312.4L677.3 285.2Z" fill="url(#pRed)" shape-rendering="crispEdges"/>
<path d="M611.6 195.8h1.5v1.5h-1.5zM612.9 186.7h2.0v2.0h-2.0zM611.6 177.3h1.2v1.2h-1.2zM658.3 164.8h2.0v2.0h-2.0zM623 173.1h1.2v1.2h-1.2zM649.1 166.2h1.5v1.5h-1.5zM654.8 166.4h1.2v1.2h-1.2zM631 169.4h1.2v1.2h-1.2zM629.9 171.7h1.2v1.2h-1.2zM647.7 157.1h1.2v1.2h-1.2zM629.9 163.6h1.5v1.5h-1.5zM627.4 166.9h1.5v1.5h-1.5zM643.1 166.9h1.5v1.5h-1.5zM620.5 170.3h2.0v2.0h-2.0zM638.9 165h1.2v1.2h-1.2zM626.8 206h2.0v2.0h-2.0zM615.7 187.9h1.2v1.2h-1.2zM643 226.2h1.5v1.5h-1.5zM647.9 235.3h1.2v1.2h-1.2zM694.7 205.7h1.2v1.2h-1.2zM706.5 215.5h1.2v1.2h-1.2zM710.1 204.5h2.0v2.0h-2.0zM681.2 186.1h1.2v1.2h-1.2zM720.6 202.1h1.2v1.2h-1.2zM691.7 194.3h2.0v2.0h-2.0zM710.2 211.2h2.0v2.0h-2.0zM692.9 192.3h2.0v2.0h-2.0zM711 199.3h2.0v2.0h-2.0zM685.3 203.5h1.2v1.2h-1.2zM724.2 210.5h1.5v1.5h-1.5zM681.2 198h1.5v1.5h-1.5zM694.3 202.2h1.2v1.2h-1.2zM700.2 210.1h1.2v1.2h-1.2zM675.9 202.1h2.0v2.0h-2.0zM688.7 199.3h2.0v2.0h-2.0zM701.4 207.5h1.2v1.2h-1.2zM715.3 208.5h1.5v1.5h-1.5zM719.3 198h1.5v1.5h-1.5zM703.8 203.5h1.2v1.2h-1.2zM697.5 209.4h1.2v1.2h-1.2zM693.2 206.4h1.2v1.2h-1.2zM717.2 213.1h1.5v1.5h-1.5zM685.1 193.7h1.2v1.2h-1.2zM696.6 190.1h1.5v1.5h-1.5zM679.7 196.9h1.2v1.2h-1.2zM687.4 204h1.5v1.5h-1.5zM675.2 184.8h2.0v2.0h-2.0zM691 206.2h1.5v1.5h-1.5zM739.5 229.7h2.0v2.0h-2.0zM735.2 272h1.2v1.2h-1.2zM739.4 248.4h1.2v1.2h-1.2zM734.7 266.3h1.2v1.2h-1.2zM734.5 254.9h1.2v1.2h-1.2zM733.9 222.5h2.0v2.0h-2.0zM732.5 226.2h1.2v1.2h-1.2zM730.5 249.4h1.2v1.2h-1.2zM731.1 258.3h1.2v1.2h-1.2zM737.1 263h1.2v1.2h-1.2zM747.1 274.1h1.2v1.2h-1.2zM734.6 233.9h2.0v2.0h-2.0zM741.9 222.9h1.2v1.2h-1.2zM734.7 227.6h1.2v1.2h-1.2zM730.7 262.2h2.0v2.0h-2.0zM738.2 269.3h2.0v2.0h-2.0zM731.8 237.6h1.5v1.5h-1.5zM743.2 250.6h2.0v2.0h-2.0zM742.3 281h1.2v1.2h-1.2zM738 316.1h1.5v1.5h-1.5zM729.7 314.7h1.2v1.2h-1.2zM723.9 325.9h1.2v1.2h-1.2zM753.5 298.8h1.2v1.2h-1.2zM746 277.6h1.2v1.2h-1.2zM731.7 314.3h1.2v1.2h-1.2zM739 300.9h1.2v1.2h-1.2zM735 308.4h1.5v1.5h-1.5zM739.2 303.6h1.2v1.2h-1.2zM579.6 279.6h1.2v1.2h-1.2zM578.3 281.6h1.2v1.2h-1.2zM583.2 268.8h1.5v1.5h-1.5zM583.4 273.5h1.5v1.5h-1.5zM583.8 269.2h2.0v2.0h-2.0zM579 281.9h2.0v2.0h-2.0zM572.4 276.9h1.2v1.2h-1.2zM581.3 268.3h1.5v1.5h-1.5zM583.3 280h1.2v1.2h-1.2zM585.6 280.3h1.5v1.5h-1.5zM574 268.9h1.5v1.5h-1.5zM575.8 269.6h1.2v1.2h-1.2zM650.9 285.8h2.0v2.0h-2.0zM652 282.9h1.2v1.2h-1.2zM648 296.2h1.2v1.2h-1.2zM652.1 285.3h2.0v2.0h-2.0z" fill="#00007c" shape-rendering="crispEdges"/>
<path d="M614.7 184.6h2.0v2.0h-2.0zM613.5 180h1.2v1.2h-1.2zM608.9 195.9h1.5v1.5h-1.5zM614.7 185.3h1.2v1.2h-1.2zM604.2 177.1h2.0v2.0h-2.0zM617.3 172h1.2v1.2h-1.2zM612.8 187h2.0v2.0h-2.0zM617.2 187.2h2.0v2.0h-2.0zM615.8 183h1.5v1.5h-1.5zM601.2 186.7h1.2v1.2h-1.2zM617.3 186.1h2.0v2.0h-2.0zM641.5 160.9h1.2v1.2h-1.2zM622.3 162.5h1.2v1.2h-1.2zM653.8 164.2h1.2v1.2h-1.2zM650.1 162.4h1.5v1.5h-1.5zM650.1 160.8h1.5v1.5h-1.5zM629.5 165.6h1.5v1.5h-1.5zM649.9 166.4h1.2v1.2h-1.2zM640.7 162.8h2.0v2.0h-2.0zM639.5 168.8h2.0v2.0h-2.0zM635.5 160.6h2.0v2.0h-2.0zM637.3 169.1h1.5v1.5h-1.5zM623.8 164.8h1.5v1.5h-1.5zM640.1 160.8h2.0v2.0h-2.0zM637.8 161.1h1.5v1.5h-1.5zM654.8 165.4h1.5v1.5h-1.5zM635.3 161.1h2.0v2.0h-2.0zM632.8 169h1.2v1.2h-1.2zM634.6 168.8h2.0v2.0h-2.0zM641.3 159.5h2.0v2.0h-2.0zM639.3 159.2h1.2v1.2h-1.2zM624.2 172h1.2v1.2h-1.2zM630.4 173.1h1.5v1.5h-1.5zM621.9 167.9h1.2v1.2h-1.2zM630.9 171.8h2.0v2.0h-2.0zM635.9 168.7h1.2v1.2h-1.2zM619.6 197h1.2v1.2h-1.2zM620.4 195.4h1.2v1.2h-1.2zM639.7 224.8h1.5v1.5h-1.5zM650.2 236.6h1.2v1.2h-1.2zM650.2 237.2h1.2v1.2h-1.2zM647 234.1h1.2v1.2h-1.2zM704 200.6h1.2v1.2h-1.2zM700.7 187h1.2v1.2h-1.2zM727.5 203.5h1.5v1.5h-1.5zM725.2 209h1.5v1.5h-1.5zM724.8 202.7h1.2v1.2h-1.2zM683.1 194.1h1.2v1.2h-1.2zM693.9 197.1h1.2v1.2h-1.2zM671.9 196.8h1.2v1.2h-1.2zM711.3 218.7h1.5v1.5h-1.5zM686.8 201.7h1.5v1.5h-1.5zM680.4 202.8h1.2v1.2h-1.2zM690.5 205.7h1.2v1.2h-1.2zM710 197.7h2.0v2.0h-2.0zM678.8 195.1h1.5v1.5h-1.5zM708.2 194.6h1.2v1.2h-1.2zM717.4 199.3h1.2v1.2h-1.2zM696.1 207.9h1.2v1.2h-1.2zM720.6 214.2h1.5v1.5h-1.5zM695 195.3h1.5v1.5h-1.5zM705.2 184.4h2.0v2.0h-2.0zM575.7 271h1.2v1.2h-1.2zM571 272.3h1.2v1.2h-1.2zM583.1 269h1.5v1.5h-1.5zM571.8 275.1h1.2v1.2h-1.2zM583 271.4h1.2v1.2h-1.2zM585.3 278.1h1.5v1.5h-1.5zM574.5 269.9h1.5v1.5h-1.5zM579.5 273.4h1.2v1.2h-1.2zM583.3 280.7h1.5v1.5h-1.5zM583.1 277.1h1.2v1.2h-1.2zM584.7 285h1.5v1.5h-1.5zM583.2 278.6h1.2v1.2h-1.2zM581.7 274.5h1.2v1.2h-1.2zM575.9 282.3h2.0v2.0h-2.0zM583.3 274.6h1.2v1.2h-1.2zM586 280.8h2.0v2.0h-2.0zM582.2 286.1h1.2v1.2h-1.2zM579.5 274.8h1.5v1.5h-1.5zM583.3 271h1.2v1.2h-1.2zM580.6 274.7h1.5v1.5h-1.5zM583.9 278.8h2.0v2.0h-2.0zM584.7 281h1.2v1.2h-1.2zM573 271.9h1.2v1.2h-1.2z" fill="#0000c4" shape-rendering="crispEdges"/>
<path d="M623.7 174.1h1.2v1.2h-1.2zM651.5 165.9h1.5v1.5h-1.5zM635.4 170.7h2.0v2.0h-2.0zM642.7 162.2h1.5v1.5h-1.5zM645 162.6h1.5v1.5h-1.5zM625.3 175.3h2.0v2.0h-2.0zM655.6 164.3h1.5v1.5h-1.5zM657.5 159.4h1.2v1.2h-1.2zM696.3 202.6h1.2v1.2h-1.2zM679.3 198.9h1.2v1.2h-1.2zM714.4 189.7h1.2v1.2h-1.2zM702.9 212.5h1.2v1.2h-1.2zM730 204.6h1.5v1.5h-1.5zM684 202.2h2.0v2.0h-2.0zM676.8 197.3h1.5v1.5h-1.5zM694.1 182.9h1.5v1.5h-1.5zM682.2 187.2h1.2v1.2h-1.2zM679.8 183.8h1.5v1.5h-1.5zM676.8 201.6h2.0v2.0h-2.0zM748.1 258.3h2.0v2.0h-2.0zM742.6 250.9h1.2v1.2h-1.2zM741.6 274.6h1.5v1.5h-1.5zM720.2 224.9h1.2v1.2h-1.2zM726.1 239.9h2.0v2.0h-2.0zM731 237.1h1.5v1.5h-1.5zM726.7 239.7h1.2v1.2h-1.2zM738.9 227.1h1.2v1.2h-1.2zM738 227h2.0v2.0h-2.0zM727.4 220.9h1.2v1.2h-1.2zM740.2 233.5h2.0v2.0h-2.0zM730.4 258.4h2.0v2.0h-2.0zM728.3 243.9h1.2v1.2h-1.2zM731 247.7h1.5v1.5h-1.5zM734.4 272.4h1.2v1.2h-1.2zM728.7 249.6h1.5v1.5h-1.5zM733.7 249h1.2v1.2h-1.2zM720.4 228.4h1.5v1.5h-1.5zM744.5 244.9h1.2v1.2h-1.2zM729.2 233.7h1.2v1.2h-1.2zM731.9 234h2.0v2.0h-2.0zM726.1 236.6h1.2v1.2h-1.2zM743.6 310.6h1.5v1.5h-1.5zM740.8 282.6h2.0v2.0h-2.0zM742.5 305h1.2v1.2h-1.2zM730.2 305.2h1.2v1.2h-1.2zM738.1 294.6h2.0v2.0h-2.0zM745.9 278.8h1.2v1.2h-1.2zM740.7 318.9h2.0v2.0h-2.0zM731.6 315.6h1.2v1.2h-1.2zM730.8 314h1.2v1.2h-1.2zM753.3 292.1h1.2v1.2h-1.2zM738.3 295.6h1.2v1.2h-1.2zM738.8 290h2.0v2.0h-2.0zM748.7 305.4h1.5v1.5h-1.5zM737.8 299.6h2.0v2.0h-2.0zM736.7 293.9h1.5v1.5h-1.5zM750.7 291.5h2.0v2.0h-2.0zM741.3 285.7h1.5v1.5h-1.5zM722.9 315.7h2.0v2.0h-2.0zM751.2 280.7h1.5v1.5h-1.5zM741.9 289.6h1.5v1.5h-1.5zM742.6 282.3h1.2v1.2h-1.2zM725.3 330h1.2v1.2h-1.2zM724.8 317h1.2v1.2h-1.2zM745.4 293.1h1.2v1.2h-1.2zM745.8 286.2h1.2v1.2h-1.2zM743.7 286.8h1.2v1.2h-1.2zM738.7 303.7h2.0v2.0h-2.0zM729.3 307.4h1.5v1.5h-1.5zM736.6 303.6h2.0v2.0h-2.0zM735.8 302h1.5v1.5h-1.5zM651.6 275h1.2v1.2h-1.2zM650.9 291h1.2v1.2h-1.2zM657.5 276.1h1.5v1.5h-1.5zM657.2 271.7h1.2v1.2h-1.2zM658.9 270.8h1.2v1.2h-1.2zM659.5 276.8h1.2v1.2h-1.2zM640.6 289.2h1.2v1.2h-1.2zM659.6 274.2h2.0v2.0h-2.0z" fill="#ff1c00" shape-rendering="crispEdges"/>
<path d="M680.3 251.6L738.2 205.6L741.2 209.5L680.8 252.3ZM681.1 230.3L699.1 188L700.3 188.5L681.6 230.5ZM686.8 228.7L707.8 192.3L708.8 192.9L687.3 229ZM686.3 238L717.1 198.6L717.9 199.3L686.6 238.2ZM691.4 237.1L723.4 204.1L724.4 205L691.8 237.6ZM679.2 219.1L688.5 184.3L689.6 184.6L679.8 219.3ZM674.5 214.1L678.9 182.4L679.8 182.5L675 214.1ZM708.4 240L747.3 219.3L747.8 220.5L708.7 240.6ZM716.1 248.7L754.7 238.3L755.1 239.5L716.3 249.3Z" fill="#fff" shape-rendering="crispEdges"/>
<defs><clipPath id="b0"><path d="M580.2 105.6L584.2 104.8L590.2 108.2L595.2 111.2L597.8 115.2L596.2 119.2L592.2 119.6L588.2 118.8L585.2 116.2L583.2 111.2Z"/></clipPath><clipPath id="b1"><path d="M616.5 117.4L619.5 118.4L621.5 122.4L623.5 119.4L626.5 121.4L629.5 118.4L632.5 120.4L635.5 113.4L640.5 112.4L643.5 116.4L644.5 122.4L642.5 126.4L639.5 128.4L639.1 140.4L635.9 140.4L635.1 132.4L631.5 131.4L627.5 133L623.5 131.8L621.5 127.4L618.5 124.4Z"/></clipPath><clipPath id="b2"><path d="M608.6 126.3L611.8 125.9L614.2 128.7L620.2 127.3L621.2 130.7L618.2 134.3L614.2 133.3L610.2 133.9L608.2 130.7Z"/></clipPath><clipPath id="b3"><path d="M645 104.1L647.4 104.1L647.4 107.5L645 107.5Z"/></clipPath><clipPath id="b4"><path d="M546.4 131.9L550.4 130.7L554 133.3L554.4 138.3L556 141.9L553.4 141.9L551.4 138.3L548 136.3Z"/></clipPath><clipPath id="b5"><path d="M563 134.2L567 133.2L569.4 137.2L570.6 140.8L567 141.6L564 139.2Z"/></clipPath><clipPath id="b6"><path d="M546.4 150.4L551 148.4L554 145.4L559 145.4L563 148.4L561 151.8L558 153.4L557 156.4L552 157L548 156.4L545.6 153.4Z"/></clipPath><clipPath id="b7"><path d="M573.8 147.1L576.8 145.9L579.4 140.5L580.8 137.1L583.4 137.9L584.2 140.5L586.8 142.5L587.4 147.1L585.4 150.5L580.8 152.9L577.4 151.1L574.8 149.1Z"/></clipPath><clipPath id="b8"><path d="M588.8 139.7L590.4 138.3L593.2 140.3L595.8 144.3L596 147.1L593.2 148.1L590.4 145.7L589.2 143.1Z"/></clipPath><clipPath id="b9"><path d="M590 154.8L595 153.4L597 152.2L601 154.8L602.6 159.4L599 160.8L596 159.4L593 160.8L591 157.8Z"/></clipPath><clipPath id="b10"><path d="M604.6 150.3L607.2 149.7L610.2 156.3L608.6 158.3L606.2 155.3Z"/></clipPath><clipPath id="b11"><path d="M613 151.1L615.8 151.1L616.4 155.7L613.8 155.7Z"/></clipPath><clipPath id="b12"><path d="M621.3 150.1L625.3 148.7L628.3 150.7L632.3 147.7L637.3 148.7L640.3 151.7L642.3 156.7L640.3 158.7L636.3 156.7L632.3 159.3L629.3 158.7L626.3 161.3L623.3 158.7L621.9 154.1Z"/></clipPath><clipPath id="b13"><path d="M640.6 148.2L643.6 149.2L646 156.2L647.6 159.2L644.6 160.2L641.6 155.2Z"/></clipPath><clipPath id="b14"><path d="M568.5 165.7L572.5 166.1L574.5 167.7L572.1 169.3L569.3 168.7Z"/></clipPath><clipPath id="b15"><path d="M648.4 113L651.8 111.4L654.4 113.4L653.8 118.4L650.8 119.8L648.8 117.4Z"/></clipPath><clipPath id="b16"><path d="M652.1 105.4L655.5 105.4L655.5 107.8L652.1 107.8Z"/></clipPath><clipPath id="b17"><path d="M658.5 108.7L660.5 108.7L660.9 112.7L658.9 112.7Z"/></clipPath><clipPath id="b18"><path d="M691 94.3L692.4 92.3L695 91.9L697.6 93.5L698 96.3L696 98.3L693.2 98.3L691.2 96.7Z"/></clipPath><clipPath id="b19"><path d="M711 93L713.6 93L713.6 95.8L711 95.8Z"/></clipPath><clipPath id="b20"><path d="M716 114L720 111L722.6 114L722 119L720 121.6L717 118Z"/></clipPath><clipPath id="b21"><path d="M730 109.5L734 107.5L736 112.5L737 121.5L734 123.1L732 118.5L729.6 115.5Z"/></clipPath><clipPath id="b22"><path d="M721.8 124L725 122.4L729.4 123.4L730.4 126.4L727.4 128L723 127.4Z"/></clipPath><clipPath id="b23"><path d="M733 123.6L735.4 123L735.4 127L733 127.6Z"/></clipPath><clipPath id="b24"><path d="M726.7 143.2L729.7 141.2L734.7 140.2L735.7 142.2L732.7 144.8L727.7 146.2Z"/></clipPath><clipPath id="b25"><path d="M649.9 138.7L653.9 137.3L655.9 141.3L654.9 145.7L650.9 146.7L649.3 142.7Z"/></clipPath><clipPath id="b26"><path d="M646.7 153L648.7 147L651.5 148L652.1 156L647.5 157Z"/></clipPath><clipPath id="b27"><path d="M682.3 142.9L684.9 142.3L684.9 150.9L682.3 151.5Z"/></clipPath><clipPath id="b28"><path d="M685.9 151.8L688.5 147.8L691.1 149.8L691.9 157.8L689.5 159.8L687.1 156.8Z"/></clipPath><clipPath id="b29"><path d="M702.8 150.2L704.8 149.8L704.2 153.8L702.4 153.8Z"/></clipPath><clipPath id="b30"><path d="M712.3 169.1L714.3 164.1L718.3 161.7L721.9 163.1L720.7 167.7L716.3 171.1L713.3 171.1Z"/></clipPath><clipPath id="b31"><path d="M697.8 176.2L699.2 171.2L702.8 168.6L705.2 170.6L703.8 175.8L700.4 178.6L698.2 178.2Z"/></clipPath><clipPath id="b32"><path d="M666 180.9L668 180.3L668.8 186.9L667.4 189.5L666 186.9Z"/></clipPath><clipPath id="b33"><path d="M707 187.4L710 183.4L714 185.4L717 181.4L721 182.4L724 186.4L729 188.4L733.6 191.4L732 196.4L727 198.4L723 197.4L720 201.4L716 201L714 197.4L710 200.4L707.6 199.4L709 193.4Z"/></clipPath><clipPath id="b34"><path d="M740.2 197.4L745.6 191.4L748.2 193.4L742.6 199.4Z"/></clipPath><clipPath id="b35"><path d="M710 214.3L715 207.9L718 209.3L717 214.3L722 213.3L718 217.9L714 219.3L712 222.3L709.4 221.3Z"/></clipPath><clipPath id="b36"><path d="M726.5 211.1L731.9 206.1L734.5 208.5L728.9 213.7Z"/></clipPath><clipPath id="b37"><path d="M717.6 226.7L726 218.7L731 218.7L721 228.1Z"/></clipPath><clipPath id="b38"><path d="M727.6 223.5L731.6 221.5L738.6 222.5L739.6 225.5L736 228.1L737.6 230.5L744.6 231.5L752.6 231.5L751.6 234.1L744.6 236.5L737.6 237.5L729.6 236.5L725.2 233.5L726.6 229.5L730.6 227.5Z"/></clipPath><clipPath id="b39"><path d="M767.2 226.7L775.2 225.1L775.2 227.1L767.8 228.7Z"/></clipPath><clipPath id="b40"><path d="M774.8 222.8L782.8 220.8L788.8 220.8L787.8 223.8L783.8 225.4L781.8 228.8L779.4 228.2L780.2 224.8L775.4 224.2Z"/></clipPath><clipPath id="b41"><path d="M673.5 196.4L676.3 196L676.3 205.4L673.5 206.4Z"/></clipPath><clipPath id="b42"><path d="M485.8 274.2L492.4 273.4L493.4 278.8L486.4 279.4Z"/></clipPath><clipPath id="b43"><path d="M500.1 276.8L504.5 274.4L508.1 276.8L507.5 283.8L511.5 287.8L516.5 290.8L514.5 294.8L512.1 295.8L516.5 297.8L518.5 302.8L517.5 309.8L512.5 311.2L507.5 310.4L504.5 305.8L505.5 301.8L502.9 296.8L504.9 292.8L500.9 286.8L499.5 280.8Z"/></clipPath><clipPath id="b44"><path d="M513.8 317.7L516.8 315.9L520.2 316.3L522.2 319.1L521.4 322.7L517.8 324.3L514.8 323.1L513.4 320.7Z"/></clipPath><clipPath id="b45"><path d="M513.7 324.1L529.7 318.7L548.7 311.3L542.7 316.7L537.7 319.7L536.7 322.7L531.7 326.1L526.7 325.7L524.7 322.1Z"/></clipPath><clipPath id="b46"><path d="M524.5 353L531.5 347.6L532.5 353Z"/></clipPath><clipPath id="b47"><path d="M535.3 346.7L539.3 343.7L541.9 346.7L538.3 348.7Z"/></clipPath><clipPath id="b48"><path d="M551.7 287.5L560.1 284.1L561.1 287.5L553.1 289.5Z"/></clipPath><clipPath id="b49"><path d="M615 296.6L617.4 291L623 286.6L625.4 288.6L621 295L616 297.4Z"/></clipPath><clipPath id="b50"><path d="M654.7 278.3L657.7 273.3L661.3 271.3L662.7 267.3L664.7 267.7L665.3 272.3L669.7 272.3L670.7 277.3L673.7 279.3L676.7 285.3L682.1 290.3L684.1 296.3L682.1 299.7L678.7 296.3L677.3 291.3L672.7 286.3L668.7 283.3L664.7 285.3L659.7 282.3L655.7 280.3Z"/></clipPath><clipPath id="b51"><path d="M684.9 307.1L688.5 303.1L693.5 301.1L697.5 305.1L698.9 310.1L695.5 312.5L692.1 313.1L690.5 317.1L688.1 317.1L686.5 312.1Z"/></clipPath><clipPath id="b52"><path d="M697.9 302.8L699.9 302.2L703.9 308.8L702.3 309.6Z"/></clipPath><clipPath id="b53"><path d="M697.3 312.6L701.7 313.2L704.3 310.6L707.3 307.6L710.9 310.6L713.7 314.6L715.3 318.6L712.3 321.6L709.3 324.6L705.7 324.6L703.3 320.6L699.7 318.6Z"/></clipPath><clipPath id="b54"><path d="M720.5 310.4L723.9 309.8L726.9 313.2L729.9 316.8L727.9 318.8L724.5 316.4L721.3 313.2Z"/></clipPath><clipPath id="b55"><path d="M727.9 310.1L730.9 309.5L734.9 314.7L735.9 317.5L732.9 317.1L729.9 313.5Z"/></clipPath><clipPath id="b56"><path d="M720.4 326.6L722.8 319.6L726.4 318.6L729.4 323.2L733.4 325.6L737.4 330.6L734.4 334L729.4 336L725.4 335.2L721.4 331.6Z"/></clipPath><clipPath id="b57"><path d="M753.2 349.5L757.2 343.5L763.2 339.5L773.2 337.1L776.2 341.5L777.2 345.5L772.2 347.5L766.2 350.5L761.2 353.9L757.2 353.5L753.6 351.9Z"/></clipPath><clipPath id="b58"><path d="M722.7 279.7L725.7 279.1L731.7 282.3L730.7 283.7L724.7 283.1Z"/></clipPath><clipPath id="b59"><path d="M673.3 90.2L679.3 90.2L679.3 94.6L672.7 95.2Z"/></clipPath><clipPath id="b60"><path d="M644.7 104.7L658.7 105.1L658.7 109.7L645.1 108.7Z"/></clipPath><clipPath id="b61"><path d="M691.8 175.4L694.2 175.8L689.8 193.4L687.8 193Z"/></clipPath><clipPath id="b62"><path d="M714.5 146.2L717.1 146.2L717.1 151.2L714.5 151.2Z"/></clipPath><clipPath id="b63"><path d="M659.5 157L661.5 157L661.5 161.6L659.5 161.6Z"/></clipPath><clipPath id="b64"><path d="M656.1 143.1L658.5 143.1L658.5 146.5L656.1 146.5Z"/></clipPath><clipPath id="b65"><path d="M576.4 287.1L579.6 287.1L579.6 289.9L576.4 289.9Z"/></clipPath><clipPath id="b66"><path d="M513.5 299.2L520.5 298.8L521.5 304.2L514.5 305.6Z"/></clipPath></defs>
<path d="M576.4 98.4L580.4 97.6L586.4 101L591.4 104L594 108L592.4 112L588.4 112.4L584.4 111.6L581.4 109L579.4 104ZM613.4 106L616.4 107L618.4 111L620.4 108L623.4 110L626.4 107L629.4 109L632.4 102L637.4 101L640.4 105L641.4 111L639.4 115L636.4 117L636 129L632.8 129L632 121L628.4 120L624.4 121.6L620.4 120.4L618.4 116L615.4 113ZM606.8 122L610 121.6L612.4 124.4L618.4 123L619.4 126.4L616.4 130L612.4 129L608.4 129.6L606.4 126.4ZM644.8 102.6L647.2 102.6L647.2 106L644.8 106ZM542.4 127.6L546.4 126.4L550 129L550.4 134L552 137.6L549.4 137.6L547.4 134L544 132ZM560.4 131L564.4 130L566.8 134L568 137.6L564.4 138.4L561.4 136ZM542.8 147L547.4 145L550.4 142L555.4 142L559.4 145L557.4 148.4L554.4 150L553.4 153L548.4 153.6L544.4 153L542 150ZM570.4 142.6L573.4 141.4L576 136L577.4 132.6L580 133.4L580.8 136L583.4 138L584 142.6L582 146L577.4 148.4L574 146.6L571.4 144.6ZM586.4 136L588 134.6L590.8 136.6L593.4 140.6L593.6 143.4L590.8 144.4L588 142L586.8 139.4ZM587.4 151L592.4 149.6L594.4 148.4L598.4 151L600 155.6L596.4 157L593.4 155.6L590.4 157L588.4 154ZM602.8 147L605.4 146.4L608.4 153L606.8 155L604.4 152ZM612 149L614.8 149L615.4 153.6L612.8 153.6ZM619.4 144.4L623.4 143L626.4 145L630.4 142L635.4 143L638.4 146L640.4 151L638.4 153L634.4 151L630.4 153.6L627.4 153L624.4 155.6L621.4 153L620 148.4ZM639.4 143L642.4 144L644.8 151L646.4 154L643.4 155L640.4 150ZM566.8 164L570.8 164.4L572.8 166L570.4 167.6L567.6 167ZM648 109.6L651.4 108L654 110L653.4 115L650.4 116.4L648.4 114ZM652 104L655.4 104L655.4 106.4L652 106.4ZM658.4 107L660.4 107L660.8 111L658.8 111ZM691.4 91.6L692.8 89.6L695.4 89.2L698 90.8L698.4 93.6L696.4 95.6L693.6 95.6L691.6 94ZM711.4 91.6L714 91.6L714 94.4L711.4 94.4ZM717.4 110L721.4 107L724 110L723.4 115L721.4 117.6L718.4 114ZM732.4 104L736.4 102L738.4 107L739.4 116L736.4 117.6L734.4 113L732 110ZM722.8 121.6L726 120L730.4 121L731.4 124L728.4 125.6L724 125ZM734 121.6L736.4 121L736.4 125L734 125.6ZM728.4 140L731.4 138L736.4 137L737.4 139L734.4 141.6L729.4 143ZM649.4 135L653.4 133.6L655.4 137.6L654.4 142L650.4 143L648.8 139ZM646 149L648 143L650.8 144L651.4 152L646.8 153ZM682.8 139L685.4 138.4L685.4 147L682.8 147.6ZM686.8 147L689.4 143L692 145L692.8 153L690.4 155L688 152ZM703.4 148.4L705.4 148L704.8 152L703 152ZM714.4 165L716.4 160L720.4 157.6L724 159L722.8 163.6L718.4 167L715.4 167ZM699.4 172L700.8 167L704.4 164.4L706.8 166.4L705.4 171.6L702 174.4L699.8 174ZM666 177L668 176.4L668.8 183L667.4 185.6L666 183ZM712.4 180L715.4 176L719.4 178L722.4 174L726.4 175L729.4 179L734.4 181L739 184L737.4 189L732.4 191L728.4 190L725.4 194L721.4 193.6L719.4 190L715.4 193L713 192L714.4 186ZM743 195L748.4 189L751 191L745.4 197ZM714.4 210L719.4 203.6L722.4 205L721.4 210L726.4 209L722.4 213.6L718.4 215L716.4 218L713.8 217ZM729 209L734.4 204L737 206.4L731.4 211.6ZM723 223L731.4 215L736.4 215L726.4 224.4ZM737.4 219L741.4 217L748.4 218L749.4 221L745.8 223.6L747.4 226L754.4 227L762.4 227L761.4 229.6L754.4 232L747.4 233L739.4 232L735 229L736.4 225L740.4 223ZM770.4 225.6L778.4 224L778.4 226L771 227.6ZM780.4 221L788.4 219L794.4 219L793.4 222L789.4 223.6L787.4 227L785 226.4L785.8 223L781 222.4ZM674 192L676.8 191.6L676.8 201L674 202ZM482.8 274.4L489.4 273.6L490.4 279L483.4 279.6ZM494 278L498.4 275.6L502 278L501.4 285L505.4 289L510.4 292L508.4 296L506 297L510.4 299L512.4 304L511.4 311L506.4 312.4L501.4 311.6L498.4 307L499.4 303L496.8 298L498.8 294L494.8 288L493.4 282ZM510.4 319L513.4 317.2L516.8 317.6L518.8 320.4L518 324L514.4 325.6L511.4 324.4L510 322ZM499.4 330.4L515.4 325L534.4 317.6L528.4 323L523.4 326L522.4 329L517.4 332.4L512.4 332L510.4 328.4ZM521.4 355L528.4 349.6L529.4 355ZM533.4 348L537.4 345L540 348L536.4 350ZM548 288.4L556.4 285L557.4 288.4L549.4 290.4ZM610.4 299.6L612.8 294L618.4 289.6L620.8 291.6L616.4 298L611.4 300.4ZM655.4 289L658.4 284L662 282L663.4 278L665.4 278.4L666 283L670.4 283L671.4 288L674.4 290L677.4 296L682.8 301L684.8 307L682.8 310.4L679.4 307L678 302L673.4 297L669.4 294L665.4 296L660.4 293L656.4 291ZM686.8 311L690.4 307L695.4 305L699.4 309L700.8 314L697.4 316.4L694 317L692.4 321L690 321L688.4 316ZM700 305.6L702 305L706 311.6L704.4 312.4ZM700.4 317L704.8 317.6L707.4 315L710.4 312L714 315L716.8 319L718.4 323L715.4 326L712.4 329L708.8 329L706.4 325L702.8 323ZM724 313.6L727.4 313L730.4 316.4L733.4 320L731.4 322L728 319.6L724.8 316.4ZM731.4 313L734.4 312.4L738.4 317.6L739.4 320.4L736.4 320L733.4 316.4ZM724.4 331L726.8 324L730.4 323L733.4 327.6L737.4 330L741.4 335L738.4 338.4L733.4 340.4L729.4 339.6L725.4 336ZM758.4 354L762.4 348L768.4 344L778.4 341.6L781.4 346L782.4 350L777.4 352L771.4 355L766.4 358.4L762.4 358L758.8 356.4ZM726.4 281L729.4 280.4L735.4 283.6L734.4 285L728.4 284.4ZM673.4 88L679.4 88L679.4 92.4L672.8 93ZM644.4 102L658.4 102.4L658.4 107L644.8 106ZM694 168L696.4 168.4L692 186L690 185.6ZM715.4 144L718 144L718 149L715.4 149ZM659.4 155L661.4 155L661.4 159.6L659.4 159.6ZM656 141.6L658.4 141.6L658.4 145L656 145ZM574.8 287.6L578 287.6L578 290.4L574.8 290.4ZM510.4 300L517.4 299.6L518.4 305L511.4 306.4Z" fill="#00007c" shape-rendering="crispEdges"/>
<path d="M576.4 98.4L580.4 97.6L586.4 101L591.4 104L594 108L592.4 112L588.4 112.4L584.4 111.6L581.4 109L579.4 104Z" fill="#ff1c00" clip-path="url(#b0)" shape-rendering="crispEdges"/>
<path d="M613.4 106L616.4 107L618.4 111L620.4 108L623.4 110L626.4 107L629.4 109L632.4 102L637.4 101L640.4 105L641.4 111L639.4 115L636.4 117L636 129L632.8 129L632 121L628.4 120L624.4 121.6L620.4 120.4L618.4 116L615.4 113Z" fill="#ff1c00" clip-path="url(#b1)" shape-rendering="crispEdges"/>
<path d="M606.8 122L610 121.6L612.4 124.4L618.4 123L619.4 126.4L616.4 130L612.4 129L608.4 129.6L606.4 126.4Z" fill="#ff1c00" clip-path="url(#b2)" shape-rendering="crispEdges"/>
<path d="M644.8 102.6L647.2 102.6L647.2 106L644.8 106Z" fill="#ff1c00" clip-path="url(#b3)" shape-rendering="crispEdges"/>
<path d="M542.4 127.6L546.4 126.4L550 129L550.4 134L552 137.6L549.4 137.6L547.4 134L544 132Z" fill="#ff1c00" clip-path="url(#b4)" shape-rendering="crispEdges"/>
<path d="M560.4 131L564.4 130L566.8 134L568 137.6L564.4 138.4L561.4 136Z" fill="#ff1c00" clip-path="url(#b5)" shape-rendering="crispEdges"/>
<path d="M542.8 147L547.4 145L550.4 142L555.4 142L559.4 145L557.4 148.4L554.4 150L553.4 153L548.4 153.6L544.4 153L542 150Z" fill="#ff1c00" clip-path="url(#b6)" shape-rendering="crispEdges"/>
<path d="M570.4 142.6L573.4 141.4L576 136L577.4 132.6L580 133.4L580.8 136L583.4 138L584 142.6L582 146L577.4 148.4L574 146.6L571.4 144.6Z" fill="#ff1c00" clip-path="url(#b7)" shape-rendering="crispEdges"/>
<path d="M586.4 136L588 134.6L590.8 136.6L593.4 140.6L593.6 143.4L590.8 144.4L588 142L586.8 139.4Z" fill="#ff1c00" clip-path="url(#b8)" shape-rendering="crispEdges"/>
<path d="M587.4 151L592.4 149.6L594.4 148.4L598.4 151L600 155.6L596.4 157L593.4 155.6L590.4 157L588.4 154Z" fill="#ff1c00" clip-path="url(#b9)" shape-rendering="crispEdges"/>
<path d="M602.8 147L605.4 146.4L608.4 153L606.8 155L604.4 152Z" fill="#ff1c00" clip-path="url(#b10)" shape-rendering="crispEdges"/>
<path d="M612 149L614.8 149L615.4 153.6L612.8 153.6Z" fill="#ff1c00" clip-path="url(#b11)" shape-rendering="crispEdges"/>
<path d="M619.4 144.4L623.4 143L626.4 145L630.4 142L635.4 143L638.4 146L640.4 151L638.4 153L634.4 151L630.4 153.6L627.4 153L624.4 155.6L621.4 153L620 148.4Z" fill="#ff1c00" clip-path="url(#b12)" shape-rendering="crispEdges"/>
<path d="M639.4 143L642.4 144L644.8 151L646.4 154L643.4 155L640.4 150Z" fill="#ff1c00" clip-path="url(#b13)" shape-rendering="crispEdges"/>
<path d="M566.8 164L570.8 164.4L572.8 166L570.4 167.6L567.6 167Z" fill="#ff1c00" clip-path="url(#b14)" shape-rendering="crispEdges"/>
<path d="M648 109.6L651.4 108L654 110L653.4 115L650.4 116.4L648.4 114Z" fill="#ff1c00" clip-path="url(#b15)" shape-rendering="crispEdges"/>
<path d="M652 104L655.4 104L655.4 106.4L652 106.4Z" fill="#ff1c00" clip-path="url(#b16)" shape-rendering="crispEdges"/>
<path d="M658.4 107L660.4 107L660.8 111L658.8 111Z" fill="#ff1c00" clip-path="url(#b17)" shape-rendering="crispEdges"/>
<path d="M691.4 91.6L692.8 89.6L695.4 89.2L698 90.8L698.4 93.6L696.4 95.6L693.6 95.6L691.6 94Z" fill="#ff1c00" clip-path="url(#b18)" shape-rendering="crispEdges"/>
<path d="M711.4 91.6L714 91.6L714 94.4L711.4 94.4Z" fill="#ff1c00" clip-path="url(#b19)" shape-rendering="crispEdges"/>
<path d="M717.4 110L721.4 107L724 110L723.4 115L721.4 117.6L718.4 114Z" fill="#ff1c00" clip-path="url(#b20)" shape-rendering="crispEdges"/>
<path d="M732.4 104L736.4 102L738.4 107L739.4 116L736.4 117.6L734.4 113L732 110Z" fill="#ff1c00" clip-path="url(#b21)" shape-rendering="crispEdges"/>
<path d="M722.8 121.6L726 120L730.4 121L731.4 124L728.4 125.6L724 125Z" fill="#ff1c00" clip-path="url(#b22)" shape-rendering="crispEdges"/>
<path d="M734 121.6L736.4 121L736.4 125L734 125.6Z" fill="#ff1c00" clip-path="url(#b23)" shape-rendering="crispEdges"/>
<path d="M728.4 140L731.4 138L736.4 137L737.4 139L734.4 141.6L729.4 143Z" fill="#ff1c00" clip-path="url(#b24)" shape-rendering="crispEdges"/>
<path d="M649.4 135L653.4 133.6L655.4 137.6L654.4 142L650.4 143L648.8 139Z" fill="#ff1c00" clip-path="url(#b25)" shape-rendering="crispEdges"/>
<path d="M646 149L648 143L650.8 144L651.4 152L646.8 153Z" fill="#ff1c00" clip-path="url(#b26)" shape-rendering="crispEdges"/>
<path d="M682.8 139L685.4 138.4L685.4 147L682.8 147.6Z" fill="#ff1c00" clip-path="url(#b27)" shape-rendering="crispEdges"/>
<path d="M686.8 147L689.4 143L692 145L692.8 153L690.4 155L688 152Z" fill="#ff1c00" clip-path="url(#b28)" shape-rendering="crispEdges"/>
<path d="M703.4 148.4L705.4 148L704.8 152L703 152Z" fill="#ff1c00" clip-path="url(#b29)" shape-rendering="crispEdges"/>
<path d="M714.4 165L716.4 160L720.4 157.6L724 159L722.8 163.6L718.4 167L715.4 167Z" fill="#ff1c00" clip-path="url(#b30)" shape-rendering="crispEdges"/>
<path d="M699.4 172L700.8 167L704.4 164.4L706.8 166.4L705.4 171.6L702 174.4L699.8 174Z" fill="#ff1c00" clip-path="url(#b31)" shape-rendering="crispEdges"/>
<path d="M666 177L668 176.4L668.8 183L667.4 185.6L666 183Z" fill="#ff1c00" clip-path="url(#b32)" shape-rendering="crispEdges"/>
<path d="M712.4 180L715.4 176L719.4 178L722.4 174L726.4 175L729.4 179L734.4 181L739 184L737.4 189L732.4 191L728.4 190L725.4 194L721.4 193.6L719.4 190L715.4 193L713 192L714.4 186Z" fill="#ff1c00" clip-path="url(#b33)" shape-rendering="crispEdges"/>
<path d="M743 195L748.4 189L751 191L745.4 197Z" fill="#ff1c00" clip-path="url(#b34)" shape-rendering="crispEdges"/>
<path d="M714.4 210L719.4 203.6L722.4 205L721.4 210L726.4 209L722.4 213.6L718.4 215L716.4 218L713.8 217Z" fill="#ff1c00" clip-path="url(#b35)" shape-rendering="crispEdges"/>
<path d="M729 209L734.4 204L737 206.4L731.4 211.6Z" fill="#ff1c00" clip-path="url(#b36)" shape-rendering="crispEdges"/>
<path d="M723 223L731.4 215L736.4 215L726.4 224.4Z" fill="#ff1c00" clip-path="url(#b37)" shape-rendering="crispEdges"/>
<path d="M737.4 219L741.4 217L748.4 218L749.4 221L745.8 223.6L747.4 226L754.4 227L762.4 227L761.4 229.6L754.4 232L747.4 233L739.4 232L735 229L736.4 225L740.4 223Z" fill="#ff1c00" clip-path="url(#b38)" shape-rendering="crispEdges"/>
<path d="M770.4 225.6L778.4 224L778.4 226L771 227.6Z" fill="#ff1c00" clip-path="url(#b39)" shape-rendering="crispEdges"/>
<path d="M780.4 221L788.4 219L794.4 219L793.4 222L789.4 223.6L787.4 227L785 226.4L785.8 223L781 222.4Z" fill="#ff1c00" clip-path="url(#b40)" shape-rendering="crispEdges"/>
<path d="M674 192L676.8 191.6L676.8 201L674 202Z" fill="#ff1c00" clip-path="url(#b41)" shape-rendering="crispEdges"/>
<path d="M482.8 274.4L489.4 273.6L490.4 279L483.4 279.6Z" fill="#ff1c00" clip-path="url(#b42)" shape-rendering="crispEdges"/>
<path d="M494 278L498.4 275.6L502 278L501.4 285L505.4 289L510.4 292L508.4 296L506 297L510.4 299L512.4 304L511.4 311L506.4 312.4L501.4 311.6L498.4 307L499.4 303L496.8 298L498.8 294L494.8 288L493.4 282Z" fill="#ff1c00" clip-path="url(#b43)" shape-rendering="crispEdges"/>
<path d="M510.4 319L513.4 317.2L516.8 317.6L518.8 320.4L518 324L514.4 325.6L511.4 324.4L510 322Z" fill="#ff1c00" clip-path="url(#b44)" shape-rendering="crispEdges"/>
<path d="M499.4 330.4L515.4 325L534.4 317.6L528.4 323L523.4 326L522.4 329L517.4 332.4L512.4 332L510.4 328.4Z" fill="#ff1c00" clip-path="url(#b45)" shape-rendering="crispEdges"/>
<path d="M521.4 355L528.4 349.6L529.4 355Z" fill="#ff1c00" clip-path="url(#b46)" shape-rendering="crispEdges"/>
<path d="M533.4 348L537.4 345L540 348L536.4 350Z" fill="#ff1c00" clip-path="url(#b47)" shape-rendering="crispEdges"/>
<path d="M548 288.4L556.4 285L557.4 288.4L549.4 290.4Z" fill="#ff1c00" clip-path="url(#b48)" shape-rendering="crispEdges"/>
<path d="M610.4 299.6L612.8 294L618.4 289.6L620.8 291.6L616.4 298L611.4 300.4Z" fill="#ff1c00" clip-path="url(#b49)" shape-rendering="crispEdges"/>
<path d="M655.4 289L658.4 284L662 282L663.4 278L665.4 278.4L666 283L670.4 283L671.4 288L674.4 290L677.4 296L682.8 301L684.8 307L682.8 310.4L679.4 307L678 302L673.4 297L669.4 294L665.4 296L660.4 293L656.4 291Z" fill="url(#pRed)" clip-path="url(#b50)" shape-rendering="crispEdges"/>
<path d="M686.8 311L690.4 307L695.4 305L699.4 309L700.8 314L697.4 316.4L694 317L692.4 321L690 321L688.4 316Z" fill="url(#pRed)" clip-path="url(#b51)" shape-rendering="crispEdges"/>
<path d="M700 305.6L702 305L706 311.6L704.4 312.4Z" fill="#ff1c00" clip-path="url(#b52)" shape-rendering="crispEdges"/>
<path d="M700.4 317L704.8 317.6L707.4 315L710.4 312L714 315L716.8 319L718.4 323L715.4 326L712.4 329L708.8 329L706.4 325L702.8 323Z" fill="url(#pRed)" clip-path="url(#b53)" shape-rendering="crispEdges"/>
<path d="M724 313.6L727.4 313L730.4 316.4L733.4 320L731.4 322L728 319.6L724.8 316.4Z" fill="#ff1c00" clip-path="url(#b54)" shape-rendering="crispEdges"/>
<path d="M731.4 313L734.4 312.4L738.4 317.6L739.4 320.4L736.4 320L733.4 316.4Z" fill="#ff1c00" clip-path="url(#b55)" shape-rendering="crispEdges"/>
<path d="M724.4 331L726.8 324L730.4 323L733.4 327.6L737.4 330L741.4 335L738.4 338.4L733.4 340.4L729.4 339.6L725.4 336Z" fill="url(#pRed)" clip-path="url(#b56)" shape-rendering="crispEdges"/>
<path d="M758.4 354L762.4 348L768.4 344L778.4 341.6L781.4 346L782.4 350L777.4 352L771.4 355L766.4 358.4L762.4 358L758.8 356.4Z" fill="#ff1c00" clip-path="url(#b57)" shape-rendering="crispEdges"/>
<path d="M726.4 281L729.4 280.4L735.4 283.6L734.4 285L728.4 284.4Z" fill="#ff1c00" clip-path="url(#b58)" shape-rendering="crispEdges"/>
<path d="M673.4 88L679.4 88L679.4 92.4L672.8 93Z" fill="#ff1c00" clip-path="url(#b59)" shape-rendering="crispEdges"/>
<path d="M644.4 102L658.4 102.4L658.4 107L644.8 106Z" fill="#ff1c00" clip-path="url(#b60)" shape-rendering="crispEdges"/>
<path d="M694 168L696.4 168.4L692 186L690 185.6Z" fill="#ff1c00" clip-path="url(#b61)" shape-rendering="crispEdges"/>
<path d="M715.4 144L718 144L718 149L715.4 149Z" fill="#ff1c00" clip-path="url(#b62)" shape-rendering="crispEdges"/>
<path d="M659.4 155L661.4 155L661.4 159.6L659.4 159.6Z" fill="#ff1c00" clip-path="url(#b63)" shape-rendering="crispEdges"/>
<path d="M656 141.6L658.4 141.6L658.4 145L656 145Z" fill="#ff1c00" clip-path="url(#b64)" shape-rendering="crispEdges"/>
<path d="M574.8 287.6L578 287.6L578 290.4L574.8 290.4Z" fill="#ff1c00" clip-path="url(#b65)" shape-rendering="crispEdges"/>
<path d="M510.4 300L517.4 299.6L518.4 305L511.4 306.4Z" fill="#ff1c00" clip-path="url(#b66)" shape-rendering="crispEdges"/>
<circle cx="667.8" cy="261.6" r="7.6" fill="#fff"/>
<path d="M481 145.6L493 139L509 129L509 119.6L513 118.4L513 112L516.6 109.6L514 106L509 107L505.4 102L511 97.6L513 93L528 91.6L544 90.4L545 107L550 108L556 106L555.4 99L557 92.4L561 91L563 88L565 91L570 93.6L577 94L581 96.4L587 97.6L593 95.6L601 96.4L609 98.4L612 102L619 104L620 103L623 100.5L624.5 99.5L625.5 101L627.5 102L631 102L634 101L636.5 98.5L637 96L640.5 94.2L642 96.5L644.5 97L648 96L651 93.5L653 91L651.5 89.5L657 94.2L659.5 91.5L664 87.2L663 85.5L657.5 88.2L656.5 87L662 84L667 81.2L670 79.8L671.5 82L674 81.5L677.5 78L681 75.8L685 75.3M677.5 78L677.8 81.2L681 83.2L685 82.5L686.3 80L686.5 77L689 75.6M711.5 75L714 88.5L716.5 90L715.8 93L717.2 96L709.5 97.8L708.5 95L705.5 96L709.5 107L719 104.2L718.2 101L720 100L725 106L731.5 103.2L728.5 96.5L730.5 95.5L734 101L746.5 95L741.5 85L731.5 89.5L721.8 85L732 80L730 75M750 75L751 77L755.5 76L757 79.5L749 84L751.5 89.5L764.5 83.2L761 75" fill="none" stroke="#000" stroke-width="1.1" stroke-linejoin="round"/>
<rect x="59.2" y="74.4" width="374.40000000000003" height="374.4" fill="none" stroke="#000" stroke-width="2"/>
<path d="M59.20 74.4v-14.6M59.20 448.8v14.6M59.2 74.40h-14.6M433.6 74.40h14.6M152.80 74.4v-14.6M152.80 448.8v14.6M59.2 168.00h-14.6M433.6 168.00h14.6M246.40 74.4v-14.6M246.40 448.8v14.6M59.2 261.60h-14.6M433.6 261.60h14.6M340.00 74.4v-14.6M340.00 448.8v14.6M59.2 355.20h-14.6M433.6 355.20h14.6M433.60 74.4v-14.6M433.60 448.8v14.6M59.2 448.80h-14.6M433.6 448.80h14.6" stroke="#000" stroke-width="1.8" fill="none"/>
<path d="M74.80 74.4v-7M74.80 448.8v7M59.2 90.00h-7M433.6 90.00h7M90.40 74.4v-7M90.40 448.8v7M59.2 105.60h-7M433.6 105.60h7M106.00 74.4v-7M106.00 448.8v7M59.2 121.20h-7M433.6 121.20h7M121.60 74.4v-7M121.60 448.8v7M59.2 136.80h-7M433.6 136.80h7M137.20 74.4v-7M137.20 448.8v7M59.2 152.40h-7M433.6 152.40h7M168.40 74.4v-7M168.40 448.8v7M59.2 183.60h-7M433.6 183.60h7M184.00 74.4v-7M184.00 448.8v7M59.2 199.20h-7M433.6 199.20h7M199.60 74.4v-7M199.60 448.8v7M59.2 214.80h-7M433.6 214.80h7M215.20 74.4v-7M215.20 448.8v7M59.2 230.40h-7M433.6 230.40h7M230.80 74.4v-7M230.80 448.8v7M59.2 246.00h-7M433.6 246.00h7M262.00 74.4v-7M262.00 448.8v7M59.2 277.20h-7M433.6 277.20h7M277.60 74.4v-7M277.60 448.8v7M59.2 292.80h-7M433.6 292.80h7M293.20 74.4v-7M293.20 448.8v7M59.2 308.40h-7M433.6 308.40h7M308.80 74.4v-7M308.80 448.8v7M59.2 324.00h-7M433.6 324.00h7M324.40 74.4v-7M324.40 448.8v7M59.2 339.60h-7M433.6 339.60h7M355.60 74.4v-7M355.60 448.8v7M59.2 370.80h-7M433.6 370.80h7M371.20 74.4v-7M371.20 448.8v7M59.2 386.40h-7M433.6 386.40h7M386.80 74.4v-7M386.80 448.8v7M59.2 402.00h-7M433.6 402.00h7M402.40 74.4v-7M402.40 448.8v7M59.2 417.60h-7M433.6 417.60h7M418.00 74.4v-7M418.00 448.8v7M59.2 433.20h-7M433.6 433.20h7" stroke="#000" stroke-width="1.2" fill="none"/>
<rect x="480.6" y="74.4" width="374.4" height="374.4" fill="none" stroke="#000" stroke-width="2"/>
<path d="M480.60 74.4v-14.6M480.60 448.8v14.6M480.6 74.40h-14.6M855.0 74.40h14.6M574.20 74.4v-14.6M574.20 448.8v14.6M480.6 168.00h-14.6M855.0 168.00h14.6M667.80 74.4v-14.6M667.80 448.8v14.6M480.6 261.60h-14.6M855.0 261.60h14.6M761.40 74.4v-14.6M761.40 448.8v14.6M480.6 355.20h-14.6M855.0 355.20h14.6M855.00 74.4v-14.6M855.00 448.8v14.6M480.6 448.80h-14.6M855.0 448.80h14.6" stroke="#000" stroke-width="1.8" fill="none"/>
<path d="M496.20 74.4v-7M496.20 448.8v7M480.6 90.00h-7M855.0 90.00h7M511.80 74.4v-7M511.80 448.8v7M480.6 105.60h-7M855.0 105.60h7M527.40 74.4v-7M527.40 448.8v7M480.6 121.20h-7M855.0 121.20h7M543.00 74.4v-7M543.00 448.8v7M480.6 136.80h-7M855.0 136.80h7M558.60 74.4v-7M558.60 448.8v7M480.6 152.40h-7M855.0 152.40h7M589.80 74.4v-7M589.80 448.8v7M480.6 183.60h-7M855.0 183.60h7M605.40 74.4v-7M605.40 448.8v7M480.6 199.20h-7M855.0 199.20h7M621.00 74.4v-7M621.00 448.8v7M480.6 214.80h-7M855.0 214.80h7M636.60 74.4v-7M636.60 448.8v7M480.6 230.40h-7M855.0 230.40h7M652.20 74.4v-7M652.20 448.8v7M480.6 246.00h-7M855.0 246.00h7M683.40 74.4v-7M683.40 448.8v7M480.6 277.20h-7M855.0 277.20h7M699.00 74.4v-7M699.00 448.8v7M480.6 292.80h-7M855.0 292.80h7M714.60 74.4v-7M714.60 448.8v7M480.6 308.40h-7M855.0 308.40h7M730.20 74.4v-7M730.20 448.8v7M480.6 324.00h-7M855.0 324.00h7M745.80 74.4v-7M745.80 448.8v7M480.6 339.60h-7M855.0 339.60h7M777.00 74.4v-7M777.00 448.8v7M480.6 370.80h-7M855.0 370.80h7M792.60 74.4v-7M792.60 448.8v7M480.6 386.40h-7M855.0 386.40h7M808.20 74.4v-7M808.20 448.8v7M480.6 402.00h-7M855.0 402.00h7M823.80 74.4v-7M823.80 448.8v7M480.6 417.60h-7M855.0 417.60h7M839.40 74.4v-7M839.40 448.8v7M480.6 433.20h-7M855.0 433.20h7" stroke="#000" stroke-width="1.2" fill="none"/>
<text x="58.9" y="24.4" font-size="32.4" text-anchor="start" textLength="524.5" lengthAdjust="spacingAndGlyphs" style="opacity:.999" stroke="#000" stroke-width="0.5">Fukuoka, 20190621 [04:55, el=0.0]</text>
<text x="58.8" y="58.4" font-size="29.6" text-anchor="start" textLength="120.5" lengthAdjust="spacingAndGlyphs" style="opacity:.999" stroke="#000" stroke-width="0.4">SNR [dB]</text>
<text x="480.6" y="58.4" font-size="29.6" text-anchor="start" textLength="310" lengthAdjust="spacingAndGlyphs" style="opacity:.999" stroke="#000" stroke-width="0.4">Doppler Velocity [m/s]</text>
<text x="31.4" y="84.5" font-size="29.4" text-anchor="end" style="opacity:.999" stroke="#000" stroke-width="0.4">6</text>
<text x="31.4" y="178.1" font-size="29.4" text-anchor="end" style="opacity:.999" stroke="#000" stroke-width="0.4">3</text>
<text x="31.4" y="271.70000000000005" font-size="29.4" text-anchor="end" style="opacity:.999" stroke="#000" stroke-width="0.4">0</text>
<text x="31.4" y="365.29999999999995" font-size="29.4" text-anchor="end" style="opacity:.999" stroke="#000" stroke-width="0.4">−3</text>
<text x="31.4" y="458.9" font-size="29.4" text-anchor="end" style="opacity:.999" stroke="#000" stroke-width="0.4">−6</text>
<text x="59.2" y="499.7" font-size="29.4" text-anchor="middle" style="opacity:.999" stroke="#000" stroke-width="0.4">−6</text>
<text x="152.8" y="499.7" font-size="29.4" text-anchor="middle" style="opacity:.999" stroke="#000" stroke-width="0.4">−3</text>
<text x="246.39999999999998" y="499.7" font-size="29.4" text-anchor="middle" style="opacity:.999" stroke="#000" stroke-width="0.4">0</text>
<text x="339.99999999999994" y="499.7" font-size="29.4" text-anchor="middle" style="opacity:.999" stroke="#000" stroke-width="0.4">3</text>
<text x="433.59999999999997" y="499.7" font-size="29.4" text-anchor="middle" style="opacity:.999" stroke="#000" stroke-width="0.4">6</text>
<text x="480.6" y="499.7" font-size="29.4" text-anchor="middle" style="opacity:.999" stroke="#000" stroke-width="0.4">−6</text>
<text x="574.2" y="499.7" font-size="29.4" text-anchor="middle" style="opacity:.999" stroke="#000" stroke-width="0.4">−3</text>
<text x="667.8" y="499.7" font-size="29.4" text-anchor="middle" style="opacity:.999" stroke="#000" stroke-width="0.4">0</text>
<text x="761.4" y="499.7" font-size="29.4" text-anchor="middle" style="opacity:.999" stroke="#000" stroke-width="0.4">3</text>
<text x="855.0" y="499.7" font-size="29.4" text-anchor="middle" style="opacity:.999" stroke="#000" stroke-width="0.4">6</text>
<rect x="59.00" y="509.2" width="9.20" height="10.20" fill="rgb(0,0,0)"/>
<rect x="68.10" y="509.2" width="9.20" height="10.20" fill="rgb(0,0,0)"/>
<rect x="77.20" y="509.2" width="9.20" height="10.20" fill="rgb(0,0,0)"/>
<rect x="86.30" y="509.2" width="9.20" height="10.20" fill="rgb(0,0,0)"/>
<rect x="95.40" y="509.2" width="9.20" height="10.20" fill="rgb(0,0,0)"/>
<rect x="104.50" y="509.2" width="9.20" height="10.20" fill="rgb(0,0,0)"/>
<rect x="113.60" y="509.2" width="9.20" height="10.20" fill="rgb(0,0,0)"/>
<rect x="122.70" y="509.2" width="9.20" height="10.20" fill="rgb(0,0,0)"/>
<rect x="131.80" y="509.2" width="9.20" height="10.20" fill="rgb(0,0,0)"/>
<rect x="140.90" y="509.2" width="9.20" height="10.20" fill="rgb(0,0,0)"/>
<rect x="150.00" y="509.2" width="9.20" height="10.20" fill="rgb(9,9,9)"/>
<rect x="159.10" y="509.2" width="9.20" height="10.20" fill="rgb(19,19,19)"/>
<rect x="168.20" y="509.2" width="9.20" height="10.20" fill="rgb(28,28,28)"/>
<rect x="177.30" y="509.2" width="9.20" height="10.20" fill="rgb(38,38,38)"/>
<rect x="186.40" y="509.2" width="9.20" height="10.20" fill="rgb(47,47,47)"/>
<rect x="195.50" y="509.2" width="9.20" height="10.20" fill="rgb(57,57,57)"/>
<rect x="204.60" y="509.2" width="9.20" height="10.20" fill="rgb(66,66,66)"/>
<rect x="213.70" y="509.2" width="9.20" height="10.20" fill="rgb(76,76,76)"/>
<rect x="222.80" y="509.2" width="9.20" height="10.20" fill="rgb(85,85,85)"/>
<rect x="231.90" y="509.2" width="9.20" height="10.20" fill="rgb(94,94,94)"/>
<rect x="241.00" y="509.2" width="9.20" height="10.20" fill="rgb(104,104,104)"/>
<rect x="250.10" y="509.2" width="9.20" height="10.20" fill="rgb(113,113,113)"/>
<rect x="259.20" y="509.2" width="9.20" height="10.20" fill="rgb(123,123,123)"/>
<rect x="268.30" y="509.2" width="9.20" height="10.20" fill="rgb(132,132,132)"/>
<rect x="277.40" y="509.2" width="9.20" height="10.20" fill="rgb(142,142,142)"/>
<rect x="286.50" y="509.2" width="9.20" height="10.20" fill="rgb(151,151,151)"/>
<rect x="295.60" y="509.2" width="9.20" height="10.20" fill="rgb(161,161,161)"/>
<rect x="304.70" y="509.2" width="9.20" height="10.20" fill="rgb(170,170,170)"/>
<rect x="313.80" y="509.2" width="9.20" height="10.20" fill="rgb(179,179,179)"/>
<rect x="322.90" y="509.2" width="9.20" height="10.20" fill="rgb(189,189,189)"/>
<rect x="332.00" y="509.2" width="9.20" height="10.20" fill="rgb(198,198,198)"/>
<rect x="341.10" y="509.2" width="9.20" height="10.20" fill="rgb(208,208,208)"/>
<rect x="350.20" y="509.2" width="9.20" height="10.20" fill="rgb(217,217,217)"/>
<rect x="359.30" y="509.2" width="9.20" height="10.20" fill="rgb(227,227,227)"/>
<rect x="368.40" y="509.2" width="9.20" height="10.20" fill="rgb(236,236,236)"/>
<rect x="377.50" y="509.2" width="9.20" height="10.20" fill="rgb(246,246,246)"/>
<path d="M386.60 509.2L396.00 514.30L386.60 519.4Z" fill="#ffff00" stroke="#000" stroke-width="1.6" stroke-linejoin="miter"/>
<path d="M58.0 509.2H386.60M58.0 519.4H386.60" stroke="#000" stroke-width="1.8" fill="none"/>
<path d="M68.10 509.2V526.4M77.20 509.2V526.4M86.30 509.2V526.4M95.40 509.2V526.4M113.60 509.2V526.4M122.70 509.2V526.4M131.80 509.2V526.4M140.90 509.2V526.4M159.10 509.2V526.4M168.20 509.2V526.4M177.30 509.2V526.4M186.40 509.2V526.4M204.60 509.2V526.4M213.70 509.2V526.4M222.80 509.2V526.4M231.90 509.2V526.4M250.10 509.2V526.4M259.20 509.2V526.4M268.30 509.2V526.4M277.40 509.2V526.4M295.60 509.2V526.4M304.70 509.2V526.4M313.80 509.2V526.4M322.90 509.2V526.4M341.10 509.2V526.4M350.20 509.2V526.4M359.30 509.2V526.4M368.40 509.2V526.4M386.60 509.2V526.4" stroke="#000" stroke-width="1.2" fill="none"/>
<path d="M59.00 509.2V533.6M104.50 509.2V533.6M150.00 509.2V533.6M195.50 509.2V533.6M241.00 509.2V533.6M286.50 509.2V533.6M332.00 509.2V533.6M377.50 509.2V533.6" stroke="#000" stroke-width="1.8" fill="none"/>
<text x="59.0" y="570.2" font-size="29.4" text-anchor="middle" style="opacity:.999" stroke="#000" stroke-width="0.4">0</text>
<text x="104.5" y="570.2" font-size="29.4" text-anchor="middle" style="opacity:.999" stroke="#000" stroke-width="0.4">2.5</text>
<text x="150.0" y="570.2" font-size="29.4" text-anchor="middle" style="opacity:.999" stroke="#000" stroke-width="0.4">5</text>
<text x="195.5" y="570.2" font-size="29.4" text-anchor="middle" style="opacity:.999" stroke="#000" stroke-width="0.4">7.5</text>
<text x="241.0" y="570.2" font-size="29.4" text-anchor="middle" style="opacity:.999" stroke="#000" stroke-width="0.4">10</text>
<text x="286.5" y="570.2" font-size="29.4" text-anchor="middle" style="opacity:.999" stroke="#000" stroke-width="0.4">12.5</text>
<text x="332.0" y="570.2" font-size="29.4" text-anchor="middle" style="opacity:.999" stroke="#000" stroke-width="0.4">15</text>
<text x="377.5" y="570.2" font-size="29.4" text-anchor="middle" style="opacity:.999" stroke="#000" stroke-width="0.4">17.5</text>
<rect x="480.60" y="509.2" width="8.75" height="10.20" fill="#e0ffff"/>
<rect x="489.25" y="509.2" width="8.75" height="10.20" fill="#c0ffff"/>
<rect x="497.90" y="509.2" width="8.75" height="10.20" fill="#a0ffff"/>
<rect x="506.55" y="509.2" width="8.75" height="10.20" fill="#80ffff"/>
<rect x="515.20" y="509.2" width="8.75" height="10.20" fill="#60f0ff"/>
<rect x="523.85" y="509.2" width="8.75" height="10.20" fill="#48d8ff"/>
<rect x="532.50" y="509.2" width="8.75" height="10.20" fill="#38c0ff"/>
<rect x="541.15" y="509.2" width="8.75" height="10.20" fill="#28a0ff"/>
<rect x="549.80" y="509.2" width="8.75" height="10.20" fill="#1c80ff"/>
<rect x="558.45" y="509.2" width="8.75" height="10.20" fill="#1060ff"/>
<rect x="567.10" y="509.2" width="8.75" height="10.20" fill="#0840ff"/>
<rect x="575.75" y="509.2" width="8.75" height="10.20" fill="#0020ff"/>
<rect x="584.40" y="509.2" width="8.75" height="10.20" fill="#0000ff"/>
<rect x="593.05" y="509.2" width="8.75" height="10.20" fill="#0000e8"/>
<rect x="601.70" y="509.2" width="8.75" height="10.20" fill="#0000d0"/>
<rect x="610.35" y="509.2" width="8.75" height="10.20" fill="#0000b8"/>
<rect x="619.00" y="509.2" width="8.75" height="10.20" fill="#0000a0"/>
<rect x="627.65" y="509.2" width="8.75" height="10.20" fill="#000088"/>
<rect x="636.30" y="509.2" width="8.75" height="10.20" fill="#000070"/>
<rect x="644.95" y="509.2" width="8.75" height="10.20" fill="#f00000"/>
<rect x="653.60" y="509.2" width="8.75" height="10.20" fill="#ff2000"/>
<rect x="662.25" y="509.2" width="8.75" height="10.20" fill="#ff4000"/>
<rect x="670.90" y="509.2" width="8.75" height="10.20" fill="#ff5c00"/>
<rect x="679.55" y="509.2" width="8.75" height="10.20" fill="#ff7800"/>
<rect x="688.20" y="509.2" width="8.75" height="10.20" fill="#ff9000"/>
<rect x="696.85" y="509.2" width="8.75" height="10.20" fill="#ffa418"/>
<rect x="705.50" y="509.2" width="8.75" height="10.20" fill="#ffb828"/>
<rect x="714.15" y="509.2" width="8.75" height="10.20" fill="#ffcc30"/>
<rect x="722.80" y="509.2" width="8.75" height="10.20" fill="#ffdc38"/>
<rect x="731.45" y="509.2" width="8.75" height="10.20" fill="#fff040"/>
<rect x="740.10" y="509.2" width="8.75" height="10.20" fill="#ffff50"/>
<rect x="748.75" y="509.2" width="8.75" height="10.20" fill="#ffff68"/>
<rect x="757.40" y="509.2" width="8.75" height="10.20" fill="#ffff80"/>
<rect x="766.05" y="509.2" width="8.75" height="10.20" fill="#ffff90"/>
<rect x="774.70" y="509.2" width="8.75" height="10.20" fill="#ffffa0"/>
<rect x="783.35" y="509.2" width="8.75" height="10.20" fill="#ffffb0"/>
<rect x="792.00" y="509.2" width="8.75" height="10.20" fill="#ffffc0"/>
<rect x="800.65" y="509.2" width="8.75" height="10.20" fill="#ffffd0"/>
<path d="M809.30 509.2L818.30 514.30L809.30 519.4Z" fill="#ffffe8" stroke="#000" stroke-width="1.6"/>
<path d="M480.60 509.2L471.60 514.30L480.60 519.4Z" fill="#e8ffff" stroke="#000" stroke-width="1.6"/>
<path d="M480.6 509.2H809.30M480.6 519.4H809.30" stroke="#000" stroke-width="1.8" fill="none"/>
<path d="M480.60 509.2V526.4M489.25 509.2V526.4M497.90 509.2V526.4M515.20 509.2V526.4M523.85 509.2V526.4M532.50 509.2V526.4M541.15 509.2V526.4M549.80 509.2V526.4M558.45 509.2V526.4M567.10 509.2V526.4M584.40 509.2V526.4M593.05 509.2V526.4M601.70 509.2V526.4M610.35 509.2V526.4M619.00 509.2V526.4M627.65 509.2V526.4M636.30 509.2V526.4M653.60 509.2V526.4M662.25 509.2V526.4M670.90 509.2V526.4M679.55 509.2V526.4M688.20 509.2V526.4M696.85 509.2V526.4M705.50 509.2V526.4M722.80 509.2V526.4M731.45 509.2V526.4M740.10 509.2V526.4M748.75 509.2V526.4M757.40 509.2V526.4M766.05 509.2V526.4M774.70 509.2V526.4M792.00 509.2V526.4M800.65 509.2V526.4M809.30 509.2V526.4" stroke="#000" stroke-width="1.2" fill="none"/>
<path d="M506.55 509.2V533.6M575.75 509.2V533.6M644.95 509.2V533.6M714.15 509.2V533.6M783.35 509.2V533.6" stroke="#000" stroke-width="1.8" fill="none"/>
<text x="505.9" y="570.2" font-size="29.4" text-anchor="middle" style="opacity:.999" stroke="#000" stroke-width="0.4">−8</text>
<text x="575.0999999999999" y="570.2" font-size="29.4" text-anchor="middle" style="opacity:.999" stroke="#000" stroke-width="0.4">−4</text>
<text x="644.3" y="570.2" font-size="29.4" text-anchor="middle" style="opacity:.999" stroke="#000" stroke-width="0.4">0</text>
<text x="713.5" y="570.2" font-size="29.4" text-anchor="middle" style="opacity:.999" stroke="#000" stroke-width="0.4">4</text>
<text x="782.6999999999999" y="570.2" font-size="29.4" text-anchor="middle" style="opacity:.999" stroke="#000" stroke-width="0.4">8</text>
</svg>
</body></html>
